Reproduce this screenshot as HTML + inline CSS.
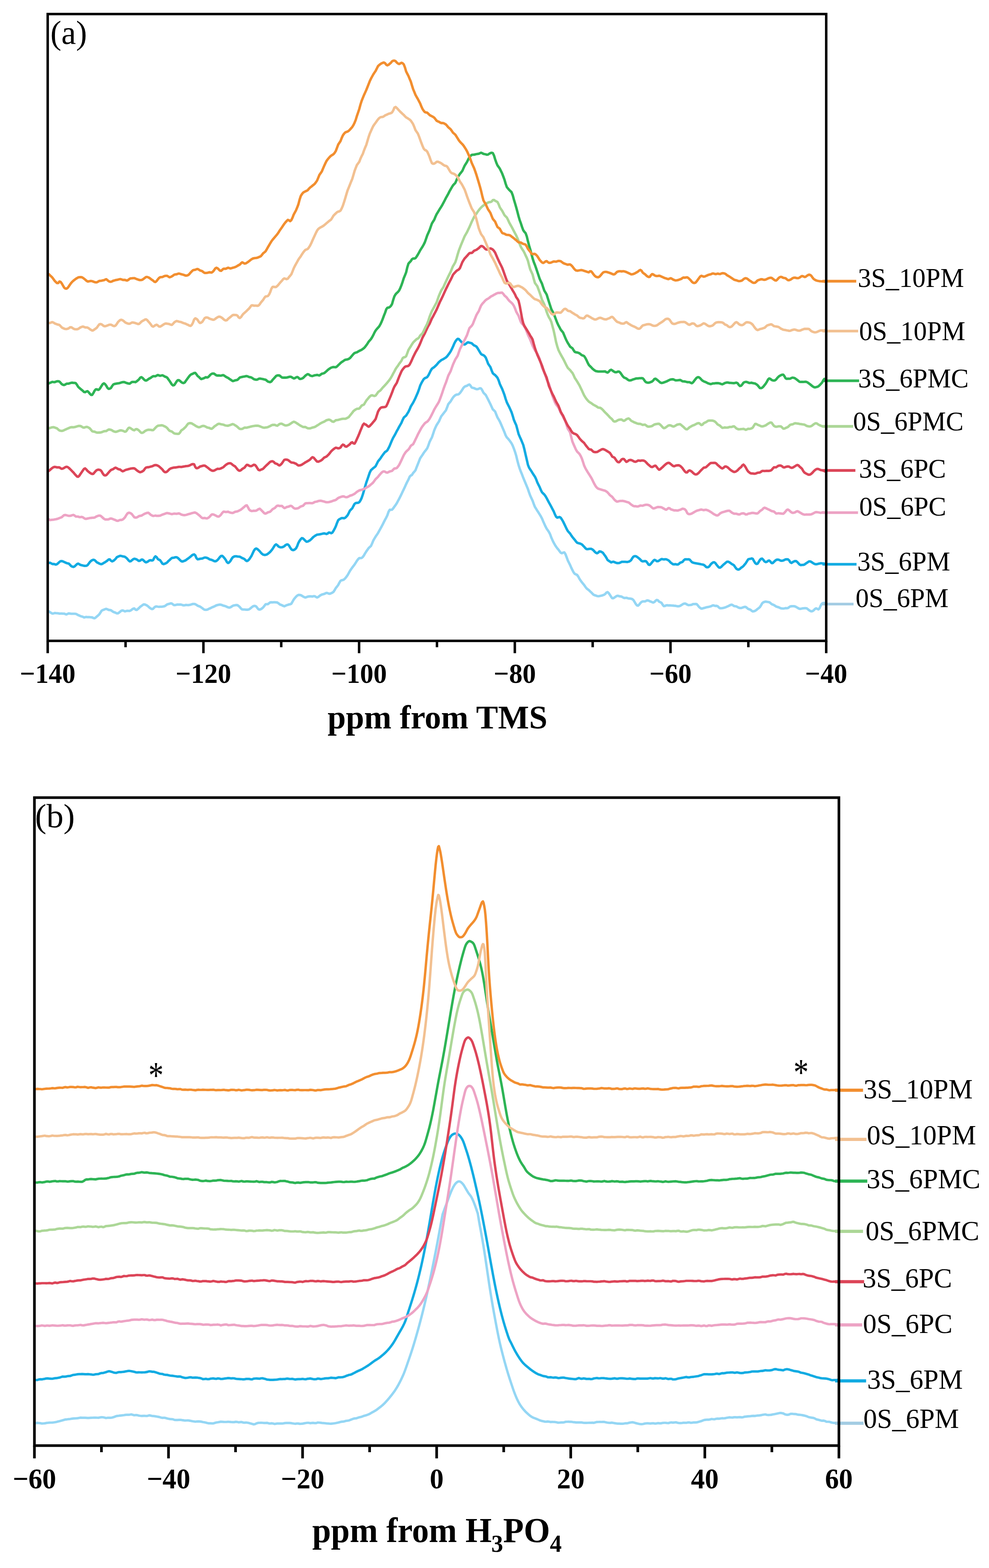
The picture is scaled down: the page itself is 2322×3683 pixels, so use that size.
<!DOCTYPE html>
<html lang="en"><head><meta charset="utf-8"><title>NMR spectra</title>
<style>html,body{margin:0;padding:0;background:#fff}svg{display:block}text{font-family:"Liberation Serif","DejaVu Serif",serif;fill:#000}.tk{font-weight:bold;font-size:63px;text-anchor:middle}.ax{font-weight:bold;font-size:77.2px}.pl{font-size:77.5px}.sl{font-size:62.3px}.tkb{font-weight:bold;font-size:65.2px;text-anchor:middle}.axb{font-weight:bold;font-size:79.3px}.plb{font-size:80.2px}.slb{font-size:64.1px}.stb{font-size:71px;text-anchor:middle}.cb{fill:none;stroke-width:5.7;stroke-linejoin:round;stroke-linecap:butt}.lgb{fill:none;stroke-width:7.4}.frb{fill:none;stroke:#000;stroke-width:6.2}.c{fill:none;stroke-width:5.8;stroke-linejoin:round;stroke-linecap:butt}.lg{fill:none;stroke-width:6.3}.fr{fill:none;stroke:#000;stroke-width:5.8}</style></head><body>
<svg width="2322" height="3683" viewBox="0 0 2322 3683">
<rect width="2322" height="3683" fill="#fff"/>
<g id="panel-a">
<path class="c" stroke="#94D6F4" d="M112.0,1435.5 L114.8,1436.1 L117.5,1438.0 L120.2,1439.7 L123.0,1441.2 L125.8,1440.9 L128.5,1439.9 L131.2,1440.2 L134.0,1440.4 L136.8,1440.6 L139.5,1441.3 L142.2,1441.2 L145.0,1441.2 L147.8,1441.4 L150.5,1441.3 L153.2,1442.4 L156.0,1443.2 L158.8,1441.9 L161.5,1440.8 L164.2,1441.2 L167.0,1441.7 L169.8,1441.6 L172.5,1441.7 L175.2,1441.7 L178.0,1441.8 L180.8,1443.2 L183.5,1444.8 L186.2,1445.8 L189.0,1447.2 L191.8,1448.0 L194.5,1448.8 L197.2,1450.3 L200.0,1449.7 L202.8,1449.2 L205.5,1449.6 L208.2,1449.4 L211.0,1449.6 L213.8,1450.0 L216.5,1450.1 L219.2,1451.6 L222.0,1452.2 L224.8,1450.4 L227.5,1447.9 L230.2,1445.7 L233.0,1443.1 L235.8,1438.8 L238.5,1434.7 L241.2,1432.9 L244.0,1432.0 L246.8,1430.8 L249.5,1430.1 L252.2,1431.2 L255.0,1432.5 L257.8,1432.8 L260.5,1433.4 L263.2,1435.4 L266.0,1437.2 L268.8,1438.2 L271.5,1439.3 L274.2,1440.7 L277.0,1440.7 L279.8,1438.7 L282.5,1436.4 L285.2,1434.4 L288.0,1433.8 L290.8,1434.9 L293.5,1436.0 L296.2,1435.3 L299.0,1434.6 L301.8,1434.9 L304.5,1435.0 L307.2,1433.7 L310.0,1431.5 L312.8,1429.7 L315.5,1429.2 L318.2,1432.1 L321.0,1432.6 L323.8,1430.5 L326.5,1428.0 L329.2,1425.2 L332.0,1423.3 L334.8,1421.2 L337.5,1419.6 L340.2,1419.9 L343.0,1421.2 L345.8,1422.6 L348.5,1424.9 L351.2,1427.4 L354.0,1429.3 L356.8,1430.6 L359.5,1429.9 L362.2,1426.9 L365.0,1424.8 L367.8,1424.5 L370.5,1425.0 L373.2,1425.4 L376.0,1425.2 L378.8,1425.2 L381.5,1424.9 L384.2,1424.4 L387.0,1423.6 L389.8,1421.7 L392.5,1419.7 L395.2,1418.8 L398.0,1418.2 L400.8,1417.2 L403.5,1417.7 L406.2,1419.8 L409.0,1421.4 L411.8,1421.2 L414.5,1420.3 L417.2,1420.0 L420.0,1420.1 L422.8,1420.0 L425.5,1420.1 L428.2,1421.1 L431.0,1421.9 L433.8,1421.7 L436.5,1420.9 L439.2,1421.1 L442.0,1421.3 L444.8,1420.8 L447.5,1420.4 L450.2,1419.4 L453.0,1418.6 L455.8,1418.6 L458.5,1419.2 L461.2,1420.7 L464.0,1422.7 L466.8,1423.7 L469.5,1424.8 L472.2,1426.5 L475.0,1428.5 L477.8,1430.8 L480.5,1432.2 L483.2,1432.4 L486.0,1432.2 L488.8,1431.0 L491.5,1429.5 L494.2,1428.5 L497.0,1426.9 L499.8,1425.8 L502.5,1424.8 L505.2,1423.4 L508.0,1421.9 L510.8,1421.1 L513.5,1420.5 L516.2,1420.2 L519.0,1420.5 L521.8,1421.5 L524.5,1422.7 L527.2,1423.2 L530.0,1424.0 L532.8,1425.5 L535.5,1426.5 L538.2,1427.2 L541.0,1426.5 L543.8,1424.7 L546.5,1422.9 L549.2,1422.0 L552.0,1421.6 L554.8,1421.2 L557.5,1421.5 L560.2,1423.3 L563.0,1425.9 L565.8,1429.3 L568.5,1431.4 L571.2,1431.6 L574.0,1431.6 L576.8,1432.0 L579.5,1432.1 L582.2,1432.0 L585.0,1431.2 L587.8,1429.2 L590.5,1426.8 L593.2,1424.7 L596.0,1423.3 L598.8,1423.2 L601.5,1424.6 L604.2,1428.1 L607.0,1431.2 L609.8,1431.8 L612.5,1430.8 L615.2,1429.0 L618.0,1426.6 L620.8,1422.9 L623.5,1419.4 L626.2,1419.2 L629.0,1419.0 L631.8,1416.8 L634.5,1414.9 L637.2,1414.6 L640.0,1414.8 L642.8,1414.6 L645.5,1414.6 L648.2,1414.8 L651.0,1415.2 L653.8,1417.1 L656.5,1419.3 L659.2,1420.6 L662.0,1421.6 L664.8,1423.1 L667.5,1424.0 L670.2,1422.9 L673.0,1421.5 L675.8,1420.8 L678.5,1419.7 L681.2,1419.3 L684.0,1418.0 L686.8,1413.2 L689.5,1408.3 L692.2,1404.9 L695.0,1401.7 L697.8,1399.0 L700.5,1397.5 L703.2,1397.4 L706.0,1397.9 L708.8,1399.4 L711.5,1401.2 L714.2,1402.5 L717.0,1403.4 L719.8,1402.5 L722.5,1401.3 L725.2,1401.0 L728.0,1400.7 L730.8,1400.9 L733.5,1401.2 L736.2,1400.3 L739.0,1400.3 L741.8,1402.2 L744.5,1403.4 L747.2,1402.2 L750.0,1399.9 L752.8,1398.0 L755.5,1396.6 L758.2,1395.8 L761.0,1395.2 L763.8,1393.8 L766.5,1392.7 L769.2,1393.1 L772.0,1394.5 L774.8,1394.5 L777.5,1393.4 L780.2,1392.1 L783.0,1390.1 L785.8,1385.8 L788.5,1381.1 L791.2,1377.9 L794.0,1374.1 L796.8,1368.7 L799.5,1364.3 L802.2,1362.9 L805.0,1362.3 L807.8,1361.0 L810.5,1358.4 L813.2,1355.0 L816.0,1351.1 L818.8,1346.1 L821.5,1341.1 L824.2,1337.1 L827.0,1333.1 L829.8,1329.5 L832.5,1326.0 L835.2,1321.7 L838.0,1317.3 L840.8,1313.5 L843.5,1311.0 L846.2,1310.8 L849.0,1310.6 L851.8,1308.2 L854.5,1304.5 L857.2,1299.7 L860.0,1295.2 L862.8,1291.3 L865.5,1287.3 L868.2,1284.9 L871.0,1282.4 L873.8,1276.1 L876.5,1269.5 L879.2,1264.9 L882.0,1260.2 L884.8,1256.2 L887.5,1252.0 L890.2,1247.1 L893.0,1242.1 L895.8,1237.0 L898.5,1231.9 L901.2,1226.4 L904.0,1220.9 L906.8,1215.8 L909.5,1210.2 L912.2,1202.3 L915.0,1197.5 L917.8,1197.5 L920.5,1197.1 L923.2,1194.0 L926.0,1190.0 L928.8,1186.2 L931.5,1182.2 L934.2,1177.0 L937.0,1171.8 L939.8,1166.4 L942.5,1160.9 L945.2,1155.0 L948.0,1149.2 L950.8,1143.2 L953.5,1137.1 L956.2,1131.6 L959.0,1126.4 L961.8,1119.8 L964.5,1116.9 L967.2,1115.6 L970.0,1111.0 L972.8,1107.8 L975.5,1104.5 L978.2,1097.3 L981.0,1090.4 L983.8,1083.2 L986.5,1076.4 L989.2,1072.4 L992.0,1068.4 L994.8,1063.9 L997.5,1060.1 L1000.2,1056.8 L1003.0,1053.0 L1005.8,1046.2 L1008.5,1038.1 L1011.2,1032.7 L1014.0,1027.5 L1016.8,1019.3 L1019.5,1010.9 L1022.2,1004.4 L1025.0,998.6 L1027.8,994.1 L1030.5,990.0 L1033.2,983.9 L1036.0,977.8 L1038.8,974.3 L1041.5,970.7 L1044.2,967.3 L1047.0,963.7 L1049.8,956.7 L1052.5,949.3 L1055.2,946.0 L1058.0,942.8 L1060.8,938.1 L1063.5,933.8 L1066.2,930.7 L1069.0,928.3 L1071.8,926.9 L1074.5,926.7 L1077.2,925.8 L1080.0,923.0 L1082.8,919.3 L1085.5,915.1 L1088.2,910.8 L1091.0,908.2 L1093.8,906.9 L1096.5,906.1 L1099.2,904.2 L1102.0,903.1 L1104.8,906.0 L1107.5,910.3 L1110.2,911.0 L1113.0,911.6 L1115.8,913.1 L1118.5,914.0 L1121.2,914.1 L1124.0,913.2 L1126.8,911.9 L1129.5,912.5 L1132.2,916.6 L1135.0,922.3 L1137.8,925.2 L1140.5,927.8 L1143.2,933.0 L1146.0,938.4 L1148.8,944.0 L1151.5,949.5 L1154.2,955.4 L1157.0,961.4 L1159.8,964.0 L1162.5,966.8 L1165.2,973.6 L1168.0,980.6 L1170.8,985.2 L1173.5,990.0 L1176.2,996.0 L1179.0,1002.6 L1181.8,1009.2 L1184.5,1015.5 L1187.2,1022.6 L1190.0,1027.5 L1192.8,1030.3 L1195.5,1033.6 L1198.2,1037.3 L1201.0,1041.3 L1203.8,1046.9 L1206.5,1053.8 L1209.2,1061.4 L1212.0,1070.5 L1214.8,1082.3 L1217.5,1092.3 L1220.2,1100.7 L1223.0,1108.2 L1225.8,1114.9 L1228.5,1122.2 L1231.2,1128.7 L1234.0,1135.4 L1236.8,1142.1 L1239.5,1148.7 L1242.2,1156.7 L1245.0,1164.4 L1247.8,1170.5 L1250.5,1176.3 L1253.2,1183.9 L1256.0,1190.8 L1258.8,1195.3 L1261.5,1199.7 L1264.2,1203.7 L1267.0,1208.2 L1269.8,1212.8 L1272.5,1217.8 L1275.2,1224.4 L1278.0,1230.6 L1280.8,1236.7 L1283.5,1241.8 L1286.2,1245.7 L1289.0,1249.8 L1291.8,1255.6 L1294.5,1262.9 L1297.2,1268.9 L1300.0,1274.7 L1302.8,1279.7 L1305.5,1283.9 L1308.2,1287.6 L1311.0,1290.9 L1313.8,1294.8 L1316.5,1298.2 L1319.2,1299.5 L1322.0,1298.0 L1324.8,1297.5 L1327.5,1301.4 L1330.2,1308.4 L1333.0,1316.1 L1335.8,1321.8 L1338.5,1327.1 L1341.2,1333.4 L1344.0,1339.1 L1346.8,1344.5 L1349.5,1347.9 L1352.2,1349.2 L1355.0,1350.5 L1357.8,1354.5 L1360.5,1359.7 L1363.2,1363.6 L1366.0,1367.5 L1368.8,1370.9 L1371.5,1374.1 L1374.2,1378.1 L1377.0,1381.9 L1379.8,1384.1 L1382.5,1386.1 L1385.2,1388.8 L1388.0,1391.3 L1390.8,1394.2 L1393.5,1396.9 L1396.2,1398.1 L1399.0,1398.9 L1401.8,1400.0 L1404.5,1400.5 L1407.2,1400.1 L1410.0,1399.5 L1412.8,1398.9 L1415.5,1398.0 L1418.2,1397.1 L1421.0,1395.2 L1423.8,1392.0 L1426.5,1390.8 L1429.2,1393.1 L1432.0,1397.3 L1434.8,1401.8 L1437.5,1405.1 L1440.2,1405.0 L1443.0,1403.2 L1445.8,1401.3 L1448.5,1399.6 L1451.2,1399.5 L1454.0,1400.5 L1456.8,1400.8 L1459.5,1401.4 L1462.2,1403.0 L1465.0,1404.5 L1467.8,1404.5 L1470.5,1404.1 L1473.2,1404.9 L1476.0,1405.8 L1478.8,1405.8 L1481.5,1406.3 L1484.2,1407.1 L1487.0,1409.2 L1489.8,1413.6 L1492.5,1418.3 L1495.2,1421.8 L1498.0,1422.6 L1500.8,1420.1 L1503.5,1416.5 L1506.2,1413.9 L1509.0,1412.7 L1511.8,1412.6 L1514.5,1412.7 L1517.2,1411.3 L1520.0,1410.2 L1522.8,1410.9 L1525.5,1412.2 L1528.2,1413.2 L1531.0,1414.4 L1533.8,1415.3 L1536.5,1413.9 L1539.2,1411.1 L1542.0,1409.1 L1544.8,1410.2 L1547.5,1413.2 L1550.2,1414.5 L1553.0,1415.9 L1555.8,1420.3 L1558.5,1423.6 L1561.2,1423.3 L1564.0,1421.9 L1566.8,1421.6 L1569.5,1422.1 L1572.2,1422.0 L1575.0,1422.1 L1577.8,1422.3 L1580.5,1422.5 L1583.2,1422.8 L1586.0,1423.0 L1588.8,1423.7 L1591.5,1424.1 L1594.2,1423.9 L1597.0,1423.0 L1599.8,1421.3 L1602.5,1419.6 L1605.2,1418.0 L1608.0,1417.6 L1610.8,1418.6 L1613.5,1420.1 L1616.2,1421.3 L1619.0,1421.2 L1621.8,1420.9 L1624.5,1420.3 L1627.2,1418.8 L1630.0,1418.9 L1632.8,1418.7 L1635.5,1418.8 L1638.2,1421.7 L1641.0,1425.3 L1643.8,1427.8 L1646.5,1429.5 L1649.2,1429.3 L1652.0,1428.3 L1654.8,1427.7 L1657.5,1426.8 L1660.2,1426.1 L1663.0,1425.6 L1665.8,1425.0 L1668.5,1424.3 L1671.2,1423.0 L1674.0,1421.8 L1676.8,1422.4 L1679.5,1423.3 L1682.2,1423.0 L1685.0,1423.9 L1687.8,1426.8 L1690.5,1428.7 L1693.2,1428.7 L1696.0,1428.3 L1698.8,1427.8 L1701.5,1427.1 L1704.2,1426.1 L1707.0,1424.9 L1709.8,1423.7 L1712.5,1422.4 L1715.2,1420.9 L1718.0,1420.2 L1720.8,1421.7 L1723.5,1423.6 L1726.2,1424.0 L1729.0,1424.4 L1731.8,1426.0 L1734.5,1427.4 L1737.2,1428.1 L1740.0,1428.2 L1742.8,1427.3 L1745.5,1426.3 L1748.2,1425.5 L1751.0,1425.7 L1753.8,1427.9 L1756.5,1430.3 L1759.2,1431.1 L1762.0,1432.2 L1764.8,1434.7 L1767.5,1436.1 L1770.2,1435.7 L1773.0,1434.7 L1775.8,1432.8 L1778.5,1430.5 L1781.2,1428.5 L1784.0,1426.1 L1786.8,1421.8 L1789.5,1417.0 L1792.2,1414.8 L1795.0,1413.7 L1797.8,1413.2 L1800.5,1413.6 L1803.2,1414.0 L1806.0,1414.5 L1808.8,1416.4 L1811.5,1418.8 L1814.2,1420.0 L1817.0,1421.1 L1819.8,1423.0 L1822.5,1424.7 L1825.2,1425.6 L1828.0,1426.4 L1830.8,1427.7 L1833.5,1428.8 L1836.2,1429.2 L1839.0,1429.4 L1841.8,1429.0 L1844.5,1428.4 L1847.2,1428.6 L1850.0,1428.2 L1852.8,1426.1 L1855.5,1424.3 L1858.2,1424.0 L1861.0,1423.8 L1863.8,1423.8 L1866.5,1424.4 L1869.2,1425.7 L1872.0,1427.2 L1874.8,1429.0 L1877.5,1430.2 L1880.2,1430.0 L1883.0,1429.2 L1885.8,1428.9 L1888.5,1428.7 L1891.2,1428.5 L1894.0,1428.9 L1896.8,1431.0 L1899.5,1433.2 L1902.2,1434.9 L1905.0,1435.9 L1907.8,1435.3 L1910.5,1433.4 L1913.2,1430.6 L1916.0,1428.9 L1918.8,1430.1 L1921.5,1431.4 L1924.2,1428.6 L1927.0,1422.2 L1929.8,1417.9 L1932.5,1416.5 L1935.2,1416.5 L1938.0,1416.9 L1939.8,1416.8"/>
<path class="c" stroke="#12ABE2" d="M112.0,1322.8 L114.8,1322.2 L117.5,1321.9 L120.2,1323.3 L123.0,1324.8 L125.8,1324.7 L128.5,1325.3 L131.2,1326.1 L134.0,1325.0 L136.8,1322.6 L139.5,1320.0 L142.2,1318.1 L145.0,1317.9 L147.8,1318.7 L150.5,1320.0 L153.2,1321.2 L156.0,1322.5 L158.8,1323.2 L161.5,1323.9 L164.2,1326.4 L167.0,1329.4 L169.8,1331.0 L172.5,1331.6 L175.2,1330.3 L178.0,1327.7 L180.8,1325.0 L183.5,1323.8 L186.2,1325.2 L189.0,1327.0 L191.8,1327.6 L194.5,1328.3 L197.2,1329.0 L200.0,1329.2 L202.8,1328.9 L205.5,1327.5 L208.2,1324.0 L211.0,1320.2 L213.8,1317.5 L216.5,1315.7 L219.2,1314.9 L222.0,1315.5 L224.8,1318.2 L227.5,1320.8 L230.2,1322.1 L233.0,1323.6 L235.8,1324.8 L238.5,1325.0 L241.2,1323.8 L244.0,1322.1 L246.8,1320.4 L249.5,1318.6 L252.2,1316.6 L255.0,1314.2 L257.8,1314.0 L260.5,1316.9 L263.2,1318.6 L266.0,1317.4 L268.8,1315.2 L271.5,1312.5 L274.2,1308.9 L277.0,1307.5 L279.8,1306.3 L282.5,1305.5 L285.2,1306.0 L288.0,1306.8 L290.8,1307.2 L293.5,1308.1 L296.2,1310.0 L299.0,1312.7 L301.8,1316.2 L304.5,1318.6 L307.2,1318.2 L310.0,1315.7 L312.8,1313.4 L315.5,1312.4 L318.2,1313.0 L321.0,1314.2 L323.8,1316.1 L326.5,1317.6 L329.2,1316.7 L332.0,1314.5 L334.8,1314.5 L337.5,1316.7 L340.2,1319.5 L343.0,1320.8 L345.8,1319.8 L348.5,1318.0 L351.2,1316.2 L354.0,1315.9 L356.8,1316.7 L359.5,1315.5 L362.2,1309.9 L365.0,1306.8 L367.8,1308.9 L370.5,1313.0 L373.2,1314.7 L376.0,1316.0 L378.8,1320.2 L381.5,1324.1 L384.2,1325.0 L387.0,1324.0 L389.8,1322.8 L392.5,1321.1 L395.2,1318.0 L398.0,1315.6 L400.8,1312.9 L403.5,1310.6 L406.2,1310.1 L409.0,1309.8 L411.8,1308.8 L414.5,1308.8 L417.2,1310.3 L420.0,1312.7 L422.8,1315.7 L425.5,1318.1 L428.2,1318.9 L431.0,1318.1 L433.8,1317.1 L436.5,1315.6 L439.2,1313.5 L442.0,1311.6 L444.8,1309.5 L447.5,1307.3 L450.2,1304.8 L453.0,1303.0 L455.8,1302.2 L458.5,1304.5 L461.2,1310.8 L464.0,1313.7 L466.8,1313.4 L469.5,1312.5 L472.2,1312.2 L475.0,1311.8 L477.8,1310.6 L480.5,1309.6 L483.2,1309.7 L486.0,1310.4 L488.8,1311.7 L491.5,1313.5 L494.2,1314.4 L497.0,1315.1 L499.8,1316.4 L502.5,1317.8 L505.2,1318.4 L508.0,1317.6 L510.8,1315.3 L513.5,1312.2 L516.2,1308.6 L519.0,1305.9 L521.8,1305.7 L524.5,1308.2 L527.2,1311.3 L530.0,1315.1 L532.8,1320.3 L535.5,1322.4 L538.2,1320.9 L541.0,1317.7 L543.8,1312.8 L546.5,1309.0 L549.2,1307.4 L552.0,1306.6 L554.8,1306.6 L557.5,1307.1 L560.2,1307.4 L563.0,1307.7 L565.8,1309.1 L568.5,1310.8 L571.2,1311.8 L574.0,1313.3 L576.8,1316.2 L579.5,1317.9 L582.2,1316.6 L585.0,1313.9 L587.8,1309.8 L590.5,1305.6 L593.2,1299.8 L596.0,1293.7 L598.8,1289.8 L601.5,1288.3 L604.2,1289.6 L607.0,1292.2 L609.8,1294.8 L612.5,1298.2 L615.2,1300.9 L618.0,1302.8 L620.8,1303.5 L623.5,1303.3 L626.2,1302.5 L629.0,1300.7 L631.8,1298.5 L634.5,1296.1 L637.2,1292.9 L640.0,1289.2 L642.8,1284.7 L645.5,1280.6 L648.2,1278.7 L651.0,1280.6 L653.8,1283.6 L656.5,1285.0 L659.2,1285.6 L662.0,1285.4 L664.8,1284.6 L667.5,1283.0 L670.2,1280.5 L673.0,1278.9 L675.8,1278.9 L678.5,1281.3 L681.2,1286.1 L684.0,1290.2 L686.8,1291.9 L689.5,1292.0 L692.2,1290.4 L695.0,1288.1 L697.8,1282.7 L700.5,1275.3 L703.2,1270.5 L706.0,1266.6 L708.8,1263.9 L711.5,1264.8 L714.2,1267.4 L717.0,1270.2 L719.8,1272.4 L722.5,1272.0 L725.2,1270.6 L728.0,1268.9 L730.8,1266.4 L733.5,1263.5 L736.2,1261.0 L739.0,1259.0 L741.8,1257.3 L744.5,1255.9 L747.2,1255.5 L750.0,1255.2 L752.8,1254.6 L755.5,1254.0 L758.2,1253.3 L761.0,1252.8 L763.8,1253.5 L766.5,1254.3 L769.2,1253.1 L772.0,1250.9 L774.8,1251.2 L777.5,1252.5 L780.2,1251.1 L783.0,1246.9 L785.8,1241.7 L788.5,1236.1 L791.2,1228.6 L794.0,1221.9 L796.8,1219.6 L799.5,1218.2 L802.2,1216.9 L805.0,1216.8 L807.8,1217.4 L810.5,1216.2 L813.2,1213.5 L816.0,1210.3 L818.8,1205.1 L821.5,1199.5 L824.2,1196.7 L827.0,1194.0 L829.8,1188.5 L832.5,1183.5 L835.2,1181.6 L838.0,1181.2 L840.8,1181.0 L843.5,1179.5 L846.2,1175.6 L849.0,1169.9 L851.8,1161.6 L854.5,1152.5 L857.2,1142.8 L860.0,1133.5 L862.8,1125.6 L865.5,1117.8 L868.2,1109.8 L871.0,1104.4 L873.8,1101.8 L876.5,1099.4 L879.2,1097.5 L882.0,1094.8 L884.8,1089.2 L887.5,1083.8 L890.2,1080.4 L893.0,1077.0 L895.8,1072.6 L898.5,1068.9 L901.2,1065.3 L904.0,1061.8 L906.8,1060.1 L909.5,1057.6 L912.2,1052.7 L915.0,1046.9 L917.8,1040.2 L920.5,1033.7 L923.2,1028.1 L926.0,1023.3 L928.8,1018.1 L931.5,1012.8 L934.2,1008.1 L937.0,1002.7 L939.8,997.9 L942.5,993.1 L945.2,986.7 L948.0,980.9 L950.8,978.4 L953.5,976.1 L956.2,971.8 L959.0,967.3 L961.8,961.3 L964.5,954.7 L967.2,950.2 L970.0,945.7 L972.8,940.2 L975.5,934.7 L978.2,928.4 L981.0,922.0 L983.8,914.3 L986.5,905.8 L989.2,900.2 L992.0,895.2 L994.8,890.6 L997.5,888.3 L1000.2,887.3 L1003.0,885.7 L1005.8,881.6 L1008.5,876.2 L1011.2,870.6 L1014.0,866.1 L1016.8,864.0 L1019.5,862.3 L1022.2,859.6 L1025.0,857.0 L1027.8,853.6 L1030.5,850.4 L1033.2,848.2 L1036.0,845.9 L1038.8,844.5 L1041.5,843.1 L1044.2,841.4 L1047.0,839.6 L1049.8,836.9 L1052.5,833.3 L1055.2,829.7 L1058.0,825.5 L1060.8,820.0 L1063.5,814.3 L1066.2,807.8 L1069.0,802.3 L1071.8,798.4 L1074.5,795.8 L1077.2,796.4 L1080.0,799.6 L1082.8,802.5 L1085.5,805.4 L1088.2,808.7 L1091.0,809.2 L1093.8,807.5 L1096.5,805.2 L1099.2,804.0 L1102.0,804.9 L1104.8,805.5 L1107.5,806.2 L1110.2,808.9 L1113.0,811.3 L1115.8,812.4 L1118.5,814.0 L1121.2,817.8 L1124.0,822.5 L1126.8,827.2 L1129.5,831.6 L1132.2,833.3 L1135.0,834.3 L1137.8,836.4 L1140.5,840.0 L1143.2,846.8 L1146.0,854.3 L1148.8,858.5 L1151.5,862.4 L1154.2,869.8 L1157.0,876.6 L1159.8,879.2 L1162.5,881.0 L1165.2,883.9 L1168.0,887.3 L1170.8,893.7 L1173.5,901.9 L1176.2,907.7 L1179.0,913.6 L1181.8,920.7 L1184.5,928.1 L1187.2,937.1 L1190.0,945.1 L1192.8,950.7 L1195.5,956.0 L1198.2,961.9 L1201.0,968.2 L1203.8,976.8 L1206.5,986.2 L1209.2,992.5 L1212.0,998.6 L1214.8,1009.0 L1217.5,1019.3 L1220.2,1025.7 L1223.0,1031.7 L1225.8,1038.5 L1228.5,1045.0 L1231.2,1055.5 L1234.0,1067.8 L1236.8,1079.9 L1239.5,1091.7 L1242.2,1098.5 L1245.0,1102.8 L1247.8,1107.0 L1250.5,1111.4 L1253.2,1115.6 L1256.0,1119.8 L1258.8,1125.7 L1261.5,1132.9 L1264.2,1138.5 L1267.0,1144.0 L1269.8,1150.9 L1272.5,1156.2 L1275.2,1159.0 L1278.0,1161.6 L1280.8,1165.5 L1283.5,1170.1 L1286.2,1175.3 L1289.0,1180.7 L1291.8,1185.7 L1294.5,1190.7 L1297.2,1195.8 L1300.0,1201.2 L1302.8,1208.0 L1305.5,1213.5 L1308.2,1215.9 L1311.0,1215.1 L1313.8,1214.4 L1316.5,1216.2 L1319.2,1220.1 L1322.0,1224.9 L1324.8,1230.6 L1327.5,1236.2 L1330.2,1242.0 L1333.0,1247.1 L1335.8,1250.3 L1338.5,1253.3 L1341.2,1257.5 L1344.0,1261.5 L1346.8,1264.9 L1349.5,1268.1 L1352.2,1271.7 L1355.0,1274.7 L1357.8,1275.7 L1360.5,1276.4 L1363.2,1277.2 L1366.0,1278.7 L1368.8,1281.4 L1371.5,1284.2 L1374.2,1287.4 L1377.0,1289.6 L1379.8,1289.8 L1382.5,1289.4 L1385.2,1289.1 L1388.0,1289.1 L1390.8,1290.5 L1393.5,1292.8 L1396.2,1295.8 L1399.0,1298.4 L1401.8,1299.5 L1404.5,1298.1 L1407.2,1295.2 L1410.0,1295.5 L1412.8,1296.7 L1415.5,1298.4 L1418.2,1302.2 L1421.0,1305.9 L1423.8,1310.4 L1426.5,1315.3 L1429.2,1317.2 L1432.0,1318.9 L1434.8,1320.9 L1437.5,1320.0 L1440.2,1319.3 L1443.0,1320.5 L1445.8,1321.7 L1448.5,1322.5 L1451.2,1322.6 L1454.0,1322.4 L1456.8,1321.1 L1459.5,1319.7 L1462.2,1319.6 L1465.0,1319.7 L1467.8,1319.7 L1470.5,1319.9 L1473.2,1320.0 L1476.0,1319.3 L1478.8,1318.0 L1481.5,1316.0 L1484.2,1311.5 L1487.0,1307.6 L1489.8,1306.3 L1492.5,1306.4 L1495.2,1307.7 L1498.0,1309.8 L1500.8,1312.0 L1503.5,1314.5 L1506.2,1317.5 L1509.0,1318.6 L1511.8,1318.1 L1514.5,1317.8 L1517.2,1318.6 L1520.0,1322.2 L1522.8,1326.4 L1525.5,1326.8 L1528.2,1324.2 L1531.0,1320.6 L1533.8,1317.3 L1536.5,1315.1 L1539.2,1316.0 L1542.0,1318.2 L1544.8,1318.1 L1547.5,1316.7 L1550.2,1314.8 L1553.0,1313.2 L1555.8,1313.5 L1558.5,1314.0 L1561.2,1313.7 L1564.0,1313.6 L1566.8,1314.8 L1569.5,1316.2 L1572.2,1318.7 L1575.0,1321.7 L1577.8,1323.8 L1580.5,1325.4 L1583.2,1325.5 L1586.0,1325.2 L1588.8,1325.8 L1591.5,1325.9 L1594.2,1324.3 L1597.0,1321.7 L1599.8,1320.7 L1602.5,1319.7 L1605.2,1316.2 L1608.0,1313.9 L1610.8,1313.7 L1613.5,1313.9 L1616.2,1313.7 L1619.0,1314.3 L1621.8,1317.4 L1624.5,1320.4 L1627.2,1321.6 L1630.0,1322.3 L1632.8,1322.8 L1635.5,1323.3 L1638.2,1323.8 L1641.0,1324.3 L1643.8,1324.9 L1646.5,1325.5 L1649.2,1326.0 L1652.0,1326.6 L1654.8,1328.6 L1657.5,1331.5 L1660.2,1332.5 L1663.0,1332.1 L1665.8,1329.7 L1668.5,1325.8 L1671.2,1323.1 L1674.0,1321.2 L1676.8,1320.6 L1679.5,1322.5 L1682.2,1326.2 L1685.0,1329.8 L1687.8,1332.9 L1690.5,1333.4 L1693.2,1331.6 L1696.0,1328.8 L1698.8,1326.1 L1701.5,1323.9 L1704.2,1321.5 L1707.0,1319.4 L1709.8,1319.3 L1712.5,1320.8 L1715.2,1322.5 L1718.0,1324.7 L1720.8,1326.2 L1723.5,1328.1 L1726.2,1332.3 L1729.0,1335.9 L1731.8,1337.5 L1734.5,1337.8 L1737.2,1336.3 L1740.0,1333.5 L1742.8,1331.7 L1745.5,1329.5 L1748.2,1326.1 L1751.0,1322.8 L1753.8,1318.3 L1756.5,1313.9 L1759.2,1312.9 L1762.0,1312.6 L1764.8,1311.7 L1767.5,1312.8 L1770.2,1317.8 L1773.0,1322.5 L1775.8,1324.6 L1778.5,1324.2 L1781.2,1320.1 L1784.0,1315.4 L1786.8,1312.6 L1789.5,1312.2 L1792.2,1315.0 L1795.0,1318.8 L1797.8,1320.3 L1800.5,1319.6 L1803.2,1317.4 L1806.0,1316.6 L1808.8,1319.2 L1811.5,1322.5 L1814.2,1322.5 L1817.0,1319.9 L1819.8,1317.1 L1822.5,1315.1 L1825.2,1314.4 L1828.0,1314.6 L1830.8,1315.9 L1833.5,1317.1 L1836.2,1317.1 L1839.0,1316.5 L1841.8,1315.2 L1844.5,1313.9 L1847.2,1313.6 L1850.0,1313.8 L1852.8,1316.3 L1855.5,1320.8 L1858.2,1322.3 L1861.0,1320.3 L1863.8,1318.9 L1866.5,1317.8 L1869.2,1318.0 L1872.0,1320.3 L1874.8,1323.4 L1877.5,1326.1 L1880.2,1327.3 L1883.0,1326.9 L1885.8,1326.8 L1888.5,1326.2 L1891.2,1324.1 L1894.0,1322.3 L1896.8,1320.4 L1899.5,1318.6 L1902.2,1318.7 L1905.0,1320.0 L1907.8,1321.9 L1910.5,1323.7 L1913.2,1324.9 L1916.0,1325.4 L1918.8,1324.9 L1921.5,1324.2 L1924.2,1323.6 L1927.0,1323.0 L1929.8,1323.2 L1932.5,1323.3 L1935.2,1324.0 L1938.0,1324.7 L1939.8,1324.4"/>
<path class="c" stroke="#EDA3C4" d="M112.0,1218.8 L114.8,1219.9 L117.5,1221.5 L120.2,1221.2 L123.0,1220.8 L125.8,1220.6 L128.5,1220.0 L131.2,1219.6 L134.0,1218.9 L136.8,1218.0 L139.5,1216.9 L142.2,1215.9 L145.0,1214.8 L147.8,1212.2 L150.5,1210.0 L153.2,1209.6 L156.0,1210.3 L158.8,1211.0 L161.5,1211.6 L164.2,1211.7 L167.0,1211.1 L169.8,1210.0 L172.5,1209.5 L175.2,1211.0 L178.0,1213.2 L180.8,1213.4 L183.5,1213.4 L186.2,1214.6 L189.0,1214.6 L191.8,1214.2 L194.5,1215.1 L197.2,1216.9 L200.0,1218.5 L202.8,1218.6 L205.5,1217.9 L208.2,1217.4 L211.0,1216.7 L213.8,1216.5 L216.5,1216.2 L219.2,1216.1 L222.0,1215.7 L224.8,1214.1 L227.5,1212.6 L230.2,1211.6 L233.0,1211.0 L235.8,1211.4 L238.5,1213.5 L241.2,1216.0 L244.0,1218.5 L246.8,1220.0 L249.5,1220.2 L252.2,1220.2 L255.0,1219.8 L257.8,1218.4 L260.5,1217.9 L263.2,1218.5 L266.0,1219.6 L268.8,1220.8 L271.5,1221.8 L274.2,1223.1 L277.0,1223.3 L279.8,1222.1 L282.5,1221.1 L285.2,1221.4 L288.0,1220.3 L290.8,1218.0 L293.5,1215.1 L296.2,1210.3 L299.0,1206.3 L301.8,1204.5 L304.5,1204.5 L307.2,1205.8 L310.0,1208.1 L312.8,1211.9 L315.5,1215.1 L318.2,1215.8 L321.0,1215.4 L323.8,1214.0 L326.5,1212.2 L329.2,1211.6 L332.0,1211.2 L334.8,1209.6 L337.5,1207.9 L340.2,1206.5 L343.0,1205.6 L345.8,1204.6 L348.5,1204.4 L351.2,1206.7 L354.0,1209.3 L356.8,1210.8 L359.5,1211.9 L362.2,1211.5 L365.0,1211.0 L367.8,1211.6 L370.5,1211.7 L373.2,1211.5 L376.0,1211.1 L378.8,1209.9 L381.5,1208.7 L384.2,1207.7 L387.0,1206.9 L389.8,1205.7 L392.5,1205.2 L395.2,1205.6 L398.0,1206.2 L400.8,1207.0 L403.5,1207.6 L406.2,1207.0 L409.0,1206.4 L411.8,1206.6 L414.5,1206.8 L417.2,1206.3 L420.0,1205.8 L422.8,1207.0 L425.5,1208.6 L428.2,1209.3 L431.0,1209.9 L433.8,1210.0 L436.5,1209.5 L439.2,1208.8 L442.0,1207.8 L444.8,1207.1 L447.5,1206.4 L450.2,1205.4 L453.0,1204.7 L455.8,1204.0 L458.5,1204.0 L461.2,1205.3 L464.0,1207.5 L466.8,1209.7 L469.5,1211.9 L472.2,1214.9 L475.0,1216.8 L477.8,1217.0 L480.5,1216.7 L483.2,1217.3 L486.0,1217.6 L488.8,1216.3 L491.5,1214.5 L494.2,1211.3 L497.0,1208.6 L499.8,1208.2 L502.5,1209.0 L505.2,1210.3 L508.0,1211.8 L510.8,1213.2 L513.5,1213.4 L516.2,1211.5 L519.0,1208.7 L521.8,1204.7 L524.5,1201.9 L527.2,1202.0 L530.0,1202.6 L532.8,1202.3 L535.5,1202.0 L538.2,1203.2 L541.0,1204.1 L543.8,1204.7 L546.5,1204.9 L549.2,1203.6 L552.0,1202.2 L554.8,1201.7 L557.5,1201.1 L560.2,1199.9 L563.0,1198.5 L565.8,1196.9 L568.5,1194.8 L571.2,1192.4 L574.0,1190.2 L576.8,1187.6 L579.5,1187.0 L582.2,1191.4 L585.0,1196.9 L587.8,1199.3 L590.5,1200.3 L593.2,1200.2 L596.0,1199.6 L598.8,1199.8 L601.5,1199.4 L604.2,1197.8 L607.0,1196.0 L609.8,1194.9 L612.5,1197.3 L615.2,1200.1 L618.0,1202.9 L620.8,1205.7 L623.5,1206.4 L626.2,1205.2 L629.0,1203.4 L631.8,1202.7 L634.5,1201.7 L637.2,1199.0 L640.0,1196.1 L642.8,1194.5 L645.5,1192.9 L648.2,1190.1 L651.0,1187.8 L653.8,1187.7 L656.5,1188.6 L659.2,1188.3 L662.0,1188.4 L664.8,1191.1 L667.5,1193.4 L670.2,1192.7 L673.0,1190.8 L675.8,1190.3 L678.5,1189.7 L681.2,1188.2 L684.0,1188.3 L686.8,1190.5 L689.5,1193.2 L692.2,1194.5 L695.0,1194.6 L697.8,1194.2 L700.5,1193.5 L703.2,1191.7 L706.0,1189.7 L708.8,1188.8 L711.5,1188.0 L714.2,1185.0 L717.0,1182.3 L719.8,1181.9 L722.5,1181.9 L725.2,1181.7 L728.0,1181.7 L730.8,1181.9 L733.5,1181.9 L736.2,1180.8 L739.0,1179.0 L741.8,1178.5 L744.5,1178.0 L747.2,1176.8 L750.0,1176.3 L752.8,1176.2 L755.5,1176.7 L758.2,1177.4 L761.0,1178.0 L763.8,1179.1 L766.5,1179.6 L769.2,1179.6 L772.0,1179.3 L774.8,1178.7 L777.5,1177.9 L780.2,1177.0 L783.0,1175.9 L785.8,1175.1 L788.5,1174.3 L791.2,1172.0 L794.0,1169.7 L796.8,1168.5 L799.5,1167.5 L802.2,1166.6 L805.0,1165.9 L807.8,1166.2 L810.5,1167.5 L813.2,1167.9 L816.0,1167.4 L818.8,1166.0 L821.5,1164.4 L824.2,1163.6 L827.0,1162.8 L829.8,1161.3 L832.5,1159.9 L835.2,1157.6 L838.0,1155.2 L840.8,1153.5 L843.5,1151.9 L846.2,1151.1 L849.0,1150.5 L851.8,1149.6 L854.5,1148.7 L857.2,1147.2 L860.0,1145.4 L862.8,1144.0 L865.5,1142.3 L868.2,1140.3 L871.0,1137.9 L873.8,1135.6 L876.5,1132.9 L879.2,1129.1 L882.0,1125.3 L884.8,1122.7 L887.5,1120.0 L890.2,1116.5 L893.0,1113.3 L895.8,1110.3 L898.5,1108.0 L901.2,1107.2 L904.0,1108.1 L906.8,1109.7 L909.5,1110.0 L912.2,1108.9 L915.0,1107.4 L917.8,1106.7 L920.5,1106.0 L923.2,1103.1 L926.0,1100.5 L928.8,1100.2 L931.5,1099.3 L934.2,1096.1 L937.0,1092.2 L939.8,1086.6 L942.5,1080.9 L945.2,1075.0 L948.0,1069.0 L950.8,1064.5 L953.5,1060.8 L956.2,1058.3 L959.0,1055.9 L961.8,1051.8 L964.5,1047.1 L967.2,1045.2 L970.0,1043.3 L972.8,1037.9 L975.5,1032.2 L978.2,1026.8 L981.0,1020.7 L983.8,1015.4 L986.5,1010.3 L989.2,1005.3 L992.0,1001.2 L994.8,997.5 L997.5,994.2 L1000.2,992.0 L1003.0,990.4 L1005.8,987.4 L1008.5,983.7 L1011.2,978.9 L1014.0,973.4 L1016.8,967.8 L1019.5,962.0 L1022.2,957.4 L1025.0,952.8 L1027.8,948.4 L1030.5,943.7 L1033.2,936.9 L1036.0,929.2 L1038.8,921.2 L1041.5,912.9 L1044.2,905.5 L1047.0,898.5 L1049.8,890.4 L1052.5,882.4 L1055.2,877.1 L1058.0,871.9 L1060.8,863.9 L1063.5,856.4 L1066.2,850.3 L1069.0,844.3 L1071.8,839.9 L1074.5,835.5 L1077.2,827.6 L1080.0,819.8 L1082.8,814.3 L1085.5,808.8 L1088.2,803.5 L1091.0,798.2 L1093.8,792.6 L1096.5,787.1 L1099.2,779.0 L1102.0,771.1 L1104.8,768.1 L1107.5,765.3 L1110.2,761.0 L1113.0,753.6 L1115.8,746.9 L1118.5,740.2 L1121.2,735.4 L1124.0,731.0 L1126.8,724.0 L1129.5,717.7 L1132.2,713.8 L1135.0,710.8 L1137.8,707.6 L1140.5,704.8 L1143.2,702.9 L1146.0,701.5 L1148.8,699.5 L1151.5,697.2 L1154.2,695.6 L1157.0,694.3 L1159.8,692.5 L1162.5,691.1 L1165.2,689.6 L1168.0,688.3 L1170.8,688.0 L1173.5,688.1 L1176.2,687.4 L1179.0,687.5 L1181.8,690.4 L1184.5,694.2 L1187.2,696.5 L1190.0,699.2 L1192.8,703.1 L1195.5,706.4 L1198.2,708.9 L1201.0,711.3 L1203.8,714.3 L1206.5,718.3 L1209.2,724.5 L1212.0,732.1 L1214.8,737.0 L1217.5,741.6 L1220.2,749.2 L1223.0,756.5 L1225.8,760.7 L1228.5,762.9 L1231.2,767.4 L1234.0,772.6 L1236.8,779.4 L1239.5,786.3 L1242.2,792.1 L1245.0,798.1 L1247.8,805.2 L1250.5,812.3 L1253.2,817.7 L1256.0,823.0 L1258.8,826.9 L1261.5,830.9 L1264.2,836.8 L1267.0,843.0 L1269.8,852.8 L1272.5,863.0 L1275.2,869.0 L1278.0,875.0 L1280.8,883.1 L1283.5,891.2 L1286.2,896.5 L1289.0,902.2 L1291.8,911.5 L1294.5,921.4 L1297.2,930.3 L1300.0,937.8 L1302.8,944.6 L1305.5,950.0 L1308.2,953.4 L1311.0,957.1 L1313.8,963.1 L1316.5,969.4 L1319.2,974.1 L1322.0,979.2 L1324.8,984.6 L1327.5,990.2 L1330.2,998.3 L1333.0,1006.9 L1335.8,1011.3 L1338.5,1015.7 L1341.2,1026.8 L1344.0,1037.4 L1346.8,1044.0 L1349.5,1050.0 L1352.2,1056.1 L1355.0,1060.8 L1357.8,1063.4 L1360.5,1066.2 L1363.2,1070.8 L1366.0,1076.8 L1368.8,1085.0 L1371.5,1093.6 L1374.2,1099.3 L1377.0,1104.3 L1379.8,1109.0 L1382.5,1113.1 L1385.2,1117.5 L1388.0,1121.9 L1390.8,1127.2 L1393.5,1132.9 L1396.2,1138.1 L1399.0,1142.8 L1401.8,1145.9 L1404.5,1147.8 L1407.2,1148.8 L1410.0,1149.5 L1412.8,1150.4 L1415.5,1151.2 L1418.2,1151.9 L1421.0,1152.8 L1423.8,1154.4 L1426.5,1156.6 L1429.2,1159.7 L1432.0,1163.0 L1434.8,1165.2 L1437.5,1167.2 L1440.2,1170.8 L1443.0,1174.3 L1445.8,1176.6 L1448.5,1178.1 L1451.2,1177.8 L1454.0,1176.9 L1456.8,1176.7 L1459.5,1176.6 L1462.2,1176.5 L1465.0,1177.1 L1467.8,1177.8 L1470.5,1178.8 L1473.2,1179.5 L1476.0,1180.3 L1478.8,1182.5 L1481.5,1184.9 L1484.2,1186.7 L1487.0,1188.5 L1489.8,1189.1 L1492.5,1189.0 L1495.2,1189.6 L1498.0,1189.6 L1500.8,1188.5 L1503.5,1187.5 L1506.2,1187.7 L1509.0,1187.8 L1511.8,1186.8 L1514.5,1185.9 L1517.2,1185.7 L1520.0,1185.7 L1522.8,1186.4 L1525.5,1187.7 L1528.2,1189.8 L1531.0,1192.4 L1533.8,1194.2 L1536.5,1193.8 L1539.2,1192.8 L1542.0,1191.6 L1544.8,1190.8 L1547.5,1191.0 L1550.2,1191.1 L1553.0,1191.7 L1555.8,1193.1 L1558.5,1194.6 L1561.2,1196.1 L1564.0,1197.2 L1566.8,1195.6 L1569.5,1193.3 L1572.2,1193.9 L1575.0,1196.2 L1577.8,1197.2 L1580.5,1198.1 L1583.2,1198.9 L1586.0,1198.7 L1588.8,1199.1 L1591.5,1199.2 L1594.2,1198.1 L1597.0,1197.5 L1599.8,1196.1 L1602.5,1194.8 L1605.2,1195.3 L1608.0,1196.4 L1610.8,1199.5 L1613.5,1205.0 L1616.2,1207.4 L1619.0,1207.6 L1621.8,1207.1 L1624.5,1206.0 L1627.2,1204.5 L1630.0,1202.7 L1632.8,1201.2 L1635.5,1199.8 L1638.2,1198.9 L1641.0,1198.2 L1643.8,1197.4 L1646.5,1196.8 L1649.2,1197.5 L1652.0,1198.3 L1654.8,1197.7 L1657.5,1197.4 L1660.2,1198.2 L1663.0,1199.2 L1665.8,1200.8 L1668.5,1202.4 L1671.2,1204.2 L1674.0,1206.3 L1676.8,1208.0 L1679.5,1209.3 L1682.2,1210.5 L1685.0,1210.7 L1687.8,1208.7 L1690.5,1206.0 L1693.2,1204.4 L1696.0,1203.3 L1698.8,1202.5 L1701.5,1201.8 L1704.2,1200.8 L1707.0,1200.2 L1709.8,1199.7 L1712.5,1199.6 L1715.2,1201.6 L1718.0,1203.9 L1720.8,1205.3 L1723.5,1206.5 L1726.2,1206.6 L1729.0,1206.7 L1731.8,1207.7 L1734.5,1208.3 L1737.2,1208.0 L1740.0,1206.5 L1742.8,1205.8 L1745.5,1205.7 L1748.2,1206.7 L1751.0,1208.4 L1753.8,1208.1 L1756.5,1206.7 L1759.2,1206.2 L1762.0,1205.6 L1764.8,1204.9 L1767.5,1204.7 L1770.2,1205.1 L1773.0,1205.6 L1775.8,1206.1 L1778.5,1205.9 L1781.2,1203.7 L1784.0,1200.7 L1786.8,1198.8 L1789.5,1197.1 L1792.2,1194.1 L1795.0,1192.5 L1797.8,1193.4 L1800.5,1194.9 L1803.2,1196.1 L1806.0,1197.4 L1808.8,1198.8 L1811.5,1200.4 L1814.2,1200.9 L1817.0,1201.5 L1819.8,1204.0 L1822.5,1206.2 L1825.2,1205.9 L1828.0,1205.5 L1830.8,1206.0 L1833.5,1206.2 L1836.2,1206.7 L1839.0,1206.7 L1841.8,1204.3 L1844.5,1201.2 L1847.2,1197.7 L1850.0,1196.9 L1852.8,1198.7 L1855.5,1201.2 L1858.2,1203.5 L1861.0,1204.7 L1863.8,1204.3 L1866.5,1203.4 L1869.2,1201.8 L1872.0,1200.7 L1874.8,1201.8 L1877.5,1203.5 L1880.2,1205.1 L1883.0,1206.8 L1885.8,1208.0 L1888.5,1208.8 L1891.2,1208.7 L1894.0,1208.5 L1896.8,1208.6 L1899.5,1208.5 L1902.2,1208.5 L1905.0,1208.0 L1907.8,1206.7 L1910.5,1205.2 L1913.2,1203.7 L1916.0,1202.9 L1918.8,1203.1 L1921.5,1203.5 L1924.2,1204.0 L1927.0,1204.7 L1929.8,1203.9 L1932.5,1203.2 L1935.2,1203.8 L1938.0,1204.4 L1939.8,1204.9"/>
<path class="c" stroke="#DC4558" d="M112.0,1106.1 L114.8,1106.1 L117.5,1103.8 L120.2,1101.2 L123.0,1098.9 L125.8,1097.3 L128.5,1096.7 L131.2,1097.1 L134.0,1097.9 L136.8,1097.6 L139.5,1097.8 L142.2,1099.9 L145.0,1101.1 L147.8,1100.5 L150.5,1099.1 L153.2,1097.3 L156.0,1096.4 L158.8,1097.0 L161.5,1099.0 L164.2,1101.5 L167.0,1104.3 L169.8,1107.2 L172.5,1109.9 L175.2,1113.2 L178.0,1116.3 L180.8,1119.1 L183.5,1119.9 L186.2,1117.4 L189.0,1113.2 L191.8,1109.1 L194.5,1105.2 L197.2,1101.4 L200.0,1100.3 L202.8,1102.8 L205.5,1106.1 L208.2,1108.2 L211.0,1110.5 L213.8,1112.2 L216.5,1113.3 L219.2,1112.9 L222.0,1109.5 L224.8,1106.3 L227.5,1104.1 L230.2,1103.1 L233.0,1103.4 L235.8,1104.3 L238.5,1107.1 L241.2,1112.0 L244.0,1115.8 L246.8,1116.8 L249.5,1116.0 L252.2,1113.2 L255.0,1109.9 L257.8,1106.6 L260.5,1104.0 L263.2,1102.8 L266.0,1101.7 L268.8,1099.4 L271.5,1098.5 L274.2,1099.8 L277.0,1101.6 L279.8,1102.4 L282.5,1103.1 L285.2,1105.4 L288.0,1107.0 L290.8,1106.1 L293.5,1104.4 L296.2,1103.4 L299.0,1102.7 L301.8,1101.9 L304.5,1101.2 L307.2,1100.5 L310.0,1100.2 L312.8,1099.8 L315.5,1100.1 L318.2,1102.1 L321.0,1104.5 L323.8,1106.6 L326.5,1108.2 L329.2,1109.2 L332.0,1108.3 L334.8,1106.9 L337.5,1104.9 L340.2,1100.9 L343.0,1098.2 L345.8,1097.5 L348.5,1097.5 L351.2,1096.8 L354.0,1095.9 L356.8,1095.4 L359.5,1094.3 L362.2,1092.9 L365.0,1092.3 L367.8,1092.7 L370.5,1093.9 L373.2,1095.3 L376.0,1097.8 L378.8,1100.4 L381.5,1103.0 L384.2,1106.7 L387.0,1108.9 L389.8,1109.0 L392.5,1107.5 L395.2,1104.7 L398.0,1101.9 L400.8,1100.3 L403.5,1099.4 L406.2,1098.7 L409.0,1098.2 L411.8,1098.0 L414.5,1097.7 L417.2,1097.2 L420.0,1096.6 L422.8,1096.7 L425.5,1096.9 L428.2,1096.4 L431.0,1095.8 L433.8,1095.4 L436.5,1094.9 L439.2,1094.7 L442.0,1094.3 L444.8,1093.4 L447.5,1092.0 L450.2,1090.7 L453.0,1090.1 L455.8,1090.6 L458.5,1096.9 L461.2,1099.7 L464.0,1099.5 L466.8,1097.9 L469.5,1095.9 L472.2,1095.1 L475.0,1094.4 L477.8,1093.6 L480.5,1093.6 L483.2,1095.1 L486.0,1097.2 L488.8,1099.3 L491.5,1101.6 L494.2,1103.6 L497.0,1105.2 L499.8,1105.8 L502.5,1105.4 L505.2,1104.1 L508.0,1102.5 L510.8,1101.1 L513.5,1101.4 L516.2,1101.1 L519.0,1100.0 L521.8,1098.7 L524.5,1097.3 L527.2,1094.6 L530.0,1092.1 L532.8,1090.3 L535.5,1088.8 L538.2,1088.1 L541.0,1088.1 L543.8,1089.7 L546.5,1092.1 L549.2,1093.9 L552.0,1095.6 L554.8,1099.0 L557.5,1102.4 L560.2,1105.0 L563.0,1105.8 L565.8,1104.3 L568.5,1101.7 L571.2,1100.1 L574.0,1098.5 L576.8,1094.7 L579.5,1091.8 L582.2,1092.2 L585.0,1093.9 L587.8,1094.9 L590.5,1094.8 L593.2,1093.3 L596.0,1091.6 L598.8,1092.3 L601.5,1095.3 L604.2,1099.8 L607.0,1103.7 L609.8,1104.6 L612.5,1103.2 L615.2,1102.3 L618.0,1100.9 L620.8,1097.8 L623.5,1095.0 L626.2,1092.4 L629.0,1089.8 L631.8,1087.1 L634.5,1084.7 L637.2,1083.7 L640.0,1083.5 L642.8,1085.1 L645.5,1088.0 L648.2,1089.0 L651.0,1089.9 L653.8,1092.4 L656.5,1093.2 L659.2,1091.2 L662.0,1088.2 L664.8,1084.0 L667.5,1080.0 L670.2,1079.5 L673.0,1079.6 L675.8,1080.3 L678.5,1082.2 L681.2,1084.4 L684.0,1086.3 L686.8,1086.6 L689.5,1087.0 L692.2,1088.2 L695.0,1089.3 L697.8,1091.5 L700.5,1093.3 L703.2,1093.2 L706.0,1092.7 L708.8,1091.4 L711.5,1089.6 L714.2,1087.9 L717.0,1086.0 L719.8,1084.4 L722.5,1082.9 L725.2,1081.3 L728.0,1079.4 L730.8,1076.2 L733.5,1073.9 L736.2,1074.9 L739.0,1078.0 L741.8,1081.4 L744.5,1084.1 L747.2,1084.5 L750.0,1083.4 L752.8,1082.2 L755.5,1080.4 L758.2,1077.8 L761.0,1074.9 L763.8,1073.6 L766.5,1072.3 L769.2,1069.8 L772.0,1067.1 L774.8,1063.6 L777.5,1060.1 L780.2,1057.5 L783.0,1055.1 L785.8,1053.0 L788.5,1051.6 L791.2,1052.3 L794.0,1053.1 L796.8,1052.7 L799.5,1051.1 L802.2,1046.9 L805.0,1044.3 L807.8,1045.5 L810.5,1048.5 L813.2,1049.2 L816.0,1047.5 L818.8,1045.5 L821.5,1043.3 L824.2,1040.0 L827.0,1038.8 L829.8,1041.4 L832.5,1042.0 L835.2,1037.4 L838.0,1031.1 L840.8,1025.0 L843.5,1018.6 L846.2,1011.6 L849.0,1005.1 L851.8,998.3 L854.5,995.1 L857.2,996.7 L860.0,998.0 L862.8,1000.7 L865.5,1002.3 L868.2,1000.5 L871.0,997.5 L873.8,994.6 L876.5,991.1 L879.2,988.0 L882.0,984.0 L884.8,975.4 L887.5,967.0 L890.2,962.2 L893.0,958.6 L895.8,956.8 L898.5,956.5 L901.2,956.3 L904.0,955.9 L906.8,954.2 L909.5,948.8 L912.2,942.2 L915.0,935.5 L917.8,928.8 L920.5,921.9 L923.2,914.4 L926.0,908.1 L928.8,903.6 L931.5,899.5 L934.2,892.4 L937.0,885.2 L939.8,878.7 L942.5,872.3 L945.2,868.0 L948.0,864.5 L950.8,861.6 L953.5,860.3 L956.2,860.1 L959.0,859.4 L961.8,856.3 L964.5,851.0 L967.2,845.1 L970.0,838.7 L972.8,832.9 L975.5,827.6 L978.2,823.0 L981.0,818.3 L983.8,812.7 L986.5,806.8 L989.2,800.0 L992.0,793.0 L994.8,787.9 L997.5,782.8 L1000.2,776.8 L1003.0,770.8 L1005.8,765.3 L1008.5,760.8 L1011.2,754.5 L1014.0,748.1 L1016.8,743.3 L1019.5,737.9 L1022.2,732.8 L1025.0,727.4 L1027.8,720.9 L1030.5,714.5 L1033.2,708.4 L1036.0,702.9 L1038.8,697.1 L1041.5,691.1 L1044.2,685.1 L1047.0,679.1 L1049.8,673.4 L1052.5,667.8 L1055.2,662.5 L1058.0,657.2 L1060.8,651.4 L1063.5,645.5 L1066.2,642.2 L1069.0,639.2 L1071.8,636.2 L1074.5,634.6 L1077.2,632.8 L1080.0,629.5 L1082.8,622.5 L1085.5,615.7 L1088.2,611.3 L1091.0,606.9 L1093.8,603.9 L1096.5,601.1 L1099.2,597.8 L1102.0,594.9 L1104.8,594.1 L1107.5,594.2 L1110.2,592.1 L1113.0,589.1 L1115.8,587.9 L1118.5,586.9 L1121.2,584.9 L1124.0,582.9 L1126.8,580.0 L1129.5,577.9 L1132.2,578.2 L1135.0,580.1 L1137.8,583.1 L1140.5,585.5 L1143.2,586.2 L1146.0,585.9 L1148.8,584.3 L1151.5,583.5 L1154.2,584.5 L1157.0,586.3 L1159.8,589.3 L1162.5,593.4 L1165.2,599.7 L1168.0,606.2 L1170.8,612.2 L1173.5,618.0 L1176.2,623.3 L1179.0,629.1 L1181.8,636.4 L1184.5,644.2 L1187.2,651.9 L1190.0,659.4 L1192.8,663.8 L1195.5,668.1 L1198.2,672.9 L1201.0,677.4 L1203.8,682.5 L1206.5,686.8 L1209.2,691.6 L1212.0,698.0 L1214.8,701.8 L1217.5,706.5 L1220.2,717.9 L1223.0,733.0 L1225.8,748.4 L1228.5,759.5 L1231.2,765.5 L1234.0,770.1 L1236.8,774.5 L1239.5,779.0 L1242.2,783.4 L1245.0,788.7 L1247.8,792.6 L1250.5,797.7 L1253.2,808.0 L1256.0,817.8 L1258.8,825.7 L1261.5,833.0 L1264.2,839.2 L1267.0,845.6 L1269.8,852.0 L1272.5,858.8 L1275.2,866.6 L1278.0,874.5 L1280.8,880.9 L1283.5,887.2 L1286.2,897.2 L1289.0,907.2 L1291.8,913.7 L1294.5,919.8 L1297.2,925.9 L1300.0,931.0 L1302.8,937.1 L1305.5,943.2 L1308.2,947.9 L1311.0,952.7 L1313.8,959.8 L1316.5,967.2 L1319.2,972.0 L1322.0,976.4 L1324.8,982.7 L1327.5,988.6 L1330.2,994.3 L1333.0,999.8 L1335.8,1003.6 L1338.5,1007.3 L1341.2,1012.3 L1344.0,1016.1 L1346.8,1018.0 L1349.5,1019.1 L1352.2,1020.0 L1355.0,1022.1 L1357.8,1025.7 L1360.5,1029.7 L1363.2,1032.8 L1366.0,1035.7 L1368.8,1038.1 L1371.5,1040.5 L1374.2,1044.5 L1377.0,1048.1 L1379.8,1051.5 L1382.5,1054.8 L1385.2,1055.6 L1388.0,1056.2 L1390.8,1058.9 L1393.5,1061.2 L1396.2,1061.9 L1399.0,1062.0 L1401.8,1061.6 L1404.5,1060.2 L1407.2,1058.6 L1410.0,1057.0 L1412.8,1055.4 L1415.5,1054.8 L1418.2,1055.6 L1421.0,1056.9 L1423.8,1058.5 L1426.5,1060.3 L1429.2,1061.9 L1432.0,1063.8 L1434.8,1068.0 L1437.5,1072.5 L1440.2,1073.7 L1443.0,1075.3 L1445.8,1079.6 L1448.5,1083.4 L1451.2,1085.6 L1454.0,1085.5 L1456.8,1082.6 L1459.5,1079.1 L1462.2,1077.9 L1465.0,1078.4 L1467.8,1081.7 L1470.5,1084.8 L1473.2,1083.8 L1476.0,1081.3 L1478.8,1080.5 L1481.5,1080.5 L1484.2,1081.4 L1487.0,1083.0 L1489.8,1084.3 L1492.5,1084.6 L1495.2,1083.4 L1498.0,1081.7 L1500.8,1081.8 L1503.5,1082.3 L1506.2,1081.7 L1509.0,1081.6 L1511.8,1082.2 L1514.5,1083.5 L1517.2,1086.2 L1520.0,1089.3 L1522.8,1091.8 L1525.5,1094.1 L1528.2,1096.4 L1531.0,1097.0 L1533.8,1095.8 L1536.5,1094.2 L1539.2,1093.8 L1542.0,1097.1 L1544.8,1100.9 L1547.5,1103.2 L1550.2,1102.1 L1553.0,1099.4 L1555.8,1097.1 L1558.5,1094.4 L1561.2,1091.9 L1564.0,1089.6 L1566.8,1087.8 L1569.5,1087.1 L1572.2,1087.9 L1575.0,1090.2 L1577.8,1092.7 L1580.5,1094.7 L1583.2,1095.1 L1586.0,1093.8 L1588.8,1093.2 L1591.5,1093.0 L1594.2,1093.0 L1597.0,1094.5 L1599.8,1096.9 L1602.5,1099.8 L1605.2,1103.8 L1608.0,1107.4 L1610.8,1109.7 L1613.5,1109.5 L1616.2,1105.9 L1619.0,1105.0 L1621.8,1106.2 L1624.5,1108.0 L1627.2,1110.8 L1630.0,1113.1 L1632.8,1114.3 L1635.5,1114.2 L1638.2,1112.5 L1641.0,1110.2 L1643.8,1106.9 L1646.5,1104.1 L1649.2,1101.5 L1652.0,1098.7 L1654.8,1098.1 L1657.5,1097.5 L1660.2,1094.9 L1663.0,1092.4 L1665.8,1089.7 L1668.5,1087.6 L1671.2,1087.3 L1674.0,1087.3 L1676.8,1087.1 L1679.5,1087.3 L1682.2,1089.2 L1685.0,1092.2 L1687.8,1094.5 L1690.5,1096.9 L1693.2,1099.1 L1696.0,1100.3 L1698.8,1098.8 L1701.5,1096.1 L1704.2,1095.6 L1707.0,1096.8 L1709.8,1098.9 L1712.5,1101.5 L1715.2,1103.9 L1718.0,1105.7 L1720.8,1107.4 L1723.5,1108.6 L1726.2,1108.2 L1729.0,1106.7 L1731.8,1104.6 L1734.5,1101.7 L1737.2,1099.2 L1740.0,1097.2 L1742.8,1093.1 L1745.5,1091.3 L1748.2,1093.8 L1751.0,1098.2 L1753.8,1103.5 L1756.5,1107.4 L1759.2,1109.6 L1762.0,1111.6 L1764.8,1112.1 L1767.5,1112.1 L1770.2,1112.7 L1773.0,1112.6 L1775.8,1111.7 L1778.5,1110.5 L1781.2,1110.1 L1784.0,1109.9 L1786.8,1108.0 L1789.5,1106.2 L1792.2,1106.2 L1795.0,1106.4 L1797.8,1106.1 L1800.5,1106.0 L1803.2,1106.1 L1806.0,1106.0 L1808.8,1105.4 L1811.5,1104.0 L1814.2,1100.7 L1817.0,1097.6 L1819.8,1097.6 L1822.5,1097.5 L1825.2,1095.5 L1828.0,1093.8 L1830.8,1093.5 L1833.5,1093.7 L1836.2,1095.3 L1839.0,1097.6 L1841.8,1097.9 L1844.5,1096.8 L1847.2,1096.0 L1850.0,1095.7 L1852.8,1096.2 L1855.5,1097.9 L1858.2,1098.9 L1861.0,1098.3 L1863.8,1096.9 L1866.5,1095.1 L1869.2,1093.4 L1872.0,1092.2 L1874.8,1093.3 L1877.5,1096.2 L1880.2,1098.5 L1883.0,1101.1 L1885.8,1106.2 L1888.5,1109.8 L1891.2,1111.5 L1894.0,1113.0 L1896.8,1114.4 L1899.5,1115.2 L1902.2,1114.5 L1905.0,1112.6 L1907.8,1110.0 L1910.5,1106.9 L1913.2,1104.4 L1916.0,1102.4 L1918.8,1101.3 L1921.5,1101.6 L1924.2,1102.8 L1927.0,1104.2 L1929.8,1104.5 L1932.5,1105.0 L1935.2,1106.3 L1938.0,1107.8 L1939.8,1108.0"/>
<path class="c" stroke="#ACD797" d="M112.0,1005.5 L114.8,1005.8 L117.5,1005.2 L120.2,1004.3 L123.0,1003.6 L125.8,1003.4 L128.5,1004.2 L131.2,1005.2 L134.0,1006.3 L136.8,1008.9 L139.5,1011.1 L142.2,1011.8 L145.0,1012.2 L147.8,1011.6 L150.5,1010.4 L153.2,1009.2 L156.0,1007.8 L158.8,1006.6 L161.5,1005.5 L164.2,1004.3 L167.0,1003.4 L169.8,1003.5 L172.5,1003.6 L175.2,1003.2 L178.0,1002.4 L180.8,1001.5 L183.5,1000.7 L186.2,1000.3 L189.0,1000.6 L191.8,1002.1 L194.5,1003.9 L197.2,1004.5 L200.0,1003.6 L202.8,1002.7 L205.5,1003.2 L208.2,1004.5 L211.0,1006.3 L213.8,1009.7 L216.5,1013.0 L219.2,1013.7 L222.0,1014.0 L224.8,1015.2 L227.5,1016.1 L230.2,1016.2 L233.0,1016.0 L235.8,1015.8 L238.5,1015.2 L241.2,1014.1 L244.0,1013.0 L246.8,1012.7 L249.5,1012.5 L252.2,1010.7 L255.0,1008.9 L257.8,1009.0 L260.5,1009.6 L263.2,1010.9 L266.0,1012.8 L268.8,1013.8 L271.5,1014.3 L274.2,1013.8 L277.0,1012.8 L279.8,1011.8 L282.5,1010.8 L285.2,1011.0 L288.0,1011.8 L290.8,1012.9 L293.5,1014.1 L296.2,1013.1 L299.0,1009.0 L301.8,1005.2 L304.5,1004.7 L307.2,1006.2 L310.0,1008.3 L312.8,1009.9 L315.5,1010.7 L318.2,1008.4 L321.0,1007.9 L323.8,1009.4 L326.5,1011.3 L329.2,1014.5 L332.0,1016.6 L334.8,1016.5 L337.5,1015.0 L340.2,1012.6 L343.0,1011.2 L345.8,1010.0 L348.5,1009.3 L351.2,1009.5 L354.0,1009.6 L356.8,1010.4 L359.5,1010.4 L362.2,1007.9 L365.0,1004.8 L367.8,1001.9 L370.5,1000.2 L373.2,999.6 L376.0,999.3 L378.8,999.0 L381.5,999.1 L384.2,1000.3 L387.0,1001.7 L389.8,1003.1 L392.5,1005.4 L395.2,1008.8 L398.0,1011.8 L400.8,1012.8 L403.5,1013.6 L406.2,1015.9 L409.0,1018.0 L411.8,1018.6 L414.5,1018.8 L417.2,1019.1 L420.0,1018.9 L422.8,1015.8 L425.5,1011.2 L428.2,1009.3 L431.0,1007.4 L433.8,1004.7 L436.5,1001.9 L439.2,998.2 L442.0,994.9 L444.8,994.0 L447.5,993.8 L450.2,994.6 L453.0,996.3 L455.8,997.9 L458.5,999.7 L461.2,1001.4 L464.0,1002.7 L466.8,1003.6 L469.5,1003.2 L472.2,1001.9 L475.0,1000.6 L477.8,1000.3 L480.5,1001.0 L483.2,1002.3 L486.0,1003.9 L488.8,1004.6 L491.5,1005.1 L494.2,1006.6 L497.0,1007.2 L499.8,1005.2 L502.5,1002.4 L505.2,1000.4 L508.0,998.6 L510.8,996.5 L513.5,995.4 L516.2,995.7 L519.0,996.6 L521.8,997.0 L524.5,997.5 L527.2,998.7 L530.0,999.5 L532.8,999.9 L535.5,1000.0 L538.2,999.1 L541.0,998.2 L543.8,997.0 L546.5,996.1 L549.2,997.1 L552.0,998.9 L554.8,1000.6 L557.5,1002.7 L560.2,1005.3 L563.0,1007.3 L565.8,1007.7 L568.5,1007.3 L571.2,1006.1 L574.0,1004.5 L576.8,1004.5 L579.5,1004.6 L582.2,1003.7 L585.0,1003.1 L587.8,1002.3 L590.5,1001.6 L593.2,1001.0 L596.0,1000.6 L598.8,1000.2 L601.5,999.9 L604.2,1000.0 L607.0,1000.2 L609.8,1001.2 L612.5,1002.4 L615.2,1003.4 L618.0,1004.3 L620.8,1004.6 L623.5,1004.2 L626.2,1003.9 L629.0,1003.2 L631.8,1001.9 L634.5,1000.7 L637.2,999.0 L640.0,998.0 L642.8,997.9 L645.5,998.0 L648.2,999.3 L651.0,1000.0 L653.8,997.9 L656.5,995.9 L659.2,995.2 L662.0,995.4 L664.8,997.0 L667.5,998.4 L670.2,999.3 L673.0,999.1 L675.8,998.5 L678.5,997.6 L681.2,995.7 L684.0,993.9 L686.8,992.0 L689.5,990.7 L692.2,991.3 L695.0,992.9 L697.8,994.7 L700.5,996.5 L703.2,998.5 L706.0,1000.1 L708.8,1001.5 L711.5,1002.8 L714.2,1003.0 L717.0,1003.0 L719.8,1004.6 L722.5,1005.8 L725.2,1006.1 L728.0,1006.2 L730.8,1005.3 L733.5,1004.3 L736.2,1003.7 L739.0,1002.9 L741.8,1001.3 L744.5,999.5 L747.2,998.0 L750.0,996.0 L752.8,994.3 L755.5,992.8 L758.2,991.6 L761.0,990.6 L763.8,988.7 L766.5,987.1 L769.2,986.3 L772.0,985.7 L774.8,986.3 L777.5,988.1 L780.2,990.1 L783.0,990.8 L785.8,989.0 L788.5,987.0 L791.2,986.7 L794.0,986.3 L796.8,985.5 L799.5,984.8 L802.2,984.1 L805.0,983.7 L807.8,983.7 L810.5,983.7 L813.2,982.7 L816.0,981.3 L818.8,979.7 L821.5,976.3 L824.2,973.0 L827.0,969.5 L829.8,965.7 L832.5,963.7 L835.2,961.7 L838.0,960.2 L840.8,960.1 L843.5,959.6 L846.2,956.5 L849.0,952.7 L851.8,951.5 L854.5,950.2 L857.2,945.6 L860.0,940.9 L862.8,937.6 L865.5,934.3 L868.2,931.3 L871.0,929.1 L873.8,928.4 L876.5,929.5 L879.2,930.1 L882.0,929.0 L884.8,925.3 L887.5,921.3 L890.2,919.1 L893.0,917.1 L895.8,913.8 L898.5,910.5 L901.2,907.7 L904.0,904.7 L906.8,901.6 L909.5,898.5 L912.2,895.2 L915.0,891.5 L917.8,887.3 L920.5,882.6 L923.2,877.4 L926.0,872.3 L928.8,866.9 L931.5,862.7 L934.2,859.2 L937.0,854.7 L939.8,851.1 L942.5,847.4 L945.2,841.6 L948.0,839.3 L950.8,838.8 L953.5,836.7 L956.2,829.7 L959.0,822.1 L961.8,817.4 L964.5,813.3 L967.2,808.8 L970.0,804.6 L972.8,801.7 L975.5,799.1 L978.2,796.5 L981.0,795.3 L983.8,792.7 L986.5,788.1 L989.2,785.6 L992.0,782.8 L994.8,777.2 L997.5,771.4 L1000.2,766.2 L1003.0,760.5 L1005.8,752.9 L1008.5,744.4 L1011.2,737.3 L1014.0,730.7 L1016.8,725.6 L1019.5,720.6 L1022.2,715.5 L1025.0,710.4 L1027.8,702.6 L1030.5,694.8 L1033.2,688.5 L1036.0,682.2 L1038.8,677.9 L1041.5,673.4 L1044.2,667.2 L1047.0,661.3 L1049.8,655.3 L1052.5,649.6 L1055.2,644.1 L1058.0,638.6 L1060.8,631.7 L1063.5,625.2 L1066.2,620.9 L1069.0,615.8 L1071.8,607.3 L1074.5,597.6 L1077.2,588.8 L1080.0,581.5 L1082.8,574.3 L1085.5,567.9 L1088.2,561.3 L1091.0,554.7 L1093.8,549.9 L1096.5,545.2 L1099.2,539.5 L1102.0,533.7 L1104.8,527.4 L1107.5,521.0 L1110.2,515.5 L1113.0,509.7 L1115.8,505.6 L1118.5,502.0 L1121.2,497.7 L1124.0,493.9 L1126.8,490.4 L1129.5,487.3 L1132.2,484.8 L1135.0,482.6 L1137.8,480.6 L1140.5,478.8 L1143.2,477.2 L1146.0,475.7 L1148.8,474.7 L1151.5,474.6 L1154.2,473.4 L1157.0,470.1 L1159.8,469.6 L1162.5,471.7 L1165.2,472.9 L1168.0,474.5 L1170.8,480.0 L1173.5,487.0 L1176.2,491.2 L1179.0,495.2 L1181.8,500.4 L1184.5,505.5 L1187.2,508.2 L1190.0,511.0 L1192.8,516.5 L1195.5,522.6 L1198.2,527.5 L1201.0,532.4 L1203.8,537.7 L1206.5,542.8 L1209.2,548.0 L1212.0,553.2 L1214.8,559.4 L1217.5,566.1 L1220.2,573.3 L1223.0,580.1 L1225.8,584.9 L1228.5,588.7 L1231.2,593.6 L1234.0,599.9 L1236.8,605.6 L1239.5,612.5 L1242.2,623.1 L1245.0,633.1 L1247.8,639.1 L1250.5,645.0 L1253.2,655.4 L1256.0,664.8 L1258.8,668.6 L1261.5,672.2 L1264.2,679.4 L1267.0,687.0 L1269.8,695.3 L1272.5,704.1 L1275.2,709.4 L1278.0,715.3 L1280.8,724.2 L1283.5,732.6 L1286.2,739.8 L1289.0,745.8 L1291.8,750.3 L1294.5,756.4 L1297.2,766.4 L1300.0,776.8 L1302.8,789.8 L1305.5,803.2 L1308.2,813.1 L1311.0,821.7 L1313.8,827.5 L1316.5,832.6 L1319.2,837.5 L1322.0,842.3 L1324.8,847.7 L1327.5,853.3 L1330.2,858.7 L1333.0,863.9 L1335.8,866.7 L1338.5,869.3 L1341.2,872.8 L1344.0,876.0 L1346.8,881.4 L1349.5,887.6 L1352.2,891.7 L1355.0,896.0 L1357.8,900.7 L1360.5,905.2 L1363.2,910.9 L1366.0,916.7 L1368.8,923.1 L1371.5,928.7 L1374.2,933.1 L1377.0,937.1 L1379.8,940.5 L1382.5,943.3 L1385.2,945.2 L1388.0,946.8 L1390.8,948.9 L1393.5,950.8 L1396.2,952.2 L1399.0,953.6 L1401.8,955.5 L1404.5,957.3 L1407.2,957.6 L1410.0,958.2 L1412.8,960.4 L1415.5,962.9 L1418.2,966.0 L1421.0,969.0 L1423.8,971.7 L1426.5,974.4 L1429.2,977.2 L1432.0,980.5 L1434.8,982.7 L1437.5,985.3 L1440.2,989.1 L1443.0,990.2 L1445.8,989.6 L1448.5,988.3 L1451.2,986.6 L1454.0,985.8 L1456.8,985.3 L1459.5,985.5 L1462.2,987.5 L1465.0,988.5 L1467.8,986.9 L1470.5,984.9 L1473.2,983.5 L1476.0,982.9 L1478.8,984.8 L1481.5,988.0 L1484.2,989.5 L1487.0,990.9 L1489.8,992.3 L1492.5,993.3 L1495.2,994.4 L1498.0,995.3 L1500.8,995.5 L1503.5,995.7 L1506.2,996.9 L1509.0,998.0 L1511.8,997.7 L1514.5,997.5 L1517.2,999.4 L1520.0,1001.6 L1522.8,1002.2 L1525.5,1001.8 L1528.2,1001.4 L1531.0,1000.7 L1533.8,998.7 L1536.5,997.1 L1539.2,996.4 L1542.0,995.8 L1544.8,995.3 L1547.5,995.5 L1550.2,997.6 L1553.0,1000.3 L1555.8,1003.6 L1558.5,1005.7 L1561.2,1005.1 L1564.0,1003.3 L1566.8,1001.2 L1569.5,999.3 L1572.2,998.9 L1575.0,999.4 L1577.8,1000.8 L1580.5,1001.8 L1583.2,1001.3 L1586.0,999.8 L1588.8,997.9 L1591.5,997.1 L1594.2,996.5 L1597.0,996.5 L1599.8,998.7 L1602.5,1001.2 L1605.2,1003.2 L1608.0,1006.2 L1610.8,1008.2 L1613.5,1008.3 L1616.2,1006.1 L1619.0,1003.5 L1621.8,1002.0 L1624.5,1000.4 L1627.2,999.2 L1630.0,998.2 L1632.8,996.7 L1635.5,995.2 L1638.2,994.1 L1641.0,993.8 L1643.8,995.9 L1646.5,998.4 L1649.2,997.5 L1652.0,994.3 L1654.8,992.7 L1657.5,991.6 L1660.2,989.8 L1663.0,988.1 L1665.8,987.9 L1668.5,987.9 L1671.2,987.8 L1674.0,988.2 L1676.8,989.2 L1679.5,991.0 L1682.2,993.8 L1685.0,997.0 L1687.8,998.5 L1690.5,999.9 L1693.2,1002.8 L1696.0,1004.9 L1698.8,1004.6 L1701.5,1004.0 L1704.2,1004.3 L1707.0,1004.3 L1709.8,1004.0 L1712.5,1003.0 L1715.2,1002.9 L1718.0,1002.9 L1720.8,1001.6 L1723.5,1001.3 L1726.2,1003.7 L1729.0,1006.3 L1731.8,1007.6 L1734.5,1008.4 L1737.2,1008.2 L1740.0,1007.8 L1742.8,1007.6 L1745.5,1007.3 L1748.2,1008.4 L1751.0,1009.6 L1753.8,1008.5 L1756.5,1007.2 L1759.2,1007.3 L1762.0,1007.1 L1764.8,1006.1 L1767.5,1004.2 L1770.2,999.6 L1773.0,995.6 L1775.8,995.9 L1778.5,997.6 L1781.2,998.6 L1784.0,999.7 L1786.8,1001.2 L1789.5,1001.7 L1792.2,1001.2 L1795.0,1000.1 L1797.8,999.2 L1800.5,997.2 L1803.2,995.3 L1806.0,993.7 L1808.8,992.4 L1811.5,992.8 L1814.2,996.4 L1817.0,1000.2 L1819.8,1001.8 L1822.5,1002.4 L1825.2,1002.0 L1828.0,1001.3 L1830.8,1001.3 L1833.5,1001.6 L1836.2,1004.0 L1839.0,1006.8 L1841.8,1006.7 L1844.5,1005.2 L1847.2,1004.2 L1850.0,1002.9 L1852.8,1000.2 L1855.5,997.7 L1858.2,997.0 L1861.0,996.7 L1863.8,995.2 L1866.5,994.1 L1869.2,994.4 L1872.0,994.8 L1874.8,995.2 L1877.5,995.8 L1880.2,996.1 L1883.0,996.6 L1885.8,997.0 L1888.5,997.4 L1891.2,998.8 L1894.0,1000.4 L1896.8,1001.2 L1899.5,1001.6 L1902.2,1001.6 L1905.0,1000.7 L1907.8,998.8 L1910.5,996.6 L1913.2,994.8 L1916.0,994.1 L1918.8,995.2 L1921.5,997.3 L1924.2,998.7 L1927.0,999.8 L1929.8,1001.0 L1932.5,1001.6 L1935.2,1001.6 L1938.0,1001.6 L1939.8,1001.6"/>
<path class="c" stroke="#2DB455" d="M112.0,901.2 L114.8,900.5 L117.5,899.2 L120.2,898.1 L123.0,897.0 L125.8,897.5 L128.5,897.7 L131.2,896.5 L134.0,895.6 L136.8,895.4 L139.5,896.3 L142.2,899.1 L145.0,902.2 L147.8,903.8 L150.5,904.4 L153.2,903.3 L156.0,901.4 L158.8,901.1 L161.5,901.0 L164.2,900.1 L167.0,899.2 L169.8,899.0 L172.5,899.3 L175.2,899.3 L178.0,900.1 L180.8,904.0 L183.5,908.5 L186.2,911.1 L189.0,913.4 L191.8,915.8 L194.5,918.0 L197.2,920.6 L200.0,921.2 L202.8,919.5 L205.5,918.9 L208.2,921.4 L211.0,924.9 L213.8,927.5 L216.5,927.5 L219.2,923.3 L222.0,917.9 L224.8,914.6 L227.5,914.4 L230.2,915.8 L233.0,914.6 L235.8,910.8 L238.5,906.3 L241.2,902.2 L244.0,900.5 L246.8,902.4 L249.5,906.0 L252.2,910.9 L255.0,913.4 L257.8,912.9 L260.5,911.2 L263.2,906.9 L266.0,903.1 L268.8,901.9 L271.5,901.3 L274.2,900.8 L277.0,900.4 L279.8,900.1 L282.5,899.2 L285.2,898.3 L288.0,897.6 L290.8,897.3 L293.5,898.1 L296.2,899.3 L299.0,900.1 L301.8,900.9 L304.5,901.1 L307.2,899.2 L310.0,897.2 L312.8,897.1 L315.5,897.2 L318.2,897.6 L321.0,895.7 L323.8,893.3 L326.5,890.8 L329.2,887.2 L332.0,885.9 L334.8,887.8 L337.5,890.8 L340.2,893.2 L343.0,893.9 L345.8,892.6 L348.5,890.4 L351.2,888.9 L354.0,887.4 L356.8,885.3 L359.5,883.7 L362.2,883.7 L365.0,883.8 L367.8,882.2 L370.5,880.9 L373.2,881.7 L376.0,882.7 L378.8,882.0 L381.5,881.5 L384.2,882.8 L387.0,884.6 L389.8,885.4 L392.5,887.0 L395.2,890.8 L398.0,894.6 L400.8,898.9 L403.5,903.1 L406.2,905.3 L409.0,904.5 L411.8,900.6 L414.5,896.2 L417.2,893.1 L420.0,892.8 L422.8,894.8 L425.5,897.4 L428.2,899.1 L431.0,899.8 L433.8,898.2 L436.5,894.4 L439.2,890.6 L442.0,886.7 L444.8,883.1 L447.5,880.3 L450.2,878.8 L453.0,877.7 L455.8,876.1 L458.5,875.9 L461.2,879.1 L464.0,883.2 L466.8,885.3 L469.5,888.1 L472.2,890.4 L475.0,889.6 L477.8,888.7 L480.5,887.5 L483.2,885.9 L486.0,886.8 L488.8,885.8 L491.5,882.9 L494.2,880.0 L497.0,878.0 L499.8,877.3 L502.5,877.7 L505.2,879.7 L508.0,881.7 L510.8,882.1 L513.5,881.8 L516.2,882.1 L519.0,882.3 L521.8,881.5 L524.5,881.2 L527.2,882.8 L530.0,884.9 L532.8,886.3 L535.5,887.7 L538.2,889.7 L541.0,891.4 L543.8,893.5 L546.5,895.1 L549.2,894.5 L552.0,893.3 L554.8,892.9 L557.5,892.2 L560.2,889.6 L563.0,886.8 L565.8,885.9 L568.5,885.4 L571.2,884.7 L574.0,884.3 L576.8,883.7 L579.5,883.4 L582.2,884.4 L585.0,885.7 L587.8,886.0 L590.5,886.8 L593.2,888.6 L596.0,890.5 L598.8,891.4 L601.5,891.9 L604.2,891.6 L607.0,889.9 L609.8,889.2 L612.5,889.6 L615.2,890.0 L618.0,890.6 L620.8,891.3 L623.5,891.8 L626.2,893.9 L629.0,896.2 L631.8,897.1 L634.5,897.6 L637.2,896.0 L640.0,892.2 L642.8,889.3 L645.5,886.3 L648.2,883.1 L651.0,881.9 L653.8,881.6 L656.5,882.1 L659.2,884.5 L662.0,886.6 L664.8,887.2 L667.5,886.8 L670.2,887.0 L673.0,886.9 L675.8,886.1 L678.5,885.4 L681.2,884.9 L684.0,885.3 L686.8,887.3 L689.5,888.8 L692.2,888.3 L695.0,886.6 L697.8,885.5 L700.5,886.9 L703.2,889.8 L706.0,890.0 L708.8,889.2 L711.5,887.9 L714.2,885.2 L717.0,882.4 L719.8,880.3 L722.5,878.8 L725.2,879.7 L728.0,881.9 L730.8,883.0 L733.5,883.4 L736.2,882.4 L739.0,881.4 L741.8,881.1 L744.5,880.6 L747.2,881.3 L750.0,881.9 L752.8,880.0 L755.5,877.8 L758.2,877.3 L761.0,876.5 L763.8,874.2 L766.5,871.9 L769.2,869.3 L772.0,867.1 L774.8,865.2 L777.5,863.6 L780.2,862.6 L783.0,862.1 L785.8,862.3 L788.5,862.5 L791.2,860.8 L794.0,857.9 L796.8,855.4 L799.5,852.6 L802.2,850.5 L805.0,848.8 L807.8,846.7 L810.5,845.1 L813.2,844.6 L816.0,844.1 L818.8,843.0 L821.5,841.2 L824.2,838.2 L827.0,834.9 L829.8,831.7 L832.5,829.2 L835.2,828.3 L838.0,827.5 L840.8,825.8 L843.5,824.2 L846.2,823.0 L849.0,821.6 L851.8,819.7 L854.5,817.7 L857.2,814.8 L860.0,811.1 L862.8,807.1 L865.5,802.7 L868.2,799.6 L871.0,796.4 L873.8,791.9 L876.5,786.9 L879.2,781.1 L882.0,776.2 L884.8,772.7 L887.5,769.7 L890.2,766.7 L893.0,761.9 L895.8,756.0 L898.5,749.3 L901.2,741.9 L904.0,735.0 L906.8,726.7 L909.5,722.8 L912.2,722.5 L915.0,721.3 L917.8,718.5 L920.5,714.0 L923.2,704.4 L926.0,695.9 L928.8,691.3 L931.5,688.3 L934.2,685.9 L937.0,682.5 L939.8,676.7 L942.5,670.0 L945.2,662.2 L948.0,653.4 L950.8,646.7 L953.5,639.8 L956.2,628.1 L959.0,619.2 L961.8,616.0 L964.5,613.2 L967.2,608.9 L970.0,607.1 L972.8,607.4 L975.5,606.3 L978.2,602.6 L981.0,598.1 L983.8,593.1 L986.5,588.0 L989.2,583.8 L992.0,579.4 L994.8,574.4 L997.5,568.9 L1000.2,561.2 L1003.0,553.0 L1005.8,546.8 L1008.5,540.7 L1011.2,532.9 L1014.0,524.9 L1016.8,520.3 L1019.5,516.2 L1022.2,509.4 L1025.0,503.3 L1027.8,498.7 L1030.5,494.2 L1033.2,489.8 L1036.0,485.5 L1038.8,480.7 L1041.5,475.7 L1044.2,470.5 L1047.0,464.9 L1049.8,460.0 L1052.5,455.1 L1055.2,449.6 L1058.0,444.7 L1060.8,439.9 L1063.5,435.4 L1066.2,432.5 L1069.0,429.7 L1071.8,423.2 L1074.5,416.6 L1077.2,412.5 L1080.0,408.2 L1082.8,404.8 L1085.5,401.3 L1088.2,395.1 L1091.0,389.0 L1093.8,384.6 L1096.5,380.2 L1099.2,374.7 L1102.0,369.7 L1104.8,366.1 L1107.5,363.8 L1110.2,363.4 L1113.0,363.4 L1115.8,362.6 L1118.5,362.0 L1121.2,361.5 L1124.0,361.2 L1126.8,359.9 L1129.5,358.8 L1132.2,359.9 L1135.0,361.4 L1137.8,362.0 L1140.5,362.5 L1143.2,363.4 L1146.0,363.0 L1148.8,361.0 L1151.5,359.6 L1154.2,358.8 L1157.0,359.5 L1159.8,365.2 L1162.5,374.1 L1165.2,381.8 L1168.0,388.5 L1170.8,392.3 L1173.5,396.2 L1176.2,401.8 L1179.0,407.6 L1181.8,414.9 L1184.5,422.2 L1187.2,431.6 L1190.0,439.5 L1192.8,442.9 L1195.5,446.0 L1198.2,448.6 L1201.0,451.4 L1203.8,458.6 L1206.5,468.6 L1209.2,477.5 L1212.0,487.1 L1214.8,497.4 L1217.5,508.0 L1220.2,517.3 L1223.0,524.8 L1225.8,533.5 L1228.5,540.7 L1231.2,544.5 L1234.0,547.6 L1236.8,555.2 L1239.5,566.6 L1242.2,576.8 L1245.0,586.1 L1247.8,596.7 L1250.5,607.0 L1253.2,615.4 L1256.0,622.4 L1258.8,630.3 L1261.5,638.4 L1264.2,646.4 L1267.0,654.8 L1269.8,660.9 L1272.5,666.3 L1275.2,674.6 L1278.0,682.8 L1280.8,687.3 L1283.5,691.9 L1286.2,700.6 L1289.0,709.6 L1291.8,718.1 L1294.5,726.5 L1297.2,731.5 L1300.0,736.5 L1302.8,743.9 L1305.5,751.1 L1308.2,758.0 L1311.0,764.0 L1313.8,769.2 L1316.5,774.3 L1319.2,777.6 L1322.0,781.0 L1324.8,787.6 L1327.5,794.2 L1330.2,800.0 L1333.0,805.3 L1335.8,809.8 L1338.5,814.1 L1341.2,816.2 L1344.0,818.1 L1346.8,822.7 L1349.5,826.5 L1352.2,827.5 L1355.0,827.8 L1357.8,828.7 L1360.5,829.9 L1363.2,832.0 L1366.0,834.3 L1368.8,835.2 L1371.5,836.5 L1374.2,840.5 L1377.0,845.9 L1379.8,852.1 L1382.5,857.2 L1385.2,860.0 L1388.0,862.6 L1390.8,865.7 L1393.5,868.0 L1396.2,870.1 L1399.0,871.7 L1401.8,872.2 L1404.5,872.7 L1407.2,872.7 L1410.0,872.7 L1412.8,872.7 L1415.5,872.7 L1418.2,872.5 L1421.0,872.5 L1423.8,874.2 L1426.5,875.1 L1429.2,873.2 L1432.0,869.9 L1434.8,868.5 L1437.5,870.0 L1440.2,872.1 L1443.0,873.8 L1445.8,874.4 L1448.5,873.8 L1451.2,872.7 L1454.0,873.1 L1456.8,875.9 L1459.5,879.9 L1462.2,883.8 L1465.0,886.6 L1467.8,887.9 L1470.5,889.0 L1473.2,891.3 L1476.0,893.1 L1478.8,893.6 L1481.5,893.2 L1484.2,892.1 L1487.0,891.0 L1489.8,890.2 L1492.5,889.2 L1495.2,888.8 L1498.0,888.8 L1500.8,888.4 L1503.5,888.3 L1506.2,888.2 L1509.0,888.6 L1511.8,891.6 L1514.5,895.8 L1517.2,898.0 L1520.0,898.8 L1522.8,898.8 L1525.5,898.3 L1528.2,897.3 L1531.0,896.0 L1533.8,893.6 L1536.5,890.1 L1539.2,889.5 L1542.0,891.6 L1544.8,893.8 L1547.5,896.2 L1550.2,898.5 L1553.0,899.5 L1555.8,899.2 L1558.5,898.2 L1561.2,897.4 L1564.0,896.3 L1566.8,895.0 L1569.5,893.6 L1572.2,892.2 L1575.0,891.3 L1577.8,891.0 L1580.5,891.0 L1583.2,892.2 L1586.0,893.4 L1588.8,893.3 L1591.5,893.1 L1594.2,892.8 L1597.0,892.5 L1599.8,894.1 L1602.5,895.7 L1605.2,895.8 L1608.0,896.0 L1610.8,896.7 L1613.5,897.5 L1616.2,897.7 L1619.0,897.7 L1621.8,899.3 L1624.5,900.1 L1627.2,897.9 L1630.0,894.2 L1632.8,890.6 L1635.5,887.5 L1638.2,886.0 L1641.0,886.2 L1643.8,888.3 L1646.5,891.4 L1649.2,894.0 L1652.0,895.6 L1654.8,896.8 L1657.5,897.8 L1660.2,899.3 L1663.0,900.6 L1665.8,901.5 L1668.5,902.3 L1671.2,901.5 L1674.0,900.6 L1676.8,900.6 L1679.5,900.2 L1682.2,900.0 L1685.0,900.0 L1687.8,900.2 L1690.5,900.9 L1693.2,902.0 L1696.0,902.6 L1698.8,901.4 L1701.5,899.8 L1704.2,899.0 L1707.0,898.4 L1709.8,898.7 L1712.5,899.3 L1715.2,899.4 L1718.0,899.6 L1720.8,899.9 L1723.5,900.0 L1726.2,899.4 L1729.0,898.8 L1731.8,900.1 L1734.5,904.0 L1737.2,906.7 L1740.0,906.0 L1742.8,902.9 L1745.5,899.0 L1748.2,897.5 L1751.0,897.0 L1753.8,897.3 L1756.5,898.5 L1759.2,899.7 L1762.0,899.3 L1764.8,899.0 L1767.5,899.9 L1770.2,900.3 L1773.0,900.8 L1775.8,902.7 L1778.5,904.6 L1781.2,907.9 L1784.0,911.3 L1786.8,911.7 L1789.5,910.6 L1792.2,908.1 L1795.0,904.6 L1797.8,901.1 L1800.5,896.7 L1803.2,891.5 L1806.0,888.9 L1808.8,890.0 L1811.5,892.4 L1814.2,893.5 L1817.0,893.9 L1819.8,893.2 L1822.5,891.0 L1825.2,887.5 L1828.0,884.7 L1830.8,882.7 L1833.5,881.2 L1836.2,880.1 L1839.0,880.1 L1841.8,883.8 L1844.5,888.6 L1847.2,889.8 L1850.0,889.4 L1852.8,889.6 L1855.5,889.4 L1858.2,887.7 L1861.0,887.0 L1863.8,887.5 L1866.5,888.5 L1869.2,890.5 L1872.0,892.6 L1874.8,894.9 L1877.5,896.9 L1880.2,897.2 L1883.0,897.0 L1885.8,897.1 L1888.5,896.8 L1891.2,896.6 L1894.0,897.3 L1896.8,898.8 L1899.5,900.8 L1902.2,902.9 L1905.0,905.1 L1907.8,907.4 L1910.5,909.2 L1913.2,909.8 L1916.0,909.3 L1918.8,908.6 L1921.5,907.4 L1924.2,904.9 L1927.0,902.0 L1929.8,899.1 L1932.5,894.2 L1935.2,890.1 L1938.0,891.1 L1939.8,893.5"/>
<path class="c" stroke="#F2C091" d="M112.0,758.2 L114.8,758.6 L117.5,758.6 L120.2,757.4 L123.0,756.6 L125.8,757.8 L128.5,759.7 L131.2,760.7 L134.0,761.9 L136.8,762.6 L139.5,763.3 L142.2,766.0 L145.0,769.1 L147.8,770.6 L150.5,771.9 L153.2,772.7 L156.0,772.8 L158.8,772.2 L161.5,771.1 L164.2,768.9 L167.0,768.6 L169.8,770.1 L172.5,772.0 L175.2,773.2 L178.0,773.4 L180.8,773.3 L183.5,772.7 L186.2,770.8 L189.0,769.0 L191.8,767.8 L194.5,767.1 L197.2,767.9 L200.0,769.0 L202.8,769.1 L205.5,769.4 L208.2,771.0 L211.0,773.1 L213.8,775.0 L216.5,776.3 L219.2,775.8 L222.0,773.6 L224.8,771.8 L227.5,769.6 L230.2,765.5 L233.0,762.1 L235.8,761.1 L238.5,761.8 L241.2,763.8 L244.0,765.9 L246.8,766.3 L249.5,765.5 L252.2,764.6 L255.0,763.3 L257.8,762.6 L260.5,762.6 L263.2,763.9 L266.0,765.6 L268.8,765.9 L271.5,764.4 L274.2,760.9 L277.0,756.6 L279.8,753.7 L282.5,751.6 L285.2,751.1 L288.0,752.3 L290.8,754.3 L293.5,756.9 L296.2,758.5 L299.0,759.5 L301.8,760.4 L304.5,760.3 L307.2,759.0 L310.0,757.5 L312.8,757.6 L315.5,758.2 L318.2,758.9 L321.0,759.9 L323.8,761.0 L326.5,760.8 L329.2,758.4 L332.0,755.5 L334.8,753.8 L337.5,752.4 L340.2,750.7 L343.0,750.2 L345.8,752.1 L348.5,755.4 L351.2,758.4 L354.0,761.8 L356.8,765.9 L359.5,767.1 L362.2,765.7 L365.0,763.7 L367.8,762.7 L370.5,764.4 L373.2,766.8 L376.0,767.1 L378.8,765.7 L381.5,763.8 L384.2,762.0 L387.0,760.4 L389.8,759.9 L392.5,760.3 L395.2,760.7 L398.0,761.4 L400.8,762.7 L403.5,763.1 L406.2,760.6 L409.0,757.4 L411.8,755.3 L414.5,754.0 L417.2,754.6 L420.0,755.6 L422.8,756.0 L425.5,756.6 L428.2,757.8 L431.0,759.0 L433.8,759.7 L436.5,760.8 L439.2,762.2 L442.0,763.3 L444.8,764.9 L447.5,765.5 L450.2,763.1 L453.0,758.1 L455.8,750.5 L458.5,747.8 L461.2,748.9 L464.0,751.5 L466.8,756.1 L469.5,758.7 L472.2,757.9 L475.0,755.8 L477.8,751.5 L480.5,747.2 L483.2,745.8 L486.0,745.7 L488.8,746.5 L491.5,748.3 L494.2,749.3 L497.0,750.1 L499.8,751.1 L502.5,750.9 L505.2,749.1 L508.0,746.9 L510.8,745.2 L513.5,743.9 L516.2,744.0 L519.0,745.2 L521.8,747.0 L524.5,749.5 L527.2,751.6 L530.0,752.7 L532.8,751.9 L535.5,749.0 L538.2,746.8 L541.0,744.6 L543.8,742.1 L546.5,740.1 L549.2,739.6 L552.0,739.9 L554.8,740.0 L557.5,741.3 L560.2,745.4 L563.0,747.0 L565.8,744.8 L568.5,740.8 L571.2,737.3 L574.0,734.8 L576.8,732.3 L579.5,729.8 L582.2,727.1 L585.0,724.5 L587.8,720.7 L590.5,717.3 L593.2,717.1 L596.0,718.0 L598.8,717.9 L601.5,717.9 L604.2,718.4 L607.0,717.6 L609.8,714.7 L612.5,710.7 L615.2,707.4 L618.0,704.1 L620.8,699.5 L623.5,696.4 L626.2,696.0 L629.0,695.3 L631.8,691.8 L634.5,686.0 L637.2,678.1 L640.0,673.8 L642.8,673.7 L645.5,674.3 L648.2,674.0 L651.0,671.7 L653.8,668.7 L656.5,665.3 L659.2,662.2 L662.0,659.3 L664.8,655.7 L667.5,654.0 L670.2,654.7 L673.0,655.7 L675.8,654.4 L678.5,650.8 L681.2,647.8 L684.0,644.3 L686.8,637.5 L689.5,630.5 L692.2,625.0 L695.0,619.9 L697.8,614.9 L700.5,609.8 L703.2,605.9 L706.0,602.2 L708.8,597.6 L711.5,593.6 L714.2,590.0 L717.0,587.0 L719.8,585.9 L722.5,584.6 L725.2,581.3 L728.0,576.9 L730.8,571.3 L733.5,565.0 L736.2,559.0 L739.0,553.1 L741.8,546.9 L744.5,541.6 L747.2,538.0 L750.0,535.7 L752.8,534.0 L755.5,532.6 L758.2,531.1 L761.0,529.1 L763.8,526.8 L766.5,524.4 L769.2,522.1 L772.0,519.7 L774.8,517.7 L777.5,515.5 L780.2,511.2 L783.0,506.6 L785.8,503.7 L788.5,501.1 L791.2,498.5 L794.0,497.1 L796.8,496.4 L799.5,494.6 L802.2,489.7 L805.0,483.2 L807.8,474.7 L810.5,465.8 L813.2,456.6 L816.0,447.4 L818.8,440.6 L821.5,433.9 L824.2,427.0 L827.0,420.4 L829.8,411.0 L832.5,401.6 L835.2,394.4 L838.0,387.4 L840.8,383.7 L843.5,380.1 L846.2,373.0 L849.0,366.9 L851.8,361.5 L854.5,353.8 L857.2,346.9 L860.0,340.3 L862.8,330.9 L865.5,321.7 L868.2,313.9 L871.0,307.6 L873.8,301.3 L876.5,295.7 L879.2,291.9 L882.0,288.1 L884.8,284.1 L887.5,280.4 L890.2,277.5 L893.0,275.5 L895.8,274.8 L898.5,274.6 L901.2,273.2 L904.0,271.1 L906.8,269.9 L909.5,268.8 L912.2,267.3 L915.0,266.6 L917.8,265.7 L920.5,264.0 L923.2,259.6 L926.0,252.7 L928.8,251.2 L931.5,253.6 L934.2,256.4 L937.0,259.6 L939.8,262.5 L942.5,265.0 L945.2,267.6 L948.0,270.0 L950.8,273.2 L953.5,275.7 L956.2,277.2 L959.0,279.1 L961.8,280.9 L964.5,283.4 L967.2,287.3 L970.0,291.8 L972.8,298.4 L975.5,305.7 L978.2,309.6 L981.0,313.6 L983.8,320.5 L986.5,327.9 L989.2,335.4 L992.0,342.6 L994.8,349.1 L997.5,352.2 L1000.2,353.3 L1003.0,356.1 L1005.8,362.0 L1008.5,368.5 L1011.2,376.6 L1014.0,383.1 L1016.8,384.6 L1019.5,384.3 L1022.2,382.6 L1025.0,380.2 L1027.8,379.8 L1030.5,380.9 L1033.2,382.0 L1036.0,383.5 L1038.8,385.6 L1041.5,387.6 L1044.2,389.2 L1047.0,389.6 L1049.8,391.2 L1052.5,395.4 L1055.2,400.2 L1058.0,404.5 L1060.8,406.7 L1063.5,407.5 L1066.2,408.4 L1069.0,410.4 L1071.8,413.0 L1074.5,416.0 L1077.2,421.0 L1080.0,426.7 L1082.8,430.6 L1085.5,435.0 L1088.2,440.1 L1091.0,445.5 L1093.8,453.3 L1096.5,461.3 L1099.2,468.6 L1102.0,475.9 L1104.8,482.9 L1107.5,489.5 L1110.2,493.8 L1113.0,498.1 L1115.8,505.9 L1118.5,514.7 L1121.2,525.2 L1124.0,535.9 L1126.8,543.4 L1129.5,549.9 L1132.2,553.6 L1135.0,557.3 L1137.8,563.8 L1140.5,569.9 L1143.2,576.3 L1146.0,583.2 L1148.8,590.1 L1151.5,597.5 L1154.2,602.3 L1157.0,606.9 L1159.8,612.3 L1162.5,617.4 L1165.2,623.5 L1168.0,629.4 L1170.8,635.4 L1173.5,641.6 L1176.2,646.8 L1179.0,651.9 L1181.8,658.5 L1184.5,664.1 L1187.2,665.7 L1190.0,665.8 L1192.8,664.8 L1195.5,664.1 L1198.2,666.0 L1201.0,670.3 L1203.8,673.5 L1206.5,674.1 L1209.2,673.3 L1212.0,672.2 L1214.8,671.5 L1217.5,671.3 L1220.2,672.4 L1223.0,673.9 L1225.8,675.1 L1228.5,677.1 L1231.2,679.2 L1234.0,681.5 L1236.8,684.9 L1239.5,688.1 L1242.2,690.5 L1245.0,692.9 L1247.8,695.7 L1250.5,698.4 L1253.2,700.9 L1256.0,702.7 L1258.8,703.5 L1261.5,704.6 L1264.2,705.9 L1267.0,707.4 L1269.8,711.2 L1272.5,715.2 L1275.2,717.8 L1278.0,720.6 L1280.8,722.0 L1283.5,723.4 L1286.2,726.0 L1289.0,728.8 L1291.8,733.1 L1294.5,736.6 L1297.2,738.5 L1300.0,738.8 L1302.8,736.5 L1305.5,734.1 L1308.2,733.9 L1311.0,734.1 L1313.8,734.5 L1316.5,734.3 L1319.2,731.8 L1322.0,728.4 L1324.8,725.9 L1327.5,725.3 L1330.2,727.0 L1333.0,729.8 L1335.8,730.7 L1338.5,730.9 L1341.2,732.9 L1344.0,734.9 L1346.8,736.3 L1349.5,738.3 L1352.2,739.7 L1355.0,741.1 L1357.8,743.8 L1360.5,746.0 L1363.2,746.8 L1366.0,747.2 L1368.8,748.0 L1371.5,747.3 L1374.2,744.0 L1377.0,741.3 L1379.8,741.5 L1382.5,743.1 L1385.2,744.5 L1388.0,746.3 L1390.8,747.9 L1393.5,749.3 L1396.2,750.4 L1399.0,750.4 L1401.8,749.3 L1404.5,747.8 L1407.2,746.7 L1410.0,746.4 L1412.8,747.4 L1415.5,748.8 L1418.2,749.6 L1421.0,750.1 L1423.8,750.0 L1426.5,748.9 L1429.2,747.9 L1432.0,746.8 L1434.8,744.7 L1437.5,744.3 L1440.2,746.6 L1443.0,750.0 L1445.8,753.1 L1448.5,755.7 L1451.2,756.8 L1454.0,757.7 L1456.8,759.1 L1459.5,759.9 L1462.2,760.2 L1465.0,759.9 L1467.8,758.0 L1470.5,756.6 L1473.2,758.2 L1476.0,760.5 L1478.8,762.0 L1481.5,763.7 L1484.2,765.1 L1487.0,766.4 L1489.8,767.5 L1492.5,768.8 L1495.2,770.6 L1498.0,772.0 L1500.8,772.2 L1503.5,770.8 L1506.2,767.4 L1509.0,764.6 L1511.8,763.7 L1514.5,763.1 L1517.2,762.2 L1520.0,761.6 L1522.8,761.5 L1525.5,761.7 L1528.2,762.6 L1531.0,764.0 L1533.8,765.2 L1536.5,765.3 L1539.2,765.1 L1542.0,764.3 L1544.8,762.5 L1547.5,760.5 L1550.2,758.7 L1553.0,757.1 L1555.8,755.1 L1558.5,753.1 L1561.2,750.7 L1564.0,749.0 L1566.8,748.6 L1569.5,749.1 L1572.2,751.2 L1575.0,755.5 L1577.8,759.3 L1580.5,760.5 L1583.2,760.8 L1586.0,760.4 L1588.8,759.2 L1591.5,758.1 L1594.2,757.4 L1597.0,756.6 L1599.8,756.3 L1602.5,756.4 L1605.2,756.1 L1608.0,756.5 L1610.8,758.3 L1613.5,760.2 L1616.2,762.1 L1619.0,762.9 L1621.8,761.4 L1624.5,759.9 L1627.2,759.7 L1630.0,760.5 L1632.8,763.3 L1635.5,765.7 L1638.2,766.0 L1641.0,765.4 L1643.8,764.3 L1646.5,763.0 L1649.2,761.0 L1652.0,759.5 L1654.8,760.2 L1657.5,761.9 L1660.2,763.8 L1663.0,765.7 L1665.8,766.3 L1668.5,766.0 L1671.2,765.3 L1674.0,763.9 L1676.8,761.2 L1679.5,758.6 L1682.2,757.3 L1685.0,756.9 L1687.8,756.6 L1690.5,756.8 L1693.2,757.0 L1696.0,757.5 L1698.8,759.2 L1701.5,761.8 L1704.2,763.0 L1707.0,764.2 L1709.8,766.8 L1712.5,768.3 L1715.2,768.1 L1718.0,766.7 L1720.8,763.8 L1723.5,760.7 L1726.2,757.9 L1729.0,756.7 L1731.8,758.3 L1734.5,761.0 L1737.2,762.8 L1740.0,763.6 L1742.8,763.6 L1745.5,762.4 L1748.2,760.0 L1751.0,757.8 L1753.8,756.8 L1756.5,757.2 L1759.2,757.7 L1762.0,758.6 L1764.8,760.5 L1767.5,763.0 L1770.2,767.0 L1773.0,770.8 L1775.8,773.7 L1778.5,775.3 L1781.2,774.5 L1784.0,773.0 L1786.8,772.4 L1789.5,771.7 L1792.2,770.8 L1795.0,770.0 L1797.8,767.5 L1800.5,764.9 L1803.2,763.7 L1806.0,762.9 L1808.8,762.0 L1811.5,762.0 L1814.2,763.8 L1817.0,766.0 L1819.8,766.5 L1822.5,766.9 L1825.2,767.4 L1828.0,768.0 L1830.8,770.0 L1833.5,772.0 L1836.2,773.2 L1839.0,774.5 L1841.8,774.9 L1844.5,775.3 L1847.2,776.0 L1850.0,776.4 L1852.8,777.1 L1855.5,776.9 L1858.2,775.8 L1861.0,774.8 L1863.8,774.2 L1866.5,774.2 L1869.2,775.1 L1872.0,776.1 L1874.8,776.6 L1877.5,776.7 L1880.2,775.8 L1883.0,774.4 L1885.8,773.4 L1888.5,772.5 L1891.2,772.3 L1894.0,772.5 L1896.8,772.4 L1899.5,772.9 L1902.2,775.3 L1905.0,777.9 L1907.8,779.2 L1910.5,780.1 L1913.2,780.6 L1916.0,780.3 L1918.8,779.4 L1921.5,778.1 L1924.2,777.0 L1927.0,776.1 L1929.8,776.1 L1932.5,776.2 L1935.2,775.8 L1938.0,775.3 L1939.8,774.9"/>
<path class="c" stroke="#F28E2F" d="M112.0,644.0 L114.8,644.1 L117.5,646.8 L120.2,649.3 L123.0,652.1 L125.8,656.0 L128.5,659.8 L131.2,662.6 L134.0,664.9 L136.8,664.8 L139.5,661.3 L142.2,662.1 L145.0,665.7 L147.8,670.7 L150.5,675.3 L153.2,677.7 L156.0,678.0 L158.8,676.2 L161.5,672.7 L164.2,668.6 L167.0,664.7 L169.8,661.6 L172.5,659.3 L175.2,657.1 L178.0,655.0 L180.8,653.2 L183.5,651.7 L186.2,651.1 L189.0,650.9 L191.8,651.1 L194.5,652.5 L197.2,654.5 L200.0,656.7 L202.8,659.3 L205.5,661.0 L208.2,661.0 L211.0,660.3 L213.8,660.0 L216.5,660.5 L219.2,661.5 L222.0,662.6 L224.8,663.1 L227.5,663.0 L230.2,661.6 L233.0,659.9 L235.8,659.6 L238.5,659.3 L241.2,658.6 L244.0,658.2 L246.8,656.7 L249.5,655.9 L252.2,658.0 L255.0,660.4 L257.8,661.6 L260.5,661.9 L263.2,660.9 L266.0,659.4 L268.8,658.7 L271.5,657.8 L274.2,657.3 L277.0,656.8 L279.8,656.0 L282.5,655.5 L285.2,656.2 L288.0,657.4 L290.8,657.5 L293.5,657.4 L296.2,658.5 L299.0,658.8 L301.8,657.0 L304.5,654.7 L307.2,653.8 L310.0,653.7 L312.8,653.3 L315.5,653.3 L318.2,654.4 L321.0,655.6 L323.8,656.6 L326.5,657.5 L329.2,657.8 L332.0,657.7 L334.8,656.7 L337.5,654.7 L340.2,652.6 L343.0,650.7 L345.8,650.6 L348.5,651.6 L351.2,653.1 L354.0,655.3 L356.8,657.3 L359.5,659.2 L362.2,661.6 L365.0,662.4 L367.8,659.9 L370.5,656.3 L373.2,653.1 L376.0,651.1 L378.8,650.8 L381.5,650.6 L384.2,649.2 L387.0,648.1 L389.8,647.8 L392.5,647.9 L395.2,649.6 L398.0,651.3 L400.8,650.5 L403.5,649.2 L406.2,647.4 L409.0,645.3 L411.8,644.5 L414.5,644.3 L417.2,643.2 L420.0,642.5 L422.8,643.2 L425.5,644.1 L428.2,644.8 L431.0,645.5 L433.8,646.6 L436.5,647.4 L439.2,647.1 L442.0,646.1 L444.8,643.5 L447.5,640.2 L450.2,637.4 L453.0,634.8 L455.8,634.0 L458.5,633.7 L461.2,632.3 L464.0,631.8 L466.8,633.3 L469.5,635.2 L472.2,636.1 L475.0,637.1 L477.8,639.4 L480.5,641.2 L483.2,641.2 L486.0,640.8 L488.8,640.3 L491.5,639.5 L494.2,639.8 L497.0,640.1 L499.8,638.2 L502.5,634.9 L505.2,630.7 L508.0,629.0 L510.8,630.2 L513.5,632.7 L516.2,635.5 L519.0,636.2 L521.8,633.8 L524.5,631.4 L527.2,631.2 L530.0,631.3 L532.8,630.0 L535.5,628.8 L538.2,629.7 L541.0,630.6 L543.8,629.8 L546.5,628.9 L549.2,628.2 L552.0,627.4 L554.8,626.2 L557.5,624.4 L560.2,622.9 L563.0,621.4 L565.8,618.4 L568.5,616.3 L571.2,617.4 L574.0,619.0 L576.8,618.7 L579.5,617.2 L582.2,615.4 L585.0,613.3 L587.8,611.0 L590.5,609.0 L593.2,607.4 L596.0,606.6 L598.8,606.2 L601.5,605.9 L604.2,605.3 L607.0,604.2 L609.8,603.0 L612.5,601.6 L615.2,598.4 L618.0,594.8 L620.8,592.7 L623.5,590.3 L626.2,585.8 L629.0,580.7 L631.8,576.0 L634.5,571.4 L637.2,566.9 L640.0,563.1 L642.8,559.8 L645.5,556.7 L648.2,553.5 L651.0,550.2 L653.8,546.2 L656.5,541.6 L659.2,537.9 L662.0,533.9 L664.8,529.7 L667.5,525.7 L670.2,522.3 L673.0,519.2 L675.8,516.5 L678.5,517.4 L681.2,519.5 L684.0,517.1 L686.8,511.3 L689.5,504.1 L692.2,499.2 L695.0,494.0 L697.8,487.2 L700.5,480.1 L703.2,469.6 L706.0,460.8 L708.8,456.1 L711.5,452.7 L714.2,450.9 L717.0,449.5 L719.8,448.2 L722.5,446.7 L725.2,443.4 L728.0,440.5 L730.8,438.5 L733.5,436.2 L736.2,434.2 L739.0,431.6 L741.8,428.0 L744.5,424.0 L747.2,417.5 L750.0,410.6 L752.8,406.7 L755.5,402.9 L758.2,396.3 L761.0,389.9 L763.8,383.8 L766.5,378.2 L769.2,374.5 L772.0,371.1 L774.8,368.0 L777.5,365.6 L780.2,364.0 L783.0,362.1 L785.8,358.8 L788.5,354.4 L791.2,347.3 L794.0,339.7 L796.8,335.4 L799.5,331.3 L802.2,324.3 L805.0,318.0 L807.8,314.0 L810.5,311.2 L813.2,309.9 L816.0,308.9 L818.8,307.2 L821.5,304.5 L824.2,301.5 L827.0,298.3 L829.8,293.8 L832.5,288.2 L835.2,281.5 L838.0,272.2 L840.8,264.1 L843.5,256.1 L846.2,246.0 L849.0,237.1 L851.8,230.2 L854.5,223.5 L857.2,217.6 L860.0,211.4 L862.8,204.4 L865.5,197.5 L868.2,190.6 L871.0,184.7 L873.8,179.5 L876.5,174.6 L879.2,170.5 L882.0,166.4 L884.8,160.7 L887.5,155.4 L890.2,152.7 L893.0,150.6 L895.8,148.8 L898.5,147.6 L901.2,146.9 L904.0,148.4 L906.8,151.9 L909.5,153.5 L912.2,152.2 L915.0,149.8 L917.8,147.3 L920.5,144.0 L923.2,142.7 L926.0,142.3 L928.8,143.6 L931.5,146.8 L934.2,149.1 L937.0,150.3 L939.8,149.0 L942.5,147.5 L945.2,148.5 L948.0,151.3 L950.8,158.5 L953.5,167.8 L956.2,173.1 L959.0,178.5 L961.8,185.3 L964.5,191.7 L967.2,200.7 L970.0,209.5 L972.8,216.2 L975.5,222.8 L978.2,227.7 L981.0,232.5 L983.8,237.8 L986.5,243.0 L989.2,249.9 L992.0,256.0 L994.8,260.2 L997.5,263.3 L1000.2,264.1 L1003.0,264.6 L1005.8,267.3 L1008.5,270.1 L1011.2,271.6 L1014.0,273.0 L1016.8,274.6 L1019.5,276.4 L1022.2,279.8 L1025.0,283.4 L1027.8,285.1 L1030.5,286.0 L1033.2,287.7 L1036.0,289.0 L1038.8,288.8 L1041.5,289.3 L1044.2,290.7 L1047.0,292.4 L1049.8,295.6 L1052.5,299.0 L1055.2,301.2 L1058.0,303.6 L1060.8,307.5 L1063.5,311.6 L1066.2,313.9 L1069.0,316.4 L1071.8,320.7 L1074.5,325.1 L1077.2,329.4 L1080.0,333.1 L1082.8,336.0 L1085.5,338.6 L1088.2,341.9 L1091.0,346.2 L1093.8,350.5 L1096.5,355.3 L1099.2,361.3 L1102.0,367.6 L1104.8,374.9 L1107.5,382.6 L1110.2,388.6 L1113.0,394.7 L1115.8,402.5 L1118.5,410.5 L1121.2,419.4 L1124.0,428.6 L1126.8,438.2 L1129.5,448.3 L1132.2,459.9 L1135.0,470.6 L1137.8,475.6 L1140.5,479.8 L1143.2,486.1 L1146.0,491.9 L1148.8,496.0 L1151.5,500.3 L1154.2,507.2 L1157.0,514.0 L1159.8,517.3 L1162.5,520.6 L1165.2,527.0 L1168.0,533.1 L1170.8,535.3 L1173.5,537.4 L1176.2,542.5 L1179.0,547.0 L1181.8,548.3 L1184.5,549.0 L1187.2,550.7 L1190.0,551.7 L1192.8,551.8 L1195.5,552.2 L1198.2,553.2 L1201.0,555.6 L1203.8,557.6 L1206.5,559.7 L1209.2,562.2 L1212.0,564.1 L1214.8,566.8 L1217.5,569.2 L1220.2,569.5 L1223.0,569.7 L1225.8,571.4 L1228.5,573.0 L1231.2,573.5 L1234.0,574.7 L1236.8,579.0 L1239.5,584.6 L1242.2,588.1 L1245.0,591.3 L1247.8,595.6 L1250.5,597.1 L1253.2,596.4 L1256.0,596.5 L1258.8,598.6 L1261.5,601.6 L1264.2,605.9 L1267.0,610.4 L1269.8,613.7 L1272.5,616.3 L1275.2,617.7 L1278.0,616.2 L1280.8,614.1 L1283.5,613.3 L1286.2,615.6 L1289.0,617.4 L1291.8,617.2 L1294.5,616.5 L1297.2,615.2 L1300.0,614.1 L1302.8,614.4 L1305.5,614.7 L1308.2,613.7 L1311.0,612.8 L1313.8,613.0 L1316.5,613.6 L1319.2,615.5 L1322.0,617.7 L1324.8,619.0 L1327.5,619.9 L1330.2,620.9 L1333.0,621.8 L1335.8,621.2 L1338.5,621.1 L1341.2,623.1 L1344.0,626.1 L1346.8,629.8 L1349.5,633.0 L1352.2,635.1 L1355.0,635.8 L1357.8,635.5 L1360.5,635.0 L1363.2,634.5 L1366.0,634.5 L1368.8,635.3 L1371.5,636.2 L1374.2,637.1 L1377.0,638.0 L1379.8,639.0 L1382.5,639.6 L1385.2,637.2 L1388.0,637.3 L1390.8,640.6 L1393.5,644.5 L1396.2,647.7 L1399.0,649.9 L1401.8,650.9 L1404.5,651.3 L1407.2,649.9 L1410.0,647.0 L1412.8,643.7 L1415.5,640.5 L1418.2,639.0 L1421.0,638.6 L1423.8,638.7 L1426.5,639.4 L1429.2,640.3 L1432.0,641.2 L1434.8,642.3 L1437.5,643.5 L1440.2,644.5 L1443.0,644.2 L1445.8,641.6 L1448.5,638.8 L1451.2,637.7 L1454.0,637.1 L1456.8,637.2 L1459.5,637.5 L1462.2,637.2 L1465.0,637.2 L1467.8,638.0 L1470.5,638.9 L1473.2,640.3 L1476.0,641.5 L1478.8,642.9 L1481.5,644.3 L1484.2,644.3 L1487.0,643.6 L1489.8,642.5 L1492.5,641.0 L1495.2,639.4 L1498.0,637.8 L1500.8,635.4 L1503.5,634.0 L1506.2,635.9 L1509.0,640.3 L1511.8,642.5 L1514.5,644.2 L1517.2,646.9 L1520.0,649.2 L1522.8,650.6 L1525.5,650.3 L1528.2,646.5 L1531.0,643.8 L1533.8,644.6 L1536.5,646.6 L1539.2,647.8 L1542.0,648.3 L1544.8,648.2 L1547.5,647.7 L1550.2,648.3 L1553.0,649.8 L1555.8,650.9 L1558.5,652.2 L1561.2,653.3 L1564.0,654.0 L1566.8,655.1 L1569.5,655.6 L1572.2,654.2 L1575.0,653.5 L1577.8,655.1 L1580.5,656.7 L1583.2,657.8 L1586.0,658.7 L1588.8,658.4 L1591.5,657.9 L1594.2,657.0 L1597.0,656.0 L1599.8,655.0 L1602.5,652.7 L1605.2,651.8 L1608.0,652.3 L1610.8,651.6 L1613.5,651.3 L1616.2,653.2 L1619.0,655.7 L1621.8,658.6 L1624.5,661.9 L1627.2,664.1 L1630.0,664.8 L1632.8,663.9 L1635.5,661.1 L1638.2,657.3 L1641.0,653.5 L1643.8,649.6 L1646.5,647.8 L1649.2,648.7 L1652.0,649.8 L1654.8,649.4 L1657.5,648.2 L1660.2,647.0 L1663.0,645.7 L1665.8,644.9 L1668.5,644.4 L1671.2,643.1 L1674.0,642.3 L1676.8,643.0 L1679.5,643.8 L1682.2,643.5 L1685.0,642.7 L1687.8,643.3 L1690.5,643.7 L1693.2,642.6 L1696.0,641.7 L1698.8,641.8 L1701.5,642.5 L1704.2,644.1 L1707.0,646.4 L1709.8,648.1 L1712.5,649.5 L1715.2,651.4 L1718.0,653.2 L1720.8,655.1 L1723.5,656.9 L1726.2,657.8 L1729.0,658.4 L1731.8,659.5 L1734.5,660.3 L1737.2,660.2 L1740.0,659.7 L1742.8,658.3 L1745.5,655.9 L1748.2,654.0 L1751.0,653.4 L1753.8,654.3 L1756.5,656.2 L1759.2,658.5 L1762.0,660.2 L1764.8,662.2 L1767.5,663.9 L1770.2,664.5 L1773.0,664.0 L1775.8,661.6 L1778.5,658.9 L1781.2,657.7 L1784.0,656.9 L1786.8,655.8 L1789.5,656.0 L1792.2,656.9 L1795.0,657.3 L1797.8,656.6 L1800.5,655.4 L1803.2,654.0 L1806.0,653.0 L1808.8,652.3 L1811.5,652.7 L1814.2,654.7 L1817.0,656.8 L1819.8,658.6 L1822.5,658.9 L1825.2,656.4 L1828.0,653.1 L1830.8,651.0 L1833.5,650.3 L1836.2,651.1 L1839.0,652.6 L1841.8,653.0 L1844.5,653.6 L1847.2,656.0 L1850.0,658.0 L1852.8,658.1 L1855.5,657.0 L1858.2,655.4 L1861.0,653.4 L1863.8,652.3 L1866.5,652.2 L1869.2,652.8 L1872.0,653.4 L1874.8,653.2 L1877.5,651.8 L1880.2,649.8 L1883.0,648.4 L1885.8,649.0 L1888.5,650.5 L1891.2,650.3 L1894.0,648.2 L1896.8,646.3 L1899.5,645.2 L1902.2,645.8 L1905.0,648.1 L1907.8,652.1 L1910.5,655.4 L1913.2,657.1 L1916.0,658.6 L1918.8,659.5 L1921.5,660.0 L1924.2,660.5 L1927.0,660.7 L1929.8,660.8 L1932.5,660.9 L1935.2,661.4 L1938.0,662.0 L1939.8,662.0"/>
<path class="lg" stroke="#F28E2F" d="M1930.8,660.5H2010.3"/>
<path class="lg" stroke="#F2C091" d="M1930.8,777.6H2014.8"/>
<path class="lg" stroke="#2DB455" d="M1930.8,894.3H2017.0"/>
<path class="lg" stroke="#ACD797" d="M1930.8,1001.5H2003.0"/>
<path class="lg" stroke="#DC4558" d="M1930.8,1105.0H2008.3"/>
<path class="lg" stroke="#EDA3C4" d="M1930.8,1204.2H2014.5"/>
<path class="lg" stroke="#12ABE2" d="M1930.8,1325.3H2011.0"/>
<path class="lg" stroke="#A3CCE3" d="M1930.8,1418.8H2004.0"/>
<rect class="fr" x="112.00" y="33.00" width="1827.80" height="1472.30"/>
<path class="fr" d="M112.0,1505.3v29.0M294.8,1505.3v15.0M477.6,1505.3v29.0M660.3,1505.3v15.0M843.1,1505.3v29.0M1025.9,1505.3v15.0M1208.7,1505.3v29.0M1391.5,1505.3v15.0M1574.2,1505.3v29.0M1757.0,1505.3v15.0M1939.8,1505.3v29.0"/>
<text class="tk" transform="translate(112.0,1603.6) scale(1,1.030)">−140</text>
<text class="tk" transform="translate(477.6,1603.6) scale(1,1.030)">−120</text>
<text class="tk" transform="translate(843.1,1603.6) scale(1,1.030)">−100</text>
<text class="tk" transform="translate(1208.7,1603.6) scale(1,1.030)">−80</text>
<text class="tk" transform="translate(1574.2,1603.6) scale(1,1.030)">−60</text>
<text class="tk" transform="translate(1939.8,1603.6) scale(1,1.030)">−40</text>
<text class="sl" transform="translate(2014.0,673.6) scale(1,1.010)">3S_10PM</text>
<text class="sl" transform="translate(2017.0,798.6) scale(1,1.010)">0S_10PM</text>
<text class="sl" transform="translate(2014.7,909.6) scale(1,1.010)">3S_6PMC</text>
<text class="sl" transform="translate(2002.7,1011.1) scale(1,1.010)">0S_6PMC</text>
<text class="sl" transform="translate(2016.8,1121.6) scale(1,1.010)">3S_6PC</text>
<text class="sl" transform="translate(2017.2,1210.9) scale(1,1.010)">0S_6PC</text>
<text class="sl" transform="translate(2012.7,1340.4) scale(1,1.010)">3S_6PM</text>
<text class="sl" transform="translate(2008.7,1425.9) scale(1,1.010)">0S_6PM</text>
<text class="ax" transform="translate(769.0,1710.5) scale(1,1.000)">ppm from TMS</text>
<text class="pl" transform="translate(118.3,103.0) scale(1,1.000)">(a)</text>
</g>
<g id="panel-b">
<path class="cb" stroke="#94D6F4" d="M80.8,3343.8 L84.3,3342.6 L87.8,3342.1 L91.3,3342.5 L94.8,3342.9 L98.3,3343.7 L101.8,3343.5 L105.3,3343.2 L108.8,3342.4 L112.3,3342.0 L115.8,3341.7 L119.3,3341.5 L122.8,3341.3 L126.3,3341.0 L129.8,3340.5 L133.3,3339.7 L136.8,3338.8 L140.3,3338.0 L143.8,3336.9 L147.3,3335.9 L150.8,3334.9 L154.3,3334.1 L157.8,3333.8 L161.3,3333.3 L164.8,3333.0 L168.3,3332.3 L171.8,3331.9 L175.3,3331.6 L178.8,3331.4 L182.3,3331.1 L185.8,3330.5 L189.3,3329.9 L192.8,3330.1 L196.3,3330.2 L199.8,3330.1 L203.3,3330.3 L206.8,3330.6 L210.3,3330.3 L213.8,3330.1 L217.3,3330.0 L220.8,3329.9 L224.3,3329.8 L227.8,3330.0 L231.3,3330.2 L234.8,3329.3 L238.3,3328.9 L241.8,3329.0 L245.3,3329.7 L248.8,3330.7 L252.3,3330.2 L255.8,3330.0 L259.3,3330.2 L262.8,3329.7 L266.3,3328.8 L269.8,3327.5 L273.3,3326.1 L276.8,3325.7 L280.3,3325.2 L283.8,3324.8 L287.3,3324.4 L290.8,3324.0 L294.3,3323.4 L297.8,3323.0 L301.3,3323.1 L304.8,3322.8 L308.3,3322.2 L311.8,3323.2 L315.3,3324.2 L318.8,3323.7 L322.3,3324.0 L325.8,3325.0 L329.3,3325.5 L332.8,3325.8 L336.3,3325.6 L339.8,3325.5 L343.3,3326.0 L346.8,3325.6 L350.3,3324.4 L353.8,3325.1 L357.3,3326.0 L360.8,3326.2 L364.3,3326.6 L367.8,3327.2 L371.3,3327.9 L374.8,3328.6 L378.3,3329.7 L381.8,3330.4 L385.3,3330.0 L388.8,3330.6 L392.3,3331.8 L395.8,3332.5 L399.3,3333.1 L402.8,3333.3 L406.3,3333.8 L409.8,3335.1 L413.3,3335.3 L416.8,3335.4 L420.3,3335.1 L423.8,3335.0 L427.3,3335.6 L430.8,3336.1 L434.3,3336.7 L437.8,3336.5 L441.3,3336.3 L444.8,3336.9 L448.3,3337.5 L451.8,3338.3 L455.3,3338.8 L458.8,3339.3 L462.3,3338.8 L465.8,3338.6 L469.3,3338.9 L472.8,3339.4 L476.3,3340.2 L479.8,3340.8 L483.3,3341.5 L486.8,3342.5 L490.3,3343.2 L493.8,3343.1 L497.3,3343.3 L500.8,3343.4 L504.3,3342.2 L507.8,3341.2 L511.3,3340.7 L514.8,3340.1 L518.3,3339.4 L521.8,3339.6 L525.3,3339.9 L528.8,3340.0 L532.3,3339.9 L535.8,3339.5 L539.3,3339.8 L542.8,3340.1 L546.3,3340.3 L549.8,3340.4 L553.3,3339.6 L556.8,3339.9 L560.3,3340.8 L563.8,3340.4 L567.3,3340.1 L570.8,3341.3 L574.3,3341.7 L577.8,3341.3 L581.3,3341.8 L584.8,3342.5 L588.3,3343.6 L591.8,3344.6 L595.3,3345.6 L598.8,3345.0 L602.3,3343.2 L605.8,3342.2 L609.3,3342.0 L612.8,3341.8 L616.3,3342.0 L619.8,3342.3 L623.3,3342.4 L626.8,3342.1 L630.3,3343.1 L633.8,3343.7 L637.3,3343.1 L640.8,3343.5 L644.3,3344.6 L647.8,3344.1 L651.3,3343.5 L654.8,3343.6 L658.3,3343.5 L661.8,3343.7 L665.3,3343.3 L668.8,3342.6 L672.3,3342.4 L675.8,3342.3 L679.3,3342.3 L682.8,3342.6 L686.3,3343.2 L689.8,3343.8 L693.3,3344.3 L696.8,3343.6 L700.3,3343.6 L703.8,3344.4 L707.3,3344.2 L710.8,3343.9 L714.3,3343.1 L717.8,3342.5 L721.3,3342.0 L724.8,3342.0 L728.3,3342.8 L731.8,3342.4 L735.3,3342.1 L738.8,3342.7 L742.3,3342.6 L745.8,3341.3 L749.3,3341.5 L752.8,3341.9 L756.3,3342.3 L759.8,3342.6 L763.3,3343.0 L766.8,3343.4 L770.3,3343.6 L773.8,3344.0 L777.3,3344.1 L780.8,3343.7 L784.3,3343.2 L787.8,3342.7 L791.3,3342.0 L794.8,3341.3 L798.3,3340.2 L801.8,3339.4 L805.3,3339.2 L808.8,3338.5 L812.3,3337.4 L815.8,3337.0 L819.3,3336.5 L822.8,3335.0 L826.3,3333.7 L829.8,3332.3 L833.3,3331.6 L836.8,3331.3 L840.3,3330.1 L843.8,3329.1 L847.3,3328.2 L850.8,3327.1 L854.3,3325.7 L857.8,3324.8 L861.3,3323.7 L864.8,3322.4 L868.3,3320.7 L871.8,3318.6 L875.3,3316.7 L878.8,3314.7 L882.3,3312.7 L885.8,3310.3 L889.3,3307.5 L892.8,3304.9 L896.3,3302.1 L899.8,3299.0 L903.3,3295.6 L906.8,3291.8 L910.3,3287.9 L913.8,3283.7 L917.3,3279.4 L920.8,3274.9 L924.3,3270.3 L927.8,3265.3 L931.3,3259.8 L934.8,3253.8 L938.3,3247.2 L941.8,3240.2 L943.3,3237.1 L944.8,3233.8 L946.3,3230.5 L947.8,3227.0 L949.3,3223.2 L950.8,3219.3 L952.3,3215.1 L953.8,3210.9 L955.3,3206.6 L956.8,3202.2 L958.3,3197.9 L959.8,3193.6 L961.3,3189.2 L962.8,3184.8 L964.3,3180.3 L965.8,3175.8 L967.3,3171.2 L968.8,3166.6 L970.3,3161.7 L971.8,3156.8 L973.3,3151.8 L974.8,3146.8 L976.3,3141.6 L977.8,3136.3 L979.3,3131.0 L980.8,3125.7 L982.3,3120.4 L983.8,3114.9 L985.3,3109.3 L986.8,3103.7 L988.3,3098.0 L989.8,3092.2 L991.3,3086.3 L992.8,3080.3 L994.3,3074.2 L995.8,3068.0 L997.3,3061.8 L998.8,3055.4 L1000.3,3048.8 L1001.8,3042.2 L1003.3,3035.5 L1004.8,3028.6 L1006.3,3021.7 L1007.8,3014.6 L1009.3,3007.4 L1010.8,3000.2 L1012.3,2992.9 L1013.8,2985.5 L1015.3,2978.0 L1016.8,2970.5 L1018.3,2963.0 L1019.8,2955.5 L1021.3,2947.9 L1022.8,2940.3 L1024.3,2932.5 L1025.8,2924.6 L1027.3,2916.7 L1028.8,2908.6 L1030.3,2900.4 L1031.8,2892.0 L1033.3,2883.7 L1034.8,2875.6 L1036.3,2867.6 L1037.8,2859.6 L1039.3,2851.9 L1040.8,2847.7 L1042.3,2843.7 L1043.8,2839.6 L1045.3,2835.5 L1046.8,2831.5 L1048.3,2827.5 L1049.8,2823.4 L1051.3,2819.4 L1052.8,2815.3 L1054.3,2811.3 L1055.8,2807.3 L1057.3,2803.5 L1058.8,2799.8 L1060.3,2796.2 L1061.8,2792.9 L1063.3,2789.9 L1064.8,2787.1 L1066.3,2784.6 L1067.8,2782.3 L1069.3,2780.3 L1070.8,2778.7 L1072.3,2777.3 L1073.8,2776.2 L1075.3,2775.4 L1076.8,2775.0 L1078.3,2775.0 L1079.8,2775.3 L1081.3,2776.0 L1082.8,2777.1 L1084.3,2778.5 L1085.8,2780.0 L1087.3,2781.8 L1088.8,2783.8 L1090.3,2786.2 L1091.8,2788.8 L1093.3,2791.4 L1094.8,2794.0 L1096.3,2796.5 L1097.8,2799.1 L1099.3,2801.5 L1100.8,2803.7 L1102.3,2805.6 L1103.8,2807.5 L1105.3,2809.5 L1106.8,2812.0 L1108.3,2814.8 L1109.8,2817.9 L1111.3,2821.3 L1112.8,2825.0 L1114.3,2829.0 L1115.8,2833.1 L1117.3,2837.2 L1118.8,2841.5 L1120.3,2846.1 L1121.8,2850.6 L1123.3,2859.7 L1124.8,2868.9 L1126.3,2877.2 L1127.8,2885.3 L1129.3,2893.5 L1130.8,2901.9 L1132.3,2910.3 L1133.8,2919.0 L1135.3,2928.0 L1136.8,2937.3 L1138.3,2947.0 L1139.8,2956.9 L1141.3,2967.0 L1142.8,2977.2 L1144.3,2987.5 L1145.8,2997.7 L1147.3,3007.8 L1148.8,3017.8 L1150.3,3027.6 L1151.8,3037.1 L1153.3,3046.4 L1154.8,3055.5 L1156.3,3064.2 L1157.8,3072.8 L1159.3,3081.3 L1160.8,3089.6 L1162.3,3097.7 L1163.8,3105.8 L1165.3,3113.7 L1166.8,3121.6 L1168.3,3129.3 L1169.8,3136.7 L1171.3,3144.0 L1172.8,3151.0 L1174.3,3157.6 L1175.8,3164.0 L1177.3,3170.0 L1178.8,3176.0 L1180.3,3181.9 L1181.8,3187.6 L1183.3,3193.2 L1184.8,3198.7 L1186.3,3204.1 L1187.8,3209.4 L1189.3,3214.7 L1190.8,3219.8 L1192.3,3224.8 L1193.8,3229.6 L1195.3,3234.4 L1196.8,3239.0 L1198.3,3243.6 L1199.8,3248.2 L1201.3,3252.7 L1202.8,3257.2 L1204.3,3261.6 L1205.8,3265.9 L1207.3,3270.1 L1208.8,3274.0 L1210.3,3277.7 L1211.8,3281.3 L1213.3,3284.8 L1214.8,3288.1 L1216.3,3291.2 L1217.8,3294.0 L1219.3,3296.7 L1220.8,3299.2 L1222.3,3301.5 L1223.8,3303.7 L1225.3,3305.7 L1226.8,3307.7 L1228.3,3309.6 L1229.8,3311.3 L1231.3,3313.0 L1232.8,3314.7 L1234.3,3316.3 L1235.8,3317.7 L1237.3,3319.1 L1238.8,3320.4 L1240.3,3321.8 L1241.8,3323.1 L1243.3,3324.4 L1244.8,3325.6 L1246.3,3326.6 L1247.8,3327.6 L1249.3,3328.5 L1250.8,3329.3 L1252.3,3330.0 L1253.8,3330.6 L1255.3,3331.1 L1256.8,3331.6 L1258.3,3332.3 L1259.8,3332.9 L1261.3,3333.5 L1264.8,3335.0 L1268.3,3336.6 L1271.8,3337.6 L1275.3,3338.3 L1278.8,3339.1 L1282.3,3339.4 L1285.8,3338.9 L1289.3,3339.3 L1292.8,3340.1 L1296.3,3339.9 L1299.8,3340.0 L1303.3,3340.2 L1306.8,3340.8 L1310.3,3341.7 L1313.8,3341.5 L1317.3,3341.1 L1320.8,3341.2 L1324.3,3340.8 L1327.8,3339.7 L1331.3,3339.5 L1334.8,3339.4 L1338.3,3339.6 L1341.8,3339.7 L1345.3,3340.3 L1348.8,3340.6 L1352.3,3341.1 L1355.8,3341.2 L1359.3,3341.2 L1362.8,3341.0 L1366.3,3341.2 L1369.8,3342.0 L1373.3,3342.2 L1376.8,3342.2 L1380.3,3342.0 L1383.8,3341.9 L1387.3,3341.8 L1390.8,3341.7 L1394.3,3342.1 L1397.8,3341.1 L1401.3,3340.1 L1404.8,3340.0 L1408.3,3339.9 L1411.8,3340.0 L1415.3,3339.9 L1418.8,3339.9 L1422.3,3340.8 L1425.8,3341.5 L1429.3,3342.0 L1432.8,3342.1 L1436.3,3341.6 L1439.8,3342.2 L1443.3,3342.9 L1446.8,3343.4 L1450.3,3343.8 L1453.8,3343.8 L1457.3,3344.1 L1460.8,3344.2 L1464.3,3343.8 L1467.8,3343.2 L1471.3,3343.2 L1474.8,3342.6 L1478.3,3341.6 L1481.8,3341.0 L1485.3,3340.7 L1488.8,3341.6 L1492.3,3342.6 L1495.8,3343.4 L1499.3,3344.3 L1502.8,3345.0 L1506.3,3345.2 L1509.8,3344.7 L1513.3,3343.9 L1516.8,3343.3 L1520.3,3343.0 L1523.8,3343.3 L1527.3,3343.6 L1530.8,3343.1 L1534.3,3343.1 L1537.8,3343.8 L1541.3,3343.4 L1544.8,3342.7 L1548.3,3343.1 L1551.8,3343.2 L1555.3,3342.3 L1558.8,3342.0 L1562.3,3342.0 L1565.8,3342.4 L1569.3,3342.7 L1572.8,3341.5 L1576.3,3341.0 L1579.8,3341.6 L1583.3,3341.2 L1586.8,3340.7 L1590.3,3341.8 L1593.8,3342.5 L1597.3,3342.7 L1600.8,3342.5 L1604.3,3341.8 L1607.8,3341.9 L1611.3,3342.0 L1614.8,3341.2 L1618.3,3341.0 L1621.8,3341.9 L1625.3,3341.6 L1628.8,3341.0 L1632.3,3341.1 L1635.8,3340.9 L1639.3,3339.9 L1642.8,3339.0 L1646.3,3338.1 L1649.8,3336.6 L1653.3,3335.3 L1656.8,3334.9 L1660.3,3334.5 L1663.8,3334.6 L1667.3,3334.0 L1670.8,3333.0 L1674.3,3333.5 L1677.8,3333.6 L1681.3,3332.5 L1684.8,3332.2 L1688.3,3332.4 L1691.8,3331.8 L1695.3,3331.2 L1698.8,3331.5 L1702.3,3331.2 L1705.8,3330.3 L1709.3,3329.7 L1712.8,3329.1 L1716.3,3329.5 L1719.8,3329.7 L1723.3,3328.9 L1726.8,3328.8 L1730.3,3329.1 L1733.8,3328.9 L1737.3,3328.7 L1740.8,3329.1 L1744.3,3328.9 L1747.8,3327.7 L1751.3,3327.3 L1754.8,3326.9 L1758.3,3326.6 L1761.8,3326.3 L1765.3,3325.9 L1768.8,3325.7 L1772.3,3325.9 L1775.8,3325.3 L1779.3,3324.8 L1782.8,3324.6 L1786.3,3324.2 L1789.8,3323.3 L1793.3,3322.8 L1796.8,3322.3 L1800.3,3323.2 L1803.8,3323.7 L1807.3,3323.5 L1810.8,3323.1 L1814.3,3322.3 L1817.8,3321.7 L1821.3,3321.0 L1824.8,3320.2 L1828.3,3319.5 L1831.8,3318.8 L1835.3,3319.2 L1838.8,3319.9 L1842.3,3321.7 L1845.8,3322.9 L1849.3,3323.2 L1852.8,3322.4 L1856.3,3320.8 L1859.8,3320.8 L1863.3,3321.3 L1866.8,3321.4 L1870.3,3321.9 L1873.8,3322.9 L1877.3,3323.2 L1880.8,3323.5 L1884.3,3324.1 L1887.8,3324.9 L1891.3,3325.7 L1894.8,3326.9 L1898.3,3328.5 L1901.8,3329.2 L1905.3,3329.9 L1908.8,3330.3 L1912.3,3331.4 L1915.8,3333.4 L1919.3,3334.4 L1922.8,3335.2 L1926.3,3336.3 L1929.8,3337.2 L1933.3,3336.8 L1936.8,3337.7 L1940.3,3339.3 L1943.8,3339.5 L1947.3,3339.6 L1950.8,3340.9 L1954.3,3341.7 L1957.8,3342.2 L1961.3,3342.5 L1964.8,3342.8 L1968.3,3342.5 L1969.6,3342.2"/>
<path class="cb" stroke="#12ABE2" d="M80.8,3240.8 L84.3,3241.5 L87.8,3241.4 L91.3,3240.1 L94.8,3239.7 L98.3,3239.9 L101.8,3239.2 L105.3,3238.6 L108.8,3237.8 L112.3,3237.6 L115.8,3238.2 L119.3,3238.3 L122.8,3238.5 L126.3,3237.8 L129.8,3237.1 L133.3,3236.9 L136.8,3236.3 L140.3,3235.6 L143.8,3234.4 L147.3,3233.3 L150.8,3233.7 L154.3,3233.4 L157.8,3232.5 L161.3,3232.1 L164.8,3232.0 L168.3,3230.6 L171.8,3229.5 L175.3,3229.2 L178.8,3228.5 L182.3,3227.9 L185.8,3227.6 L189.3,3227.7 L192.8,3227.4 L196.3,3227.6 L199.8,3227.9 L203.3,3227.9 L206.8,3227.7 L210.3,3228.0 L213.8,3228.3 L217.3,3229.0 L220.8,3228.8 L224.3,3227.9 L227.8,3227.7 L231.3,3227.4 L234.8,3226.0 L238.3,3225.1 L241.8,3225.0 L245.3,3224.1 L248.8,3223.1 L252.3,3221.7 L255.8,3220.8 L259.3,3221.4 L262.8,3222.4 L266.3,3223.7 L269.8,3224.5 L273.3,3224.7 L276.8,3223.4 L280.3,3222.8 L283.8,3222.8 L287.3,3222.5 L290.8,3222.2 L294.3,3221.4 L297.8,3220.7 L301.3,3220.1 L304.8,3220.2 L308.3,3220.7 L311.8,3221.5 L315.3,3222.3 L318.8,3223.3 L322.3,3223.7 L325.8,3223.4 L329.3,3223.5 L332.8,3223.6 L336.3,3223.5 L339.8,3223.3 L343.3,3222.9 L346.8,3222.1 L350.3,3221.0 L353.8,3221.3 L357.3,3222.1 L360.8,3222.1 L364.3,3223.1 L367.8,3224.1 L371.3,3225.2 L374.8,3226.6 L378.3,3227.0 L381.8,3227.4 L385.3,3228.8 L388.8,3229.3 L392.3,3229.4 L395.8,3230.2 L399.3,3231.0 L402.8,3231.3 L406.3,3231.7 L409.8,3232.3 L413.3,3232.8 L416.8,3233.4 L420.3,3233.1 L423.8,3233.4 L427.3,3234.8 L430.8,3235.7 L434.3,3236.6 L437.8,3236.5 L441.3,3236.0 L444.8,3235.2 L448.3,3235.0 L451.8,3236.0 L455.3,3235.8 L458.8,3235.6 L462.3,3235.8 L465.8,3236.3 L469.3,3236.7 L472.8,3237.7 L476.3,3239.4 L479.8,3239.2 L483.3,3238.6 L486.8,3239.5 L490.3,3239.4 L493.8,3238.4 L497.3,3238.0 L500.8,3237.7 L504.3,3238.4 L507.8,3238.7 L511.3,3237.7 L514.8,3238.0 L518.3,3239.0 L521.8,3238.8 L525.3,3238.4 L528.8,3237.8 L532.3,3237.4 L535.8,3236.9 L539.3,3237.1 L542.8,3237.7 L546.3,3237.4 L549.8,3237.5 L553.3,3238.5 L556.8,3239.0 L560.3,3239.1 L563.8,3239.3 L567.3,3239.5 L570.8,3239.8 L574.3,3239.7 L577.8,3238.9 L581.3,3238.9 L584.8,3238.9 L588.3,3239.6 L591.8,3239.8 L595.3,3238.4 L598.8,3238.0 L602.3,3237.9 L605.8,3238.1 L609.3,3238.4 L612.8,3237.5 L616.3,3237.4 L619.8,3238.2 L623.3,3239.1 L626.8,3240.3 L630.3,3240.7 L633.8,3241.1 L637.3,3241.1 L640.8,3241.1 L644.3,3240.8 L647.8,3240.6 L651.3,3240.3 L654.8,3239.6 L658.3,3239.2 L661.8,3239.3 L665.3,3239.1 L668.8,3239.2 L672.3,3238.4 L675.8,3238.2 L679.3,3238.9 L682.8,3239.0 L686.3,3238.7 L689.8,3239.5 L693.3,3240.3 L696.8,3239.6 L700.3,3239.3 L703.8,3239.3 L707.3,3239.2 L710.8,3238.8 L714.3,3239.5 L717.8,3239.7 L721.3,3238.7 L724.8,3238.3 L728.3,3237.9 L731.8,3238.6 L735.3,3239.3 L738.8,3239.6 L742.3,3239.5 L745.8,3238.1 L749.3,3238.4 L752.8,3239.2 L756.3,3238.8 L759.8,3238.3 L763.3,3237.6 L766.8,3237.3 L770.3,3237.4 L773.8,3236.7 L777.3,3236.1 L780.8,3236.4 L784.3,3236.6 L787.8,3237.1 L791.3,3236.3 L794.8,3235.0 L798.3,3235.1 L801.8,3235.0 L805.3,3234.6 L808.8,3233.6 L812.3,3232.0 L815.8,3230.8 L819.3,3229.5 L822.8,3229.0 L826.3,3227.6 L829.8,3225.8 L833.3,3224.0 L836.8,3222.1 L840.3,3220.4 L843.8,3218.8 L847.3,3217.3 L850.8,3215.6 L854.3,3213.4 L857.8,3211.4 L861.3,3209.2 L864.8,3207.0 L868.3,3204.5 L871.8,3201.9 L875.3,3199.3 L878.8,3196.7 L882.3,3194.5 L885.8,3192.3 L889.3,3190.1 L892.8,3187.5 L896.3,3184.5 L899.8,3181.6 L903.3,3178.5 L906.8,3175.1 L910.3,3171.4 L913.8,3167.5 L917.3,3163.1 L920.8,3158.3 L924.3,3153.1 L927.8,3147.2 L931.3,3141.0 L934.8,3134.8 L938.3,3128.8 L941.8,3122.8 L943.3,3120.2 L944.8,3117.4 L946.3,3114.6 L947.8,3111.6 L949.3,3108.4 L950.8,3105.0 L952.3,3101.0 L953.8,3096.5 L955.3,3091.8 L956.8,3087.0 L958.3,3082.2 L959.8,3077.6 L961.3,3073.1 L962.8,3068.4 L964.3,3063.8 L965.8,3059.1 L967.3,3054.3 L968.8,3049.5 L970.3,3044.6 L971.8,3039.6 L973.3,3034.5 L974.8,3029.3 L976.3,3023.9 L977.8,3018.4 L979.3,3012.9 L980.8,3007.2 L982.3,3001.4 L983.8,2995.4 L985.3,2989.2 L986.8,2982.9 L988.3,2976.5 L989.8,2969.8 L991.3,2963.0 L992.8,2956.0 L994.3,2948.8 L995.8,2941.5 L997.3,2934.0 L998.8,2926.3 L1000.3,2918.4 L1001.8,2910.4 L1003.3,2902.1 L1004.8,2893.7 L1006.3,2885.1 L1007.8,2876.5 L1009.3,2867.7 L1010.8,2858.7 L1012.3,2849.9 L1013.8,2841.0 L1015.3,2832.1 L1016.8,2823.5 L1018.3,2814.9 L1019.8,2806.4 L1021.3,2798.2 L1022.8,2790.1 L1024.3,2782.2 L1025.8,2774.6 L1027.3,2767.2 L1028.8,2760.0 L1030.3,2753.1 L1031.8,2746.4 L1033.3,2740.0 L1034.8,2733.9 L1036.3,2728.0 L1037.8,2722.5 L1039.3,2717.1 L1040.8,2712.0 L1042.3,2707.2 L1043.8,2702.6 L1045.3,2698.3 L1046.8,2694.0 L1048.3,2689.8 L1049.8,2685.7 L1051.3,2681.8 L1052.8,2678.4 L1054.3,2675.4 L1055.8,2672.7 L1057.3,2670.4 L1058.8,2668.3 L1060.3,2666.7 L1061.8,2665.4 L1063.3,2664.5 L1064.8,2663.7 L1066.3,2663.0 L1067.8,2662.7 L1069.3,2662.7 L1070.8,2662.9 L1072.3,2663.1 L1073.8,2663.5 L1075.3,2664.2 L1076.8,2665.3 L1078.3,2666.5 L1079.8,2668.1 L1081.3,2669.9 L1082.8,2672.0 L1084.3,2674.4 L1085.8,2677.2 L1087.3,2680.3 L1088.8,2684.1 L1090.3,2688.3 L1091.8,2692.8 L1093.3,2697.3 L1094.8,2701.8 L1096.3,2706.4 L1097.8,2711.1 L1099.3,2716.1 L1100.8,2721.2 L1102.3,2726.5 L1103.8,2731.9 L1105.3,2737.5 L1106.8,2743.3 L1108.3,2749.2 L1109.8,2755.2 L1111.3,2761.3 L1112.8,2767.5 L1114.3,2773.9 L1115.8,2780.3 L1117.3,2786.8 L1118.8,2793.4 L1120.3,2800.0 L1121.8,2806.8 L1123.3,2813.6 L1124.8,2820.6 L1126.3,2827.7 L1127.8,2834.9 L1129.3,2842.2 L1130.8,2849.8 L1132.3,2857.4 L1133.8,2865.1 L1135.3,2872.9 L1136.8,2880.7 L1138.3,2888.6 L1139.8,2896.7 L1141.3,2904.8 L1142.8,2913.0 L1144.3,2921.2 L1145.8,2929.5 L1147.3,2937.9 L1148.8,2946.3 L1150.3,2954.7 L1151.8,2963.0 L1153.3,2971.4 L1154.8,2979.6 L1156.3,2987.8 L1157.8,2995.9 L1159.3,3003.8 L1160.8,3011.6 L1162.3,3019.2 L1163.8,3026.7 L1165.3,3034.0 L1166.8,3041.2 L1168.3,3048.1 L1169.8,3054.9 L1171.3,3061.5 L1172.8,3067.9 L1174.3,3074.2 L1175.8,3080.3 L1177.3,3086.2 L1178.8,3091.9 L1180.3,3097.5 L1181.8,3102.9 L1183.3,3108.1 L1184.8,3113.2 L1186.3,3118.1 L1187.8,3122.9 L1189.3,3127.6 L1190.8,3132.2 L1192.3,3136.8 L1193.8,3141.1 L1195.3,3145.1 L1196.8,3148.3 L1198.3,3151.1 L1199.8,3154.0 L1201.3,3157.1 L1202.8,3160.2 L1204.3,3163.3 L1205.8,3166.3 L1207.3,3169.2 L1208.8,3172.1 L1210.3,3174.8 L1211.8,3177.4 L1213.3,3180.0 L1214.8,3182.5 L1216.3,3184.9 L1217.8,3187.3 L1219.3,3189.6 L1220.8,3191.8 L1222.3,3193.9 L1223.8,3196.0 L1225.3,3197.9 L1226.8,3199.8 L1228.3,3201.5 L1229.8,3203.1 L1231.3,3204.6 L1232.8,3205.9 L1234.3,3207.3 L1235.8,3208.5 L1237.3,3209.8 L1238.8,3211.0 L1240.3,3212.2 L1241.8,3213.5 L1243.3,3214.7 L1244.8,3216.0 L1246.3,3217.2 L1247.8,3218.2 L1249.3,3219.3 L1250.8,3220.3 L1252.3,3221.4 L1253.8,3222.4 L1255.3,3223.4 L1256.8,3224.3 L1258.3,3225.2 L1259.8,3226.0 L1261.3,3226.9 L1264.8,3228.5 L1268.3,3229.5 L1271.8,3230.9 L1275.3,3232.1 L1278.8,3232.6 L1282.3,3233.2 L1285.8,3234.9 L1289.3,3235.1 L1292.8,3234.9 L1296.3,3235.5 L1299.8,3236.0 L1303.3,3235.4 L1306.8,3235.8 L1310.3,3236.9 L1313.8,3236.6 L1317.3,3236.2 L1320.8,3235.9 L1324.3,3235.9 L1327.8,3236.8 L1331.3,3237.3 L1334.8,3237.9 L1338.3,3238.3 L1341.8,3238.7 L1345.3,3239.0 L1348.8,3239.4 L1352.3,3239.4 L1355.8,3238.0 L1359.3,3236.8 L1362.8,3238.2 L1366.3,3238.6 L1369.8,3237.7 L1373.3,3238.1 L1376.8,3238.9 L1380.3,3238.8 L1383.8,3238.7 L1387.3,3239.4 L1390.8,3239.0 L1394.3,3237.8 L1397.8,3237.2 L1401.3,3236.7 L1404.8,3237.4 L1408.3,3237.5 L1411.8,3237.0 L1415.3,3237.0 L1418.8,3237.2 L1422.3,3237.7 L1425.8,3238.1 L1429.3,3238.5 L1432.8,3238.6 L1436.3,3238.3 L1439.8,3237.9 L1443.3,3237.4 L1446.8,3238.3 L1450.3,3238.4 L1453.8,3237.5 L1457.3,3237.3 L1460.8,3237.3 L1464.3,3237.6 L1467.8,3238.0 L1471.3,3238.5 L1474.8,3238.5 L1478.3,3237.9 L1481.8,3238.4 L1485.3,3238.8 L1488.8,3239.2 L1492.3,3239.1 L1495.8,3237.8 L1499.3,3237.8 L1502.8,3238.1 L1506.3,3238.1 L1509.8,3238.1 L1513.3,3238.2 L1516.8,3238.1 L1520.3,3238.1 L1523.8,3237.5 L1527.3,3237.0 L1530.8,3237.8 L1534.3,3237.9 L1537.8,3237.1 L1541.3,3237.3 L1544.8,3237.7 L1548.3,3237.2 L1551.8,3237.1 L1555.3,3238.2 L1558.8,3238.2 L1562.3,3237.3 L1565.8,3238.2 L1569.3,3239.2 L1572.8,3238.6 L1576.3,3238.7 L1579.8,3240.0 L1583.3,3240.0 L1586.8,3239.6 L1590.3,3238.5 L1593.8,3237.6 L1597.3,3237.0 L1600.8,3236.4 L1604.3,3235.8 L1607.8,3235.0 L1611.3,3234.4 L1614.8,3235.2 L1618.3,3235.3 L1621.8,3234.5 L1625.3,3234.2 L1628.8,3233.8 L1632.3,3233.3 L1635.8,3232.7 L1639.3,3232.2 L1642.8,3231.1 L1646.3,3230.2 L1649.8,3228.9 L1653.3,3227.8 L1656.8,3227.9 L1660.3,3227.9 L1663.8,3228.1 L1667.3,3228.1 L1670.8,3228.2 L1674.3,3227.8 L1677.8,3227.5 L1681.3,3226.7 L1684.8,3226.7 L1688.3,3227.5 L1691.8,3226.5 L1695.3,3225.4 L1698.8,3225.6 L1702.3,3225.2 L1705.8,3224.3 L1709.3,3224.0 L1712.8,3223.9 L1716.3,3223.6 L1719.8,3223.5 L1723.3,3224.3 L1726.8,3224.3 L1730.3,3223.5 L1733.8,3224.2 L1737.3,3224.9 L1740.8,3225.2 L1744.3,3224.9 L1747.8,3223.9 L1751.3,3223.6 L1754.8,3223.5 L1758.3,3223.0 L1761.8,3222.5 L1765.3,3221.5 L1768.8,3221.3 L1772.3,3221.4 L1775.8,3221.4 L1779.3,3221.4 L1782.8,3220.7 L1786.3,3220.2 L1789.8,3220.1 L1793.3,3219.4 L1796.8,3218.5 L1800.3,3218.8 L1803.8,3219.0 L1807.3,3218.9 L1810.8,3218.4 L1814.3,3217.4 L1817.8,3216.2 L1821.3,3215.8 L1824.8,3216.7 L1828.3,3217.4 L1831.8,3217.6 L1835.3,3218.1 L1838.8,3218.6 L1842.3,3217.1 L1845.8,3216.2 L1849.3,3216.2 L1852.8,3216.9 L1856.3,3218.1 L1859.8,3219.1 L1863.3,3220.1 L1866.8,3220.6 L1870.3,3221.1 L1873.8,3221.6 L1877.3,3222.8 L1880.8,3224.3 L1884.3,3224.8 L1887.8,3225.5 L1891.3,3226.4 L1894.8,3227.4 L1898.3,3228.4 L1901.8,3229.8 L1905.3,3231.1 L1908.8,3232.1 L1912.3,3233.2 L1915.8,3234.4 L1919.3,3235.3 L1922.8,3236.0 L1926.3,3236.9 L1929.8,3237.5 L1933.3,3237.6 L1936.8,3237.9 L1940.3,3238.2 L1943.8,3238.9 L1947.3,3239.8 L1950.8,3241.2 L1954.3,3242.0 L1957.8,3241.5 L1961.3,3241.5 L1964.8,3241.3 L1968.3,3241.0 L1969.6,3240.9"/>
<path class="cb" stroke="#EDA3C4" d="M80.8,3114.1 L84.3,3114.5 L87.8,3114.6 L91.3,3114.4 L94.8,3114.0 L98.3,3113.2 L101.8,3113.8 L105.3,3114.4 L108.8,3113.7 L112.3,3113.5 L115.8,3114.1 L119.3,3113.7 L122.8,3113.0 L126.3,3113.3 L129.8,3113.6 L133.3,3114.0 L136.8,3114.0 L140.3,3113.7 L143.8,3113.3 L147.3,3112.8 L150.8,3113.6 L154.3,3113.7 L157.8,3113.1 L161.3,3113.0 L164.8,3113.0 L168.3,3113.8 L171.8,3114.2 L175.3,3113.3 L178.8,3113.0 L182.3,3113.0 L185.8,3112.5 L189.3,3112.0 L192.8,3113.0 L196.3,3113.1 L199.8,3112.4 L203.3,3111.8 L206.8,3111.1 L210.3,3110.6 L213.8,3109.9 L217.3,3109.4 L220.8,3108.7 L224.3,3108.0 L227.8,3108.1 L231.3,3108.3 L234.8,3107.8 L238.3,3107.5 L241.8,3107.2 L245.3,3107.5 L248.8,3108.0 L252.3,3107.6 L255.8,3107.2 L259.3,3106.7 L262.8,3106.3 L266.3,3105.8 L269.8,3105.9 L273.3,3106.0 L276.8,3104.4 L280.3,3103.8 L283.8,3104.5 L287.3,3103.9 L290.8,3103.2 L294.3,3102.7 L297.8,3102.2 L301.3,3102.0 L304.8,3101.3 L308.3,3100.2 L311.8,3099.8 L315.3,3099.6 L318.8,3099.6 L322.3,3099.7 L325.8,3100.0 L329.3,3099.6 L332.8,3098.8 L336.3,3099.4 L339.8,3099.8 L343.3,3099.3 L346.8,3099.7 L350.3,3100.7 L353.8,3100.2 L357.3,3099.6 L360.8,3100.6 L364.3,3100.7 L367.8,3099.9 L371.3,3099.9 L374.8,3100.0 L378.3,3099.8 L381.8,3100.0 L385.3,3100.9 L388.8,3101.8 L392.3,3103.0 L395.8,3103.6 L399.3,3104.4 L402.8,3104.9 L406.3,3105.7 L409.8,3106.6 L413.3,3107.2 L416.8,3107.5 L420.3,3108.6 L423.8,3109.3 L427.3,3109.1 L430.8,3109.1 L434.3,3109.1 L437.8,3108.9 L441.3,3108.7 L444.8,3109.1 L448.3,3109.4 L451.8,3109.7 L455.3,3110.1 L458.8,3110.5 L462.3,3110.2 L465.8,3110.1 L469.3,3110.1 L472.8,3110.6 L476.3,3111.6 L479.8,3111.4 L483.3,3111.1 L486.8,3111.0 L490.3,3111.3 L493.8,3112.3 L497.3,3112.2 L500.8,3111.6 L504.3,3111.6 L507.8,3111.5 L511.3,3111.2 L514.8,3111.7 L518.3,3113.1 L521.8,3112.3 L525.3,3111.6 L528.8,3111.2 L532.3,3111.2 L535.8,3112.6 L539.3,3112.5 L542.8,3112.2 L546.3,3111.8 L549.8,3111.6 L553.3,3112.5 L556.8,3113.0 L560.3,3113.4 L563.8,3114.0 L567.3,3114.6 L570.8,3114.7 L574.3,3114.8 L577.8,3114.8 L581.3,3114.6 L584.8,3114.3 L588.3,3114.2 L591.8,3114.1 L595.3,3114.7 L598.8,3114.5 L602.3,3114.0 L605.8,3113.5 L609.3,3112.8 L612.8,3112.2 L616.3,3112.0 L619.8,3112.1 L623.3,3112.2 L626.8,3112.3 L630.3,3113.0 L633.8,3113.5 L637.3,3113.4 L640.8,3113.1 L644.3,3112.5 L647.8,3112.1 L651.3,3111.7 L654.8,3112.2 L658.3,3112.4 L661.8,3112.1 L665.3,3112.5 L668.8,3113.2 L672.3,3113.2 L675.8,3113.3 L679.3,3114.1 L682.8,3114.4 L686.3,3114.3 L689.8,3115.0 L693.3,3115.6 L696.8,3115.9 L700.3,3115.8 L703.8,3114.9 L707.3,3115.1 L710.8,3115.5 L714.3,3115.5 L717.8,3115.5 L721.3,3115.9 L724.8,3115.6 L728.3,3114.4 L731.8,3115.0 L735.3,3115.6 L738.8,3115.5 L742.3,3115.1 L745.8,3114.6 L749.3,3113.8 L752.8,3112.9 L756.3,3112.3 L759.8,3112.0 L763.3,3112.7 L766.8,3113.6 L770.3,3115.1 L773.8,3115.7 L777.3,3116.1 L780.8,3115.9 L784.3,3115.8 L787.8,3115.6 L791.3,3115.4 L794.8,3115.0 L798.3,3115.0 L801.8,3114.8 L805.3,3114.3 L808.8,3113.8 L812.3,3113.2 L815.8,3113.5 L819.3,3113.8 L822.8,3113.7 L826.3,3113.6 L829.8,3113.2 L833.3,3113.6 L836.8,3114.2 L840.3,3114.2 L843.8,3114.2 L847.3,3114.5 L850.8,3114.4 L854.3,3114.1 L857.8,3113.3 L861.3,3112.4 L864.8,3112.3 L868.3,3112.3 L871.8,3112.5 L875.3,3112.5 L878.8,3112.5 L882.3,3111.2 L885.8,3110.3 L889.3,3110.2 L892.8,3110.0 L896.3,3110.0 L899.8,3109.2 L903.3,3108.3 L906.8,3107.6 L910.3,3107.0 L913.8,3106.8 L917.3,3105.8 L920.8,3104.4 L924.3,3104.1 L927.8,3103.4 L931.3,3102.2 L934.8,3101.0 L938.3,3099.6 L941.8,3098.0 L943.3,3097.2 L944.8,3096.5 L946.3,3096.0 L947.8,3095.4 L949.3,3094.8 L950.8,3094.2 L952.3,3093.6 L953.8,3092.9 L955.3,3092.1 L956.8,3091.2 L958.3,3090.3 L959.8,3089.3 L961.3,3088.3 L962.8,3087.3 L964.3,3086.2 L965.8,3085.1 L967.3,3083.9 L968.8,3082.7 L970.3,3081.3 L971.8,3079.9 L973.3,3078.5 L974.8,3077.1 L976.3,3075.6 L977.8,3074.1 L979.3,3072.7 L980.8,3071.1 L982.3,3069.4 L983.8,3067.7 L985.3,3065.8 L986.8,3063.8 L988.3,3061.6 L989.8,3059.4 L991.3,3057.0 L992.8,3054.5 L994.3,3051.9 L995.8,3049.2 L997.3,3046.5 L998.8,3043.6 L1000.3,3040.5 L1001.8,3037.1 L1003.3,3033.5 L1004.8,3029.5 L1006.3,3025.2 L1007.8,3020.7 L1009.3,3016.3 L1010.8,3011.8 L1012.3,3007.2 L1013.8,3002.4 L1015.3,2997.5 L1016.8,2992.4 L1018.3,2987.1 L1019.8,2981.6 L1021.3,2975.8 L1022.8,2969.8 L1024.3,2963.5 L1025.8,2957.0 L1027.3,2950.2 L1028.8,2943.2 L1030.3,2935.8 L1031.8,2928.2 L1033.3,2920.3 L1034.8,2912.0 L1036.3,2903.4 L1037.8,2894.7 L1039.3,2885.6 L1040.8,2876.3 L1042.3,2867.0 L1043.8,2857.6 L1045.3,2848.2 L1046.8,2838.9 L1048.3,2829.7 L1049.8,2820.3 L1051.3,2811.0 L1052.8,2801.5 L1054.3,2791.8 L1055.8,2782.0 L1057.3,2771.9 L1058.8,2761.7 L1060.3,2751.3 L1061.8,2740.7 L1063.3,2730.1 L1064.8,2719.5 L1066.3,2708.7 L1067.8,2698.0 L1069.3,2687.5 L1070.8,2677.0 L1072.3,2666.6 L1073.8,2656.6 L1075.3,2646.8 L1076.8,2637.3 L1078.3,2628.2 L1079.8,2619.5 L1081.3,2611.2 L1082.8,2603.3 L1084.3,2595.9 L1085.8,2589.0 L1087.3,2582.5 L1088.8,2576.3 L1090.3,2570.1 L1091.8,2564.2 L1093.3,2559.5 L1094.8,2556.3 L1096.3,2554.2 L1097.8,2552.5 L1099.3,2551.2 L1100.8,2550.8 L1102.3,2550.7 L1103.8,2550.8 L1105.3,2551.4 L1106.8,2552.6 L1108.3,2554.3 L1109.8,2556.5 L1111.3,2559.4 L1112.8,2563.3 L1114.3,2567.8 L1115.8,2572.5 L1117.3,2577.1 L1118.8,2582.0 L1120.3,2587.1 L1121.8,2592.6 L1123.3,2598.4 L1124.8,2604.5 L1126.3,2610.8 L1127.8,2617.4 L1129.3,2624.3 L1130.8,2631.2 L1132.3,2638.3 L1133.8,2645.6 L1135.3,2652.9 L1136.8,2660.2 L1138.3,2667.6 L1139.8,2675.0 L1141.3,2682.5 L1142.8,2689.9 L1144.3,2697.4 L1145.8,2705.0 L1147.3,2712.7 L1148.8,2720.4 L1150.3,2728.2 L1151.8,2736.2 L1153.3,2744.3 L1154.8,2752.6 L1156.3,2761.1 L1157.8,2769.6 L1159.3,2778.3 L1160.8,2787.1 L1162.3,2795.8 L1163.8,2804.5 L1165.3,2813.2 L1166.8,2822.0 L1168.3,2830.8 L1169.8,2839.6 L1171.3,2848.5 L1172.8,2857.1 L1174.3,2865.6 L1175.8,2873.8 L1177.3,2881.9 L1178.8,2890.0 L1180.3,2897.9 L1181.8,2905.8 L1183.3,2913.7 L1184.8,2921.5 L1186.3,2929.3 L1187.8,2936.9 L1189.3,2944.4 L1190.8,2951.8 L1192.3,2959.1 L1193.8,2966.1 L1195.3,2972.9 L1196.8,2979.6 L1198.3,2986.1 L1199.8,2992.3 L1201.3,2998.4 L1202.8,3004.2 L1204.3,3009.9 L1205.8,3015.3 L1207.3,3020.6 L1208.8,3025.6 L1210.3,3030.6 L1211.8,3035.4 L1213.3,3040.2 L1214.8,3045.0 L1216.3,3049.7 L1217.8,3054.2 L1219.3,3058.3 L1220.8,3062.0 L1222.3,3065.4 L1223.8,3068.5 L1225.3,3071.5 L1226.8,3074.2 L1228.3,3076.7 L1229.8,3078.9 L1231.3,3081.0 L1232.8,3082.8 L1234.3,3084.6 L1235.8,3086.2 L1237.3,3087.7 L1238.8,3089.2 L1240.3,3090.6 L1241.8,3092.0 L1243.3,3093.4 L1244.8,3094.6 L1246.3,3095.7 L1247.8,3096.8 L1249.3,3097.8 L1250.8,3098.7 L1252.3,3099.6 L1253.8,3100.5 L1255.3,3101.4 L1256.8,3102.2 L1258.3,3103.1 L1259.8,3103.8 L1261.3,3104.6 L1264.8,3106.1 L1268.3,3107.5 L1271.8,3108.6 L1275.3,3109.4 L1278.8,3108.9 L1282.3,3109.2 L1285.8,3110.3 L1289.3,3110.9 L1292.8,3111.4 L1296.3,3112.0 L1299.8,3112.4 L1303.3,3112.9 L1306.8,3113.0 L1310.3,3112.8 L1313.8,3112.5 L1317.3,3112.3 L1320.8,3112.0 L1324.3,3112.1 L1327.8,3112.6 L1331.3,3112.5 L1334.8,3112.2 L1338.3,3112.6 L1341.8,3113.0 L1345.3,3113.9 L1348.8,3114.0 L1352.3,3113.9 L1355.8,3113.5 L1359.3,3113.1 L1362.8,3113.2 L1366.3,3113.2 L1369.8,3112.8 L1373.3,3113.3 L1376.8,3114.1 L1380.3,3114.1 L1383.8,3114.0 L1387.3,3113.5 L1390.8,3113.3 L1394.3,3113.3 L1397.8,3113.7 L1401.3,3114.1 L1404.8,3114.1 L1408.3,3114.1 L1411.8,3114.5 L1415.3,3114.3 L1418.8,3114.0 L1422.3,3113.7 L1425.8,3113.5 L1429.3,3112.7 L1432.8,3112.8 L1436.3,3113.7 L1439.8,3113.5 L1443.3,3113.3 L1446.8,3113.3 L1450.3,3113.3 L1453.8,3113.4 L1457.3,3113.5 L1460.8,3113.6 L1464.3,3113.4 L1467.8,3113.2 L1471.3,3113.1 L1474.8,3112.9 L1478.3,3112.1 L1481.8,3112.1 L1485.3,3112.2 L1488.8,3113.0 L1492.3,3113.2 L1495.8,3112.7 L1499.3,3112.7 L1502.8,3112.7 L1506.3,3112.7 L1509.8,3112.8 L1513.3,3113.6 L1516.8,3113.8 L1520.3,3113.9 L1523.8,3114.0 L1527.3,3114.0 L1530.8,3113.4 L1534.3,3113.1 L1537.8,3112.9 L1541.3,3112.7 L1544.8,3112.6 L1548.3,3112.6 L1551.8,3112.5 L1555.3,3111.5 L1558.8,3111.3 L1562.3,3111.2 L1565.8,3111.8 L1569.3,3112.4 L1572.8,3112.6 L1576.3,3112.8 L1579.8,3113.2 L1583.3,3113.5 L1586.8,3113.7 L1590.3,3113.5 L1593.8,3113.4 L1597.3,3113.6 L1600.8,3113.5 L1604.3,3113.3 L1607.8,3113.3 L1611.3,3113.4 L1614.8,3113.4 L1618.3,3113.2 L1621.8,3112.8 L1625.3,3112.9 L1628.8,3113.1 L1632.3,3113.8 L1635.8,3114.1 L1639.3,3113.6 L1642.8,3113.9 L1646.3,3114.8 L1649.8,3114.1 L1653.3,3113.3 L1656.8,3114.6 L1660.3,3114.6 L1663.8,3113.1 L1667.3,3113.4 L1670.8,3114.2 L1674.3,3113.3 L1677.8,3112.7 L1681.3,3112.5 L1684.8,3112.2 L1688.3,3111.8 L1691.8,3111.4 L1695.3,3111.2 L1698.8,3111.2 L1702.3,3111.2 L1705.8,3111.3 L1709.3,3111.1 L1712.8,3110.6 L1716.3,3111.1 L1719.8,3111.4 L1723.3,3111.4 L1726.8,3110.7 L1730.3,3109.3 L1733.8,3109.1 L1737.3,3109.0 L1740.8,3109.1 L1744.3,3109.0 L1747.8,3108.7 L1751.3,3108.0 L1754.8,3106.9 L1758.3,3106.8 L1761.8,3106.7 L1765.3,3107.0 L1768.8,3107.1 L1772.3,3107.5 L1775.8,3107.1 L1779.3,3106.6 L1782.8,3105.7 L1786.3,3105.3 L1789.8,3105.6 L1793.3,3105.6 L1796.8,3105.7 L1800.3,3104.5 L1803.8,3103.7 L1807.3,3104.0 L1810.8,3103.4 L1814.3,3102.2 L1817.8,3101.6 L1821.3,3101.1 L1824.8,3099.8 L1828.3,3099.2 L1831.8,3099.7 L1835.3,3099.1 L1838.8,3098.4 L1842.3,3097.5 L1845.8,3096.8 L1849.3,3096.3 L1852.8,3096.1 L1856.3,3096.4 L1859.8,3097.1 L1863.3,3097.9 L1866.8,3098.4 L1870.3,3098.5 L1873.8,3098.4 L1877.3,3097.6 L1880.8,3096.5 L1884.3,3096.5 L1887.8,3096.7 L1891.3,3097.0 L1894.8,3097.5 L1898.3,3098.3 L1901.8,3098.8 L1905.3,3099.3 L1908.8,3099.9 L1912.3,3100.8 L1915.8,3102.5 L1919.3,3103.5 L1922.8,3104.5 L1926.3,3104.5 L1929.8,3105.0 L1933.3,3106.9 L1936.8,3108.1 L1940.3,3109.1 L1943.8,3109.9 L1947.3,3110.5 L1950.8,3110.1 L1954.3,3110.0 L1957.8,3110.1 L1961.3,3110.4 L1964.8,3111.0 L1968.3,3111.6 L1969.6,3111.8"/>
<path class="cb" stroke="#DC4558" d="M80.8,3014.5 L84.3,3014.6 L87.8,3014.8 L91.3,3014.4 L94.8,3014.3 L98.3,3014.0 L101.8,3014.0 L105.3,3014.0 L108.8,3014.1 L112.3,3014.0 L115.8,3013.7 L119.3,3014.0 L122.8,3014.6 L126.3,3013.4 L129.8,3012.6 L133.3,3013.6 L136.8,3013.1 L140.3,3011.9 L143.8,3011.6 L147.3,3011.5 L150.8,3011.2 L154.3,3010.9 L157.8,3010.6 L161.3,3009.9 L164.8,3008.8 L168.3,3009.5 L171.8,3009.7 L175.3,3008.9 L178.8,3008.3 L182.3,3007.6 L185.8,3007.4 L189.3,3007.3 L192.8,3006.5 L196.3,3005.8 L199.8,3005.3 L203.3,3004.7 L206.8,3004.0 L210.3,3004.1 L213.8,3004.0 L217.3,3003.1 L220.8,3003.0 L224.3,3004.0 L227.8,3004.8 L231.3,3005.6 L234.8,3006.0 L238.3,3005.7 L241.8,3005.2 L245.3,3004.7 L248.8,3003.9 L252.3,3004.1 L255.8,3003.9 L259.3,3002.6 L262.8,3002.1 L266.3,3001.8 L269.8,3000.7 L273.3,2999.5 L276.8,2999.1 L280.3,2998.9 L283.8,2999.4 L287.3,2998.5 L290.8,2997.1 L294.3,2997.5 L297.8,2997.5 L301.3,2996.4 L304.8,2996.0 L308.3,2995.8 L311.8,2995.8 L315.3,2995.7 L318.8,2995.0 L322.3,2994.8 L325.8,2995.0 L329.3,2995.1 L332.8,2995.3 L336.3,2995.0 L339.8,2995.0 L343.3,2996.2 L346.8,2996.3 L350.3,2995.8 L353.8,2996.4 L357.3,2997.3 L360.8,2998.2 L364.3,2999.0 L367.8,3000.0 L371.3,3000.4 L374.8,3000.7 L378.3,3000.3 L381.8,3000.3 L385.3,3002.0 L388.8,3002.6 L392.3,3003.0 L395.8,3003.2 L399.3,3003.3 L402.8,3002.7 L406.3,3002.9 L409.8,3004.1 L413.3,3004.0 L416.8,3003.6 L420.3,3004.9 L423.8,3005.8 L427.3,3004.9 L430.8,3005.2 L434.3,3005.9 L437.8,3006.7 L441.3,3007.4 L444.8,3007.3 L448.3,3007.7 L451.8,3008.8 L455.3,3008.7 L458.8,3008.3 L462.3,3009.0 L465.8,3009.4 L469.3,3010.1 L472.8,3010.0 L476.3,3009.1 L479.8,3009.1 L483.3,3009.1 L486.8,3009.6 L490.3,3009.9 L493.8,3010.3 L497.3,3009.8 L500.8,3008.8 L504.3,3009.5 L507.8,3010.2 L511.3,3010.9 L514.8,3010.9 L518.3,3010.0 L521.8,3010.3 L525.3,3010.5 L528.8,3011.1 L532.3,3010.8 L535.8,3009.4 L539.3,3009.2 L542.8,3009.4 L546.3,3008.9 L549.8,3008.6 L553.3,3007.7 L556.8,3007.6 L560.3,3007.7 L563.8,3007.8 L567.3,3008.1 L570.8,3009.4 L574.3,3009.9 L577.8,3009.7 L581.3,3009.3 L584.8,3008.7 L588.3,3008.3 L591.8,3008.0 L595.3,3008.9 L598.8,3008.8 L602.3,3008.3 L605.8,3008.1 L609.3,3007.9 L612.8,3007.5 L616.3,3007.3 L619.8,3007.0 L623.3,3007.4 L626.8,3008.1 L630.3,3008.8 L633.8,3009.1 L637.3,3007.9 L640.8,3007.9 L644.3,3008.4 L647.8,3009.0 L651.3,3009.6 L654.8,3009.6 L658.3,3009.8 L661.8,3009.9 L665.3,3010.4 L668.8,3011.1 L672.3,3011.1 L675.8,3011.2 L679.3,3011.3 L682.8,3011.5 L686.3,3011.7 L689.8,3012.3 L693.3,3012.7 L696.8,3011.4 L700.3,3010.8 L703.8,3010.4 L707.3,3010.5 L710.8,3011.1 L714.3,3009.9 L717.8,3009.2 L721.3,3009.5 L724.8,3009.3 L728.3,3008.7 L731.8,3008.7 L735.3,3008.7 L738.8,3009.4 L742.3,3009.6 L745.8,3008.9 L749.3,3009.2 L752.8,3009.8 L756.3,3009.4 L759.8,3009.2 L763.3,3009.5 L766.8,3009.8 L770.3,3010.1 L773.8,3010.4 L777.3,3010.7 L780.8,3011.1 L784.3,3011.1 L787.8,3010.6 L791.3,3010.4 L794.8,3010.3 L798.3,3011.0 L801.8,3011.3 L805.3,3010.7 L808.8,3010.4 L812.3,3010.1 L815.8,3010.1 L819.3,3010.1 L822.8,3009.5 L826.3,3009.5 L829.8,3010.4 L833.3,3010.2 L836.8,3009.8 L840.3,3009.2 L843.8,3008.7 L847.3,3008.5 L850.8,3008.0 L854.3,3007.1 L857.8,3007.2 L861.3,3007.2 L864.8,3006.7 L868.3,3005.8 L871.8,3004.4 L875.3,3003.3 L878.8,3002.1 L882.3,3001.6 L885.8,3001.0 L889.3,3000.4 L892.8,2999.3 L896.3,2997.7 L899.8,2996.7 L903.3,2995.5 L906.8,2993.8 L910.3,2992.0 L913.8,2989.9 L917.3,2988.2 L920.8,2986.7 L924.3,2985.0 L927.8,2983.3 L931.3,2981.2 L934.8,2979.7 L938.3,2978.6 L941.8,2976.5 L943.3,2975.6 L944.8,2974.7 L946.3,2974.0 L947.8,2973.3 L949.3,2972.5 L950.8,2971.7 L952.3,2970.4 L953.8,2969.0 L955.3,2967.5 L956.8,2966.2 L958.3,2964.9 L959.8,2963.7 L961.3,2962.5 L962.8,2961.3 L964.3,2960.0 L965.8,2958.8 L967.3,2957.5 L968.8,2956.2 L970.3,2954.9 L971.8,2953.4 L973.3,2952.0 L974.8,2950.6 L976.3,2949.2 L977.8,2947.8 L979.3,2946.3 L980.8,2944.7 L982.3,2943.0 L983.8,2941.3 L985.3,2939.6 L986.8,2937.7 L988.3,2935.7 L989.8,2933.6 L991.3,2931.4 L992.8,2929.1 L994.3,2926.6 L995.8,2923.9 L997.3,2921.1 L998.8,2918.1 L1000.3,2914.8 L1001.8,2911.2 L1003.3,2906.8 L1004.8,2902.0 L1006.3,2896.9 L1007.8,2891.7 L1009.3,2886.4 L1010.8,2880.9 L1012.3,2875.0 L1013.8,2868.9 L1015.3,2862.2 L1016.8,2855.3 L1018.3,2848.3 L1019.8,2841.0 L1021.3,2833.8 L1022.8,2826.7 L1024.3,2819.5 L1025.8,2812.2 L1027.3,2805.0 L1028.8,2797.7 L1030.3,2790.3 L1031.8,2782.8 L1033.3,2775.1 L1034.8,2767.3 L1036.3,2759.4 L1037.8,2751.2 L1039.3,2742.8 L1040.8,2734.3 L1042.3,2725.6 L1043.8,2716.8 L1045.3,2707.7 L1046.8,2698.4 L1048.3,2689.1 L1049.8,2679.6 L1051.3,2669.9 L1052.8,2660.2 L1054.3,2650.3 L1055.8,2640.3 L1057.3,2630.1 L1058.8,2619.5 L1060.3,2608.7 L1061.8,2597.7 L1063.3,2586.2 L1064.8,2574.5 L1066.3,2563.2 L1067.8,2552.2 L1069.3,2542.3 L1070.8,2533.0 L1072.3,2524.3 L1073.8,2516.0 L1075.3,2508.1 L1076.8,2500.6 L1078.3,2493.4 L1079.8,2486.5 L1081.3,2479.9 L1082.8,2473.7 L1084.3,2467.9 L1085.8,2462.4 L1087.3,2457.1 L1088.8,2452.0 L1090.3,2447.3 L1091.8,2443.6 L1093.3,2441.2 L1094.8,2439.5 L1096.3,2438.1 L1097.8,2437.2 L1099.3,2436.8 L1100.8,2437.2 L1102.3,2438.3 L1103.8,2439.7 L1105.3,2441.3 L1106.8,2443.4 L1108.3,2446.1 L1109.8,2449.7 L1111.3,2454.0 L1112.8,2458.5 L1114.3,2463.1 L1115.8,2467.8 L1117.3,2472.8 L1118.8,2478.2 L1120.3,2483.8 L1121.8,2489.7 L1123.3,2495.8 L1124.8,2502.2 L1126.3,2508.9 L1127.8,2515.7 L1129.3,2522.7 L1130.8,2530.0 L1132.3,2537.3 L1133.8,2544.8 L1135.3,2552.5 L1136.8,2560.2 L1138.3,2568.0 L1139.8,2575.9 L1141.3,2583.9 L1142.8,2592.1 L1144.3,2600.7 L1145.8,2609.5 L1147.3,2618.8 L1148.8,2628.7 L1150.3,2639.5 L1151.8,2651.1 L1153.3,2663.6 L1154.8,2677.1 L1156.3,2690.8 L1157.8,2703.9 L1159.3,2716.6 L1160.8,2728.3 L1162.3,2739.2 L1163.8,2749.5 L1165.3,2759.4 L1166.8,2769.0 L1168.3,2778.3 L1169.8,2787.4 L1171.3,2796.1 L1172.8,2804.5 L1174.3,2812.9 L1175.8,2821.2 L1177.3,2829.5 L1178.8,2837.7 L1180.3,2846.0 L1181.8,2854.2 L1183.3,2862.4 L1184.8,2870.4 L1186.3,2878.2 L1187.8,2885.8 L1189.3,2893.2 L1190.8,2900.0 L1192.3,2906.5 L1193.8,2912.7 L1195.3,2918.7 L1196.8,2924.2 L1198.3,2929.4 L1199.8,2934.3 L1201.3,2938.9 L1202.8,2943.4 L1204.3,2947.7 L1205.8,2952.0 L1207.3,2956.1 L1208.8,2960.0 L1210.3,2963.5 L1211.8,2966.5 L1213.3,2969.1 L1214.8,2971.5 L1216.3,2973.7 L1217.8,2975.8 L1219.3,2977.9 L1220.8,2979.8 L1222.3,2981.6 L1223.8,2983.3 L1225.3,2984.9 L1226.8,2986.4 L1228.3,2987.9 L1229.8,2989.3 L1231.3,2990.8 L1232.8,2992.1 L1234.3,2993.3 L1235.8,2994.4 L1237.3,2995.4 L1238.8,2996.3 L1240.3,2997.2 L1241.8,2998.1 L1243.3,2999.0 L1244.8,2999.7 L1246.3,3000.2 L1247.8,3000.4 L1249.3,3000.7 L1250.8,3001.2 L1252.3,3001.8 L1253.8,3002.5 L1255.3,3003.1 L1256.8,3003.8 L1258.3,3004.3 L1259.8,3004.8 L1261.3,3005.2 L1264.8,3006.2 L1268.3,3007.5 L1271.8,3007.4 L1275.3,3007.2 L1278.8,3008.8 L1282.3,3009.5 L1285.8,3009.7 L1289.3,3009.7 L1292.8,3009.5 L1296.3,3009.2 L1299.8,3009.0 L1303.3,3009.6 L1306.8,3009.5 L1310.3,3009.1 L1313.8,3008.7 L1317.3,3008.4 L1320.8,3008.3 L1324.3,3008.5 L1327.8,3009.5 L1331.3,3009.4 L1334.8,3009.1 L1338.3,3008.5 L1341.8,3008.3 L1345.3,3009.1 L1348.8,3009.1 L1352.3,3008.5 L1355.8,3009.1 L1359.3,3009.6 L1362.8,3009.7 L1366.3,3009.7 L1369.8,3009.2 L1373.3,3009.2 L1376.8,3009.4 L1380.3,3009.5 L1383.8,3009.5 L1387.3,3009.5 L1390.8,3009.8 L1394.3,3010.6 L1397.8,3010.7 L1401.3,3010.8 L1404.8,3010.5 L1408.3,3010.4 L1411.8,3009.9 L1415.3,3009.7 L1418.8,3009.3 L1422.3,3010.0 L1425.8,3010.5 L1429.3,3011.0 L1432.8,3010.9 L1436.3,3010.3 L1439.8,3010.0 L1443.3,3009.7 L1446.8,3010.1 L1450.3,3010.2 L1453.8,3009.7 L1457.3,3009.5 L1460.8,3009.3 L1464.3,3009.2 L1467.8,3009.1 L1471.3,3010.0 L1474.8,3009.6 L1478.3,3008.5 L1481.8,3008.6 L1485.3,3008.7 L1488.8,3008.7 L1492.3,3008.7 L1495.8,3009.1 L1499.3,3008.9 L1502.8,3008.7 L1506.3,3008.4 L1509.8,3008.3 L1513.3,3008.9 L1516.8,3008.7 L1520.3,3008.1 L1523.8,3008.4 L1527.3,3008.6 L1530.8,3007.8 L1534.3,3007.8 L1537.8,3009.2 L1541.3,3009.3 L1544.8,3009.1 L1548.3,3009.1 L1551.8,3009.0 L1555.3,3008.2 L1558.8,3008.4 L1562.3,3009.4 L1565.8,3009.3 L1569.3,3009.2 L1572.8,3009.8 L1576.3,3009.9 L1579.8,3008.5 L1583.3,3008.6 L1586.8,3008.8 L1590.3,3010.1 L1593.8,3010.7 L1597.3,3009.9 L1600.8,3009.6 L1604.3,3009.4 L1607.8,3009.0 L1611.3,3008.5 L1614.8,3008.5 L1618.3,3008.5 L1621.8,3008.5 L1625.3,3008.6 L1628.8,3008.9 L1632.3,3009.0 L1635.8,3009.0 L1639.3,3008.3 L1642.8,3008.5 L1646.3,3009.5 L1649.8,3009.7 L1653.3,3009.8 L1656.8,3009.0 L1660.3,3008.7 L1663.8,3008.9 L1667.3,3008.9 L1670.8,3008.9 L1674.3,3008.2 L1677.8,3007.5 L1681.3,3006.5 L1684.8,3005.7 L1688.3,3004.8 L1691.8,3004.4 L1695.3,3004.2 L1698.8,3004.0 L1702.3,3003.9 L1705.8,3003.8 L1709.3,3003.9 L1712.8,3004.0 L1716.3,3004.8 L1719.8,3005.1 L1723.3,3004.4 L1726.8,3004.6 L1730.3,3005.3 L1733.8,3004.3 L1737.3,3003.2 L1740.8,3003.9 L1744.3,3003.9 L1747.8,3003.2 L1751.3,3002.8 L1754.8,3002.4 L1758.3,3001.7 L1761.8,3001.3 L1765.3,3001.4 L1768.8,3000.9 L1772.3,3000.2 L1775.8,3000.3 L1779.3,3000.4 L1782.8,3000.3 L1786.3,2999.9 L1789.8,2998.6 L1793.3,2998.5 L1796.8,2998.7 L1800.3,2998.1 L1803.8,2997.5 L1807.3,2996.4 L1810.8,2995.8 L1814.3,2995.4 L1817.8,2995.5 L1821.3,2995.8 L1824.8,2994.4 L1828.3,2993.8 L1831.8,2993.6 L1835.3,2993.6 L1838.8,2993.8 L1842.3,2992.5 L1845.8,2991.8 L1849.3,2992.7 L1852.8,2993.0 L1856.3,2993.0 L1859.8,2992.6 L1863.3,2992.2 L1866.8,2992.7 L1870.3,2992.8 L1873.8,2992.5 L1877.3,2992.4 L1880.8,2993.0 L1884.3,2992.4 L1887.8,2992.7 L1891.3,2994.4 L1894.8,2995.5 L1898.3,2996.4 L1901.8,2996.8 L1905.3,2997.3 L1908.8,2998.2 L1912.3,2999.2 L1915.8,3000.9 L1919.3,3001.7 L1922.8,3002.5 L1926.3,3003.2 L1929.8,3004.0 L1933.3,3004.9 L1936.8,3005.9 L1940.3,3006.8 L1943.8,3008.1 L1947.3,3009.3 L1950.8,3010.1 L1954.3,3010.5 L1957.8,3010.2 L1961.3,3010.3 L1964.8,3010.4 L1968.3,3010.3 L1969.6,3010.3"/>
<path class="cb" stroke="#ACD797" d="M80.8,2890.4 L84.3,2891.0 L87.8,2891.8 L91.3,2892.4 L94.8,2892.2 L98.3,2890.8 L101.8,2890.6 L105.3,2890.3 L108.8,2890.1 L112.3,2889.6 L115.8,2888.5 L119.3,2888.3 L122.8,2888.4 L126.3,2888.1 L129.8,2887.8 L133.3,2886.6 L136.8,2886.1 L140.3,2885.7 L143.8,2885.8 L147.3,2885.9 L150.8,2884.9 L154.3,2884.4 L157.8,2884.2 L161.3,2884.3 L164.8,2884.7 L168.3,2884.6 L171.8,2884.3 L175.3,2883.7 L178.8,2883.1 L182.3,2882.0 L185.8,2882.2 L189.3,2882.4 L192.8,2881.3 L196.3,2881.0 L199.8,2881.7 L203.3,2881.3 L206.8,2880.5 L210.3,2880.8 L213.8,2881.0 L217.3,2881.7 L220.8,2881.5 L224.3,2880.7 L227.8,2881.6 L231.3,2882.6 L234.8,2881.5 L238.3,2881.3 L241.8,2882.4 L245.3,2881.4 L248.8,2879.9 L252.3,2879.7 L255.8,2879.3 L259.3,2878.9 L262.8,2878.4 L266.3,2877.9 L269.8,2877.1 L273.3,2876.2 L276.8,2875.2 L280.3,2874.3 L283.8,2873.4 L287.3,2873.0 L290.8,2872.8 L294.3,2872.9 L297.8,2872.7 L301.3,2871.6 L304.8,2871.1 L308.3,2870.8 L311.8,2871.0 L315.3,2871.3 L318.8,2871.6 L322.3,2871.5 L325.8,2871.0 L329.3,2871.1 L332.8,2871.4 L336.3,2870.7 L339.8,2870.3 L343.3,2871.1 L346.8,2871.2 L350.3,2870.8 L353.8,2871.4 L357.3,2872.0 L360.8,2872.0 L364.3,2872.2 L367.8,2872.4 L371.3,2873.2 L374.8,2874.2 L378.3,2874.5 L381.8,2874.9 L385.3,2875.3 L388.8,2875.9 L392.3,2876.9 L395.8,2877.6 L399.3,2878.4 L402.8,2878.1 L406.3,2878.4 L409.8,2879.0 L413.3,2879.7 L416.8,2880.6 L420.3,2880.9 L423.8,2881.2 L427.3,2881.6 L430.8,2882.3 L434.3,2883.5 L437.8,2884.1 L441.3,2884.6 L444.8,2884.5 L448.3,2884.6 L451.8,2884.5 L455.3,2884.9 L458.8,2885.5 L462.3,2885.9 L465.8,2886.1 L469.3,2884.9 L472.8,2884.9 L476.3,2885.2 L479.8,2885.4 L483.3,2885.5 L486.8,2885.6 L490.3,2886.0 L493.8,2887.4 L497.3,2887.7 L500.8,2888.0 L504.3,2887.9 L507.8,2887.8 L511.3,2887.3 L514.8,2887.1 L518.3,2886.8 L521.8,2887.0 L525.3,2887.2 L528.8,2887.8 L532.3,2888.1 L535.8,2888.3 L539.3,2888.5 L542.8,2888.9 L546.3,2888.7 L549.8,2888.7 L553.3,2889.0 L556.8,2889.3 L560.3,2889.6 L563.8,2890.0 L567.3,2890.4 L570.8,2890.2 L574.3,2890.4 L577.8,2891.6 L581.3,2891.4 L584.8,2890.6 L588.3,2890.7 L591.8,2890.8 L595.3,2891.7 L598.8,2891.5 L602.3,2890.5 L605.8,2890.4 L609.3,2890.2 L612.8,2890.4 L616.3,2890.3 L619.8,2889.9 L623.3,2889.7 L626.8,2889.4 L630.3,2889.7 L633.8,2889.9 L637.3,2890.8 L640.8,2890.5 L644.3,2889.2 L647.8,2889.8 L651.3,2890.5 L654.8,2889.7 L658.3,2889.6 L661.8,2889.7 L665.3,2890.4 L668.8,2891.4 L672.3,2891.4 L675.8,2891.6 L679.3,2892.2 L682.8,2892.5 L686.3,2892.5 L689.8,2892.3 L693.3,2892.0 L696.8,2892.6 L700.3,2892.7 L703.8,2892.3 L707.3,2892.9 L710.8,2893.9 L714.3,2894.2 L717.8,2894.4 L721.3,2893.7 L724.8,2893.9 L728.3,2894.7 L731.8,2894.6 L735.3,2894.4 L738.8,2895.2 L742.3,2895.6 L745.8,2895.8 L749.3,2895.7 L752.8,2895.4 L756.3,2895.1 L759.8,2894.9 L763.3,2895.3 L766.8,2895.0 L770.3,2894.1 L773.8,2894.1 L777.3,2894.3 L780.8,2894.5 L784.3,2894.7 L787.8,2894.6 L791.3,2895.0 L794.8,2895.4 L798.3,2894.8 L801.8,2894.5 L805.3,2895.2 L808.8,2895.2 L812.3,2895.2 L815.8,2894.7 L819.3,2894.2 L822.8,2894.1 L826.3,2893.6 L829.8,2892.3 L833.3,2891.9 L836.8,2891.7 L840.3,2890.9 L843.8,2890.4 L847.3,2891.2 L850.8,2890.9 L854.3,2890.1 L857.8,2889.8 L861.3,2889.4 L864.8,2888.3 L868.3,2887.5 L871.8,2887.2 L875.3,2886.3 L878.8,2885.3 L882.3,2884.0 L885.8,2882.8 L889.3,2881.9 L892.8,2880.9 L896.3,2879.8 L899.8,2878.9 L903.3,2877.9 L906.8,2876.7 L910.3,2875.4 L913.8,2873.6 L917.3,2872.2 L920.8,2870.8 L924.3,2869.5 L927.8,2868.0 L931.3,2866.4 L934.8,2864.0 L938.3,2861.1 L941.8,2858.6 L943.3,2857.6 L944.8,2856.5 L946.3,2855.3 L947.8,2854.0 L949.3,2852.5 L950.8,2851.1 L952.3,2849.6 L953.8,2848.3 L955.3,2847.0 L956.8,2845.9 L958.3,2844.8 L959.8,2843.6 L961.3,2842.5 L962.8,2841.5 L964.3,2840.6 L965.8,2839.7 L967.3,2838.7 L968.8,2837.5 L970.3,2836.1 L971.8,2834.7 L973.3,2833.3 L974.8,2831.8 L976.3,2830.3 L977.8,2828.6 L979.3,2826.8 L980.8,2824.9 L982.3,2822.7 L983.8,2820.4 L985.3,2817.7 L986.8,2814.8 L988.3,2811.5 L989.8,2808.1 L991.3,2804.4 L992.8,2800.7 L994.3,2796.9 L995.8,2793.0 L997.3,2788.9 L998.8,2784.7 L1000.3,2780.4 L1001.8,2775.9 L1003.3,2771.2 L1004.8,2766.3 L1006.3,2761.2 L1007.8,2755.7 L1009.3,2750.0 L1010.8,2744.0 L1012.3,2737.8 L1013.8,2731.4 L1015.3,2724.6 L1016.8,2717.6 L1018.3,2710.3 L1019.8,2702.8 L1021.3,2694.9 L1022.8,2686.6 L1024.3,2678.1 L1025.8,2669.4 L1027.3,2660.4 L1028.8,2651.1 L1030.3,2641.3 L1031.8,2631.2 L1033.3,2620.6 L1034.8,2609.7 L1036.3,2598.4 L1037.8,2586.8 L1039.3,2575.5 L1040.8,2564.5 L1042.3,2553.8 L1043.8,2543.8 L1045.3,2534.5 L1046.8,2525.5 L1048.3,2516.7 L1049.8,2508.1 L1051.3,2499.4 L1052.8,2490.6 L1054.3,2481.7 L1055.8,2472.9 L1057.3,2463.9 L1058.8,2454.9 L1060.3,2445.9 L1061.8,2437.1 L1063.3,2428.2 L1064.8,2419.5 L1066.3,2411.0 L1067.8,2402.9 L1069.3,2395.0 L1070.8,2387.4 L1072.3,2380.2 L1073.8,2373.6 L1075.3,2367.4 L1076.8,2361.7 L1078.3,2356.4 L1079.8,2351.6 L1081.3,2347.0 L1082.8,2342.5 L1084.3,2338.1 L1085.8,2334.2 L1087.3,2331.4 L1088.8,2329.3 L1090.3,2327.8 L1091.8,2326.6 L1093.3,2325.7 L1094.8,2325.1 L1096.3,2324.7 L1097.8,2324.4 L1099.3,2324.6 L1100.8,2325.3 L1102.3,2326.3 L1103.8,2327.6 L1105.3,2329.0 L1106.8,2330.9 L1108.3,2333.4 L1109.8,2337.0 L1111.3,2341.4 L1112.8,2345.9 L1114.3,2350.4 L1115.8,2355.2 L1117.3,2360.3 L1118.8,2365.7 L1120.3,2371.5 L1121.8,2377.7 L1123.3,2384.3 L1124.8,2391.4 L1126.3,2398.9 L1127.8,2407.0 L1129.3,2415.4 L1130.8,2424.0 L1132.3,2432.8 L1133.8,2441.7 L1135.3,2450.7 L1136.8,2459.7 L1138.3,2468.7 L1139.8,2477.7 L1141.3,2486.7 L1142.8,2495.6 L1144.3,2504.4 L1145.8,2513.1 L1147.3,2521.7 L1148.8,2530.0 L1150.3,2538.4 L1151.8,2546.7 L1153.3,2555.4 L1154.8,2564.2 L1156.3,2573.2 L1157.8,2582.3 L1159.3,2591.5 L1160.8,2600.7 L1162.3,2609.9 L1163.8,2619.1 L1165.3,2628.2 L1166.8,2637.3 L1168.3,2646.3 L1169.8,2655.1 L1171.3,2663.8 L1172.8,2672.3 L1174.3,2680.7 L1175.8,2688.8 L1177.3,2696.6 L1178.8,2704.3 L1180.3,2711.8 L1181.8,2719.2 L1183.3,2726.4 L1184.8,2733.5 L1186.3,2740.6 L1187.8,2747.7 L1189.3,2754.4 L1190.8,2760.9 L1192.3,2766.9 L1193.8,2772.5 L1195.3,2777.6 L1196.8,2782.5 L1198.3,2787.3 L1199.8,2791.9 L1201.3,2796.4 L1202.8,2800.9 L1204.3,2805.2 L1205.8,2809.1 L1207.3,2812.6 L1208.8,2816.0 L1210.3,2819.1 L1211.8,2822.2 L1213.3,2825.1 L1214.8,2827.9 L1216.3,2830.5 L1217.8,2833.1 L1219.3,2835.6 L1220.8,2837.9 L1222.3,2840.2 L1223.8,2842.4 L1225.3,2844.4 L1226.8,2846.2 L1228.3,2847.8 L1229.8,2849.5 L1231.3,2851.1 L1232.8,2852.7 L1234.3,2854.3 L1235.8,2855.8 L1237.3,2857.2 L1238.8,2858.7 L1240.3,2860.0 L1241.8,2861.3 L1243.3,2862.6 L1244.8,2863.8 L1246.3,2865.0 L1247.8,2866.1 L1249.3,2867.2 L1250.8,2868.2 L1252.3,2869.3 L1253.8,2870.4 L1255.3,2871.4 L1256.8,2872.3 L1258.3,2873.0 L1259.8,2873.5 L1261.3,2873.9 L1264.8,2875.2 L1268.3,2876.6 L1271.8,2877.5 L1275.3,2878.2 L1278.8,2879.4 L1282.3,2880.2 L1285.8,2880.2 L1289.3,2880.9 L1292.8,2881.2 L1296.3,2881.4 L1299.8,2881.4 L1303.3,2881.6 L1306.8,2881.2 L1310.3,2881.9 L1313.8,2882.6 L1317.3,2882.7 L1320.8,2883.3 L1324.3,2883.7 L1327.8,2884.2 L1331.3,2884.4 L1334.8,2884.4 L1338.3,2884.7 L1341.8,2885.0 L1345.3,2886.0 L1348.8,2886.2 L1352.3,2886.0 L1355.8,2886.3 L1359.3,2886.7 L1362.8,2886.1 L1366.3,2886.0 L1369.8,2886.6 L1373.3,2887.0 L1376.8,2887.5 L1380.3,2887.1 L1383.8,2887.0 L1387.3,2888.2 L1390.8,2888.4 L1394.3,2888.3 L1397.8,2888.0 L1401.3,2887.6 L1404.8,2888.1 L1408.3,2888.4 L1411.8,2888.8 L1415.3,2889.0 L1418.8,2889.2 L1422.3,2889.1 L1425.8,2889.0 L1429.3,2888.6 L1432.8,2888.8 L1436.3,2889.5 L1439.8,2889.7 L1443.3,2889.8 L1446.8,2888.9 L1450.3,2888.4 L1453.8,2888.1 L1457.3,2888.3 L1460.8,2888.8 L1464.3,2889.3 L1467.8,2889.7 L1471.3,2888.8 L1474.8,2888.8 L1478.3,2889.0 L1481.8,2889.1 L1485.3,2889.3 L1488.8,2890.4 L1492.3,2890.7 L1495.8,2889.8 L1499.3,2890.1 L1502.8,2890.6 L1506.3,2890.9 L1509.8,2891.1 L1513.3,2891.8 L1516.8,2892.1 L1520.3,2892.3 L1523.8,2892.3 L1527.3,2892.2 L1530.8,2892.5 L1534.3,2892.4 L1537.8,2891.5 L1541.3,2891.3 L1544.8,2891.2 L1548.3,2891.4 L1551.8,2891.6 L1555.3,2891.9 L1558.8,2891.8 L1562.3,2891.2 L1565.8,2891.3 L1569.3,2891.3 L1572.8,2891.8 L1576.3,2891.9 L1579.8,2891.6 L1583.3,2891.7 L1586.8,2891.9 L1590.3,2891.1 L1593.8,2890.9 L1597.3,2892.4 L1600.8,2892.7 L1604.3,2892.1 L1607.8,2892.7 L1611.3,2893.1 L1614.8,2892.9 L1618.3,2891.8 L1621.8,2890.6 L1625.3,2889.5 L1628.8,2889.1 L1632.3,2889.2 L1635.8,2889.3 L1639.3,2888.3 L1642.8,2888.4 L1646.3,2888.8 L1649.8,2889.5 L1653.3,2890.2 L1656.8,2890.0 L1660.3,2889.8 L1663.8,2889.1 L1667.3,2889.4 L1670.8,2890.0 L1674.3,2889.3 L1677.8,2888.5 L1681.3,2887.6 L1684.8,2886.7 L1688.3,2885.6 L1691.8,2885.0 L1695.3,2884.6 L1698.8,2885.1 L1702.3,2885.1 L1705.8,2884.8 L1709.3,2884.1 L1712.8,2883.1 L1716.3,2883.6 L1719.8,2883.9 L1723.3,2882.9 L1726.8,2882.7 L1730.3,2882.7 L1733.8,2882.9 L1737.3,2883.0 L1740.8,2883.0 L1744.3,2882.9 L1747.8,2883.0 L1751.3,2882.6 L1754.8,2882.2 L1758.3,2881.9 L1761.8,2881.8 L1765.3,2882.0 L1768.8,2881.9 L1772.3,2881.7 L1775.8,2881.8 L1779.3,2881.9 L1782.8,2881.5 L1786.3,2881.0 L1789.8,2879.6 L1793.3,2879.8 L1796.8,2880.4 L1800.3,2879.5 L1803.8,2878.6 L1807.3,2877.6 L1810.8,2877.0 L1814.3,2876.7 L1817.8,2876.4 L1821.3,2876.2 L1824.8,2876.0 L1828.3,2876.1 L1831.8,2877.1 L1835.3,2876.4 L1838.8,2875.1 L1842.3,2873.4 L1845.8,2872.0 L1849.3,2871.8 L1852.8,2871.4 L1856.3,2871.2 L1859.8,2870.2 L1863.3,2869.8 L1866.8,2871.4 L1870.3,2872.5 L1873.8,2873.3 L1877.3,2874.1 L1880.8,2874.8 L1884.3,2874.8 L1887.8,2875.1 L1891.3,2875.8 L1894.8,2876.7 L1898.3,2878.2 L1901.8,2878.4 L1905.3,2878.6 L1908.8,2879.7 L1912.3,2880.5 L1915.8,2881.0 L1919.3,2881.8 L1922.8,2882.6 L1926.3,2883.4 L1929.8,2884.4 L1933.3,2885.4 L1936.8,2886.7 L1940.3,2888.5 L1943.8,2889.1 L1947.3,2889.6 L1950.8,2890.5 L1954.3,2891.1 L1957.8,2891.5 L1961.3,2891.5 L1964.8,2891.2 L1968.3,2891.9 L1969.6,2892.2"/>
<path class="cb" stroke="#2DB455" d="M80.8,2777.5 L84.3,2777.7 L87.8,2777.7 L91.3,2776.8 L94.8,2776.7 L98.3,2777.3 L101.8,2776.9 L105.3,2776.4 L108.8,2775.3 L112.3,2775.0 L115.8,2775.8 L119.3,2775.4 L122.8,2774.8 L126.3,2774.3 L129.8,2774.0 L133.3,2775.0 L136.8,2774.9 L140.3,2774.3 L143.8,2774.5 L147.3,2774.7 L150.8,2774.6 L154.3,2774.7 L157.8,2775.3 L161.3,2775.1 L164.8,2774.7 L168.3,2774.4 L171.8,2774.3 L175.3,2775.4 L178.8,2775.6 L182.3,2775.3 L185.8,2775.7 L189.3,2775.9 L192.8,2775.8 L196.3,2774.2 L199.8,2771.5 L203.3,2770.2 L206.8,2770.3 L210.3,2769.7 L213.8,2769.4 L217.3,2769.7 L220.8,2769.9 L224.3,2770.1 L227.8,2769.4 L231.3,2768.7 L234.8,2768.5 L238.3,2768.4 L241.8,2768.5 L245.3,2768.3 L248.8,2768.2 L252.3,2767.4 L255.8,2766.7 L259.3,2765.4 L262.8,2764.8 L266.3,2764.5 L269.8,2764.3 L273.3,2764.2 L276.8,2763.8 L280.3,2763.1 L283.8,2761.7 L287.3,2761.0 L290.8,2760.4 L294.3,2759.3 L297.8,2758.4 L301.3,2758.6 L304.8,2758.1 L308.3,2757.3 L311.8,2757.1 L315.3,2756.9 L318.8,2755.5 L322.3,2754.7 L325.8,2754.6 L329.3,2754.0 L332.8,2753.2 L336.3,2753.9 L339.8,2754.3 L343.3,2753.9 L346.8,2754.2 L350.3,2755.1 L353.8,2755.3 L357.3,2755.6 L360.8,2755.8 L364.3,2756.1 L367.8,2756.5 L371.3,2756.9 L374.8,2757.3 L378.3,2758.0 L381.8,2758.8 L385.3,2760.0 L388.8,2760.8 L392.3,2761.4 L395.8,2762.7 L399.3,2764.0 L402.8,2764.0 L406.3,2764.5 L409.8,2765.1 L413.3,2766.2 L416.8,2767.6 L420.3,2768.0 L423.8,2768.4 L427.3,2769.1 L430.8,2769.3 L434.3,2768.9 L437.8,2768.8 L441.3,2768.8 L444.8,2769.8 L448.3,2770.5 L451.8,2771.1 L455.3,2771.0 L458.8,2770.6 L462.3,2771.0 L465.8,2771.6 L469.3,2773.3 L472.8,2773.9 L476.3,2774.2 L479.8,2773.7 L483.3,2773.1 L486.8,2773.9 L490.3,2774.2 L493.8,2774.3 L497.3,2773.8 L500.8,2773.0 L504.3,2773.1 L507.8,2773.0 L511.3,2772.1 L514.8,2771.8 L518.3,2771.7 L521.8,2772.5 L525.3,2773.3 L528.8,2773.5 L532.3,2773.7 L535.8,2773.9 L539.3,2774.0 L542.8,2773.8 L546.3,2774.6 L549.8,2775.0 L553.3,2774.7 L556.8,2774.8 L560.3,2775.5 L563.8,2774.7 L567.3,2774.0 L570.8,2775.2 L574.3,2775.5 L577.8,2774.9 L581.3,2774.9 L584.8,2775.1 L588.3,2775.3 L591.8,2775.5 L595.3,2775.7 L598.8,2775.5 L602.3,2774.4 L605.8,2775.4 L609.3,2776.4 L612.8,2775.8 L616.3,2775.8 L619.8,2776.6 L623.3,2776.7 L626.8,2776.7 L630.3,2777.2 L633.8,2777.4 L637.3,2776.2 L640.8,2776.4 L644.3,2777.2 L647.8,2776.8 L651.3,2776.2 L654.8,2774.7 L658.3,2773.9 L661.8,2774.0 L665.3,2773.9 L668.8,2773.9 L672.3,2774.7 L675.8,2775.4 L679.3,2776.6 L682.8,2777.2 L686.3,2777.3 L689.8,2778.1 L693.3,2778.7 L696.8,2777.8 L700.3,2777.6 L703.8,2778.3 L707.3,2777.9 L710.8,2777.2 L714.3,2776.9 L717.8,2776.7 L721.3,2776.6 L724.8,2776.7 L728.3,2777.3 L731.8,2777.3 L735.3,2777.3 L738.8,2776.8 L742.3,2776.9 L745.8,2778.1 L749.3,2778.4 L752.8,2778.7 L756.3,2778.6 L759.8,2778.6 L763.3,2778.6 L766.8,2778.4 L770.3,2777.9 L773.8,2777.7 L777.3,2777.4 L780.8,2776.9 L784.3,2776.5 L787.8,2776.2 L791.3,2775.9 L794.8,2775.7 L798.3,2775.7 L801.8,2775.9 L805.3,2776.5 L808.8,2776.4 L812.3,2775.7 L815.8,2775.9 L819.3,2776.0 L822.8,2775.7 L826.3,2775.6 L829.8,2776.0 L833.3,2775.8 L836.8,2775.5 L840.3,2774.9 L843.8,2774.4 L847.3,2773.5 L850.8,2773.2 L854.3,2773.2 L857.8,2772.8 L861.3,2772.3 L864.8,2770.9 L868.3,2769.8 L871.8,2768.8 L875.3,2768.4 L878.8,2768.4 L882.3,2766.6 L885.8,2765.2 L889.3,2764.2 L892.8,2763.3 L896.3,2762.7 L899.8,2761.5 L903.3,2760.2 L906.8,2759.0 L910.3,2757.7 L913.8,2756.1 L917.3,2755.0 L920.8,2754.0 L924.3,2752.8 L927.8,2751.5 L931.3,2750.2 L934.8,2748.7 L938.3,2747.2 L941.8,2745.2 L943.3,2744.3 L944.8,2743.4 L946.3,2742.7 L947.8,2742.1 L949.3,2741.5 L950.8,2740.8 L952.3,2740.0 L953.8,2739.2 L955.3,2738.4 L956.8,2737.5 L958.3,2736.6 L959.8,2735.6 L961.3,2734.5 L962.8,2733.5 L964.3,2732.3 L965.8,2731.1 L967.3,2729.8 L968.8,2728.5 L970.3,2727.2 L971.8,2725.8 L973.3,2724.4 L974.8,2722.9 L976.3,2721.3 L977.8,2719.6 L979.3,2717.8 L980.8,2716.1 L982.3,2714.2 L983.8,2712.2 L985.3,2710.0 L986.8,2707.6 L988.3,2705.2 L989.8,2702.5 L991.3,2699.7 L992.8,2696.7 L994.3,2693.5 L995.8,2690.0 L997.3,2686.1 L998.8,2681.5 L1000.3,2676.5 L1001.8,2671.2 L1003.3,2665.9 L1004.8,2660.5 L1006.3,2655.1 L1007.8,2649.4 L1009.3,2643.5 L1010.8,2637.2 L1012.3,2630.5 L1013.8,2623.5 L1015.3,2616.2 L1016.8,2608.7 L1018.3,2600.8 L1019.8,2592.5 L1021.3,2584.1 L1022.8,2575.8 L1024.3,2567.4 L1025.8,2559.0 L1027.3,2550.7 L1028.8,2542.5 L1030.3,2534.6 L1031.8,2526.9 L1033.3,2519.2 L1034.8,2511.5 L1036.3,2503.8 L1037.8,2496.1 L1039.3,2488.2 L1040.8,2480.1 L1042.3,2471.7 L1043.8,2463.2 L1045.3,2454.6 L1046.8,2445.8 L1048.3,2436.9 L1049.8,2427.9 L1051.3,2418.9 L1052.8,2409.9 L1054.3,2400.9 L1055.8,2391.9 L1057.3,2382.9 L1058.8,2374.0 L1060.3,2365.2 L1061.8,2356.5 L1063.3,2348.0 L1064.8,2339.6 L1066.3,2331.4 L1067.8,2323.5 L1069.3,2315.8 L1070.8,2308.4 L1072.3,2301.2 L1073.8,2294.3 L1075.3,2287.4 L1076.8,2280.8 L1078.3,2274.3 L1079.8,2268.0 L1081.3,2261.8 L1082.8,2255.7 L1084.3,2249.9 L1085.8,2244.4 L1087.3,2239.1 L1088.8,2234.0 L1090.3,2229.0 L1091.8,2224.2 L1093.3,2220.3 L1094.8,2217.4 L1096.3,2215.2 L1097.8,2213.4 L1099.3,2212.0 L1100.8,2210.9 L1102.3,2210.4 L1103.8,2210.8 L1105.3,2211.6 L1106.8,2212.2 L1108.3,2213.1 L1109.8,2214.3 L1111.3,2215.9 L1112.8,2218.3 L1114.3,2221.8 L1115.8,2226.3 L1117.3,2230.9 L1118.8,2235.5 L1120.3,2240.1 L1121.8,2244.8 L1123.3,2249.5 L1124.8,2254.4 L1126.3,2259.4 L1127.8,2265.0 L1129.3,2270.9 L1130.8,2277.4 L1132.3,2284.6 L1133.8,2292.5 L1135.3,2301.0 L1136.8,2310.1 L1138.3,2319.7 L1139.8,2329.5 L1141.3,2339.4 L1142.8,2349.3 L1144.3,2359.1 L1145.8,2368.7 L1147.3,2378.0 L1148.8,2387.1 L1150.3,2396.0 L1151.8,2404.9 L1153.3,2413.8 L1154.8,2422.6 L1156.3,2431.4 L1157.8,2440.3 L1159.3,2449.1 L1160.8,2457.8 L1162.3,2466.6 L1163.8,2475.3 L1165.3,2484.0 L1166.8,2492.6 L1168.3,2500.6 L1169.8,2508.4 L1171.3,2516.0 L1172.8,2523.4 L1174.3,2531.0 L1175.8,2538.7 L1177.3,2546.5 L1178.8,2554.8 L1180.3,2563.3 L1181.8,2572.1 L1183.3,2580.9 L1184.8,2589.8 L1186.3,2598.7 L1187.8,2607.3 L1189.3,2615.7 L1190.8,2623.8 L1192.3,2631.5 L1193.8,2638.8 L1195.3,2645.8 L1196.8,2652.5 L1198.3,2658.9 L1199.8,2665.0 L1201.3,2670.9 L1202.8,2676.5 L1204.3,2681.9 L1205.8,2687.0 L1207.3,2691.7 L1208.8,2696.3 L1210.3,2700.7 L1211.8,2704.9 L1213.3,2708.9 L1214.8,2712.7 L1216.3,2716.3 L1217.8,2719.8 L1219.3,2723.0 L1220.8,2726.1 L1222.3,2728.9 L1223.8,2731.4 L1225.3,2733.7 L1226.8,2736.0 L1228.3,2738.1 L1229.8,2740.4 L1231.3,2742.8 L1232.8,2745.4 L1234.3,2748.0 L1235.8,2750.2 L1237.3,2752.0 L1238.8,2753.6 L1240.3,2754.9 L1241.8,2756.2 L1243.3,2757.4 L1244.8,2758.6 L1246.3,2759.8 L1247.8,2760.9 L1249.3,2762.0 L1250.8,2763.0 L1252.3,2763.8 L1253.8,2764.5 L1255.3,2765.2 L1256.8,2765.8 L1258.3,2766.4 L1259.8,2766.9 L1261.3,2767.3 L1264.8,2768.1 L1268.3,2768.9 L1271.8,2769.6 L1275.3,2770.3 L1278.8,2770.7 L1282.3,2771.4 L1285.8,2772.0 L1289.3,2773.0 L1292.8,2774.2 L1296.3,2774.2 L1299.8,2773.4 L1303.3,2772.4 L1306.8,2772.5 L1310.3,2773.2 L1313.8,2773.3 L1317.3,2773.3 L1320.8,2773.4 L1324.3,2773.4 L1327.8,2773.5 L1331.3,2773.6 L1334.8,2773.7 L1338.3,2773.2 L1341.8,2773.0 L1345.3,2774.0 L1348.8,2774.1 L1352.3,2774.1 L1355.8,2773.5 L1359.3,2772.9 L1362.8,2772.8 L1366.3,2773.1 L1369.8,2774.2 L1373.3,2774.8 L1376.8,2775.4 L1380.3,2774.5 L1383.8,2774.0 L1387.3,2774.2 L1390.8,2774.5 L1394.3,2775.1 L1397.8,2775.0 L1401.3,2774.9 L1404.8,2774.9 L1408.3,2775.0 L1411.8,2775.5 L1415.3,2774.9 L1418.8,2774.0 L1422.3,2774.9 L1425.8,2775.5 L1429.3,2775.4 L1432.8,2775.2 L1436.3,2774.4 L1439.8,2774.7 L1443.3,2775.2 L1446.8,2774.7 L1450.3,2774.8 L1453.8,2775.8 L1457.3,2775.8 L1460.8,2775.6 L1464.3,2776.1 L1467.8,2776.4 L1471.3,2775.9 L1474.8,2775.6 L1478.3,2775.1 L1481.8,2774.9 L1485.3,2774.9 L1488.8,2774.8 L1492.3,2774.7 L1495.8,2774.6 L1499.3,2774.8 L1502.8,2775.3 L1506.3,2775.0 L1509.8,2774.7 L1513.3,2774.3 L1516.8,2774.3 L1520.3,2775.0 L1523.8,2774.4 L1527.3,2773.9 L1530.8,2774.4 L1534.3,2774.7 L1537.8,2775.0 L1541.3,2774.9 L1544.8,2774.5 L1548.3,2775.0 L1551.8,2775.3 L1555.3,2776.1 L1558.8,2775.9 L1562.3,2774.8 L1565.8,2775.5 L1569.3,2776.0 L1572.8,2775.7 L1576.3,2775.3 L1579.8,2775.0 L1583.3,2774.8 L1586.8,2774.7 L1590.3,2775.3 L1593.8,2776.0 L1597.3,2776.2 L1600.8,2776.6 L1604.3,2776.9 L1607.8,2777.1 L1611.3,2777.2 L1614.8,2776.7 L1618.3,2776.4 L1621.8,2775.9 L1625.3,2775.4 L1628.8,2774.9 L1632.3,2774.5 L1635.8,2774.3 L1639.3,2774.9 L1642.8,2775.0 L1646.3,2774.9 L1649.8,2774.8 L1653.3,2774.5 L1656.8,2774.0 L1660.3,2773.5 L1663.8,2772.4 L1667.3,2771.9 L1670.8,2771.6 L1674.3,2772.0 L1677.8,2772.2 L1681.3,2772.3 L1684.8,2772.4 L1688.3,2772.7 L1691.8,2772.2 L1695.3,2771.8 L1698.8,2771.4 L1702.3,2771.3 L1705.8,2771.3 L1709.3,2770.7 L1712.8,2769.6 L1716.3,2769.4 L1719.8,2769.0 L1723.3,2769.0 L1726.8,2768.6 L1730.3,2768.4 L1733.8,2767.8 L1737.3,2767.4 L1740.8,2768.5 L1744.3,2768.8 L1747.8,2768.5 L1751.3,2768.4 L1754.8,2768.3 L1758.3,2767.4 L1761.8,2766.8 L1765.3,2767.0 L1768.8,2766.9 L1772.3,2766.8 L1775.8,2766.1 L1779.3,2765.3 L1782.8,2765.2 L1786.3,2764.7 L1789.8,2763.7 L1793.3,2763.1 L1796.8,2762.5 L1800.3,2761.5 L1803.8,2760.6 L1807.3,2759.5 L1810.8,2759.0 L1814.3,2759.0 L1817.8,2758.0 L1821.3,2757.0 L1824.8,2757.1 L1828.3,2757.0 L1831.8,2757.1 L1835.3,2756.7 L1838.8,2756.2 L1842.3,2755.3 L1845.8,2754.6 L1849.3,2754.8 L1852.8,2754.5 L1856.3,2754.0 L1859.8,2754.3 L1863.3,2754.7 L1866.8,2754.7 L1870.3,2754.8 L1873.8,2754.9 L1877.3,2754.6 L1880.8,2754.1 L1884.3,2754.3 L1887.8,2754.8 L1891.3,2755.9 L1894.8,2756.9 L1898.3,2758.1 L1901.8,2758.7 L1905.3,2759.5 L1908.8,2761.2 L1912.3,2762.6 L1915.8,2764.0 L1919.3,2764.9 L1922.8,2765.6 L1926.3,2766.9 L1929.8,2768.1 L1933.3,2768.6 L1936.8,2769.6 L1940.3,2771.2 L1943.8,2771.6 L1947.3,2771.9 L1950.8,2772.0 L1954.3,2772.6 L1957.8,2774.0 L1961.3,2774.5 L1964.8,2774.8 L1968.3,2774.2 L1969.6,2774.0"/>
<path class="cb" stroke="#F2C091" d="M80.8,2669.6 L84.3,2670.0 L87.8,2670.0 L91.3,2669.5 L94.8,2669.0 L98.3,2668.6 L101.8,2668.0 L105.3,2667.5 L108.8,2668.4 L112.3,2668.7 L115.8,2668.8 L119.3,2668.3 L122.8,2667.3 L126.3,2667.8 L129.8,2668.0 L133.3,2668.1 L136.8,2667.9 L140.3,2667.6 L143.8,2667.2 L147.3,2666.8 L150.8,2666.1 L154.3,2665.9 L157.8,2666.7 L161.3,2666.2 L164.8,2665.4 L168.3,2664.7 L171.8,2664.2 L175.3,2664.3 L178.8,2664.4 L182.3,2664.9 L185.8,2664.4 L189.3,2663.9 L192.8,2664.3 L196.3,2664.3 L199.8,2663.6 L203.3,2663.7 L206.8,2664.1 L210.3,2663.8 L213.8,2663.7 L217.3,2664.1 L220.8,2663.9 L224.3,2663.5 L227.8,2664.1 L231.3,2664.7 L234.8,2665.1 L238.3,2665.2 L241.8,2665.2 L245.3,2664.5 L248.8,2663.3 L252.3,2664.3 L255.8,2664.8 L259.3,2663.6 L262.8,2663.6 L266.3,2664.5 L269.8,2664.2 L273.3,2664.0 L276.8,2663.3 L280.3,2663.3 L283.8,2664.2 L287.3,2664.2 L290.8,2664.0 L294.3,2663.8 L297.8,2663.7 L301.3,2664.2 L304.8,2664.1 L308.3,2663.8 L311.8,2663.0 L315.3,2662.2 L318.8,2662.6 L322.3,2662.5 L325.8,2661.9 L329.3,2661.9 L332.8,2662.1 L336.3,2661.3 L339.8,2660.8 L343.3,2662.0 L346.8,2661.7 L350.3,2660.7 L353.8,2660.5 L357.3,2660.1 L360.8,2659.5 L364.3,2659.9 L367.8,2660.8 L371.3,2662.1 L374.8,2663.2 L378.3,2664.7 L381.8,2665.9 L385.3,2666.1 L388.8,2666.9 L392.3,2668.4 L395.8,2668.6 L399.3,2668.7 L402.8,2669.0 L406.3,2669.2 L409.8,2669.4 L413.3,2669.6 L416.8,2669.7 L420.3,2670.2 L423.8,2670.5 L427.3,2671.1 L430.8,2671.2 L434.3,2671.1 L437.8,2671.1 L441.3,2671.1 L444.8,2671.2 L448.3,2671.3 L451.8,2671.8 L455.3,2671.9 L458.8,2671.9 L462.3,2671.7 L465.8,2671.6 L469.3,2672.5 L472.8,2672.7 L476.3,2672.7 L479.8,2672.6 L483.3,2672.4 L486.8,2672.4 L490.3,2672.2 L493.8,2671.5 L497.3,2671.4 L500.8,2671.5 L504.3,2671.3 L507.8,2671.2 L511.3,2671.6 L514.8,2671.7 L518.3,2671.6 L521.8,2671.9 L525.3,2672.1 L528.8,2671.9 L532.3,2671.8 L535.8,2672.3 L539.3,2672.6 L542.8,2673.1 L546.3,2672.9 L549.8,2672.7 L553.3,2672.7 L556.8,2672.6 L560.3,2672.1 L563.8,2672.6 L567.3,2673.1 L570.8,2673.4 L574.3,2673.3 L577.8,2672.3 L581.3,2672.3 L584.8,2672.6 L588.3,2671.5 L591.8,2670.9 L595.3,2671.8 L598.8,2672.1 L602.3,2672.2 L605.8,2672.4 L609.3,2672.5 L612.8,2671.8 L616.3,2671.6 L619.8,2672.3 L623.3,2672.0 L626.8,2671.3 L630.3,2672.0 L633.8,2672.4 L637.3,2671.7 L640.8,2671.8 L644.3,2672.3 L647.8,2672.5 L651.3,2672.6 L654.8,2672.5 L658.3,2672.5 L661.8,2672.3 L665.3,2672.7 L668.8,2673.2 L672.3,2673.3 L675.8,2673.4 L679.3,2674.1 L682.8,2674.3 L686.3,2674.3 L689.8,2674.4 L693.3,2674.4 L696.8,2673.4 L700.3,2673.0 L703.8,2673.1 L707.3,2673.4 L710.8,2673.7 L714.3,2674.0 L717.8,2674.2 L721.3,2673.4 L724.8,2673.0 L728.3,2672.5 L731.8,2673.2 L735.3,2673.9 L738.8,2672.9 L742.3,2672.4 L745.8,2672.4 L749.3,2672.6 L752.8,2673.0 L756.3,2672.1 L759.8,2671.6 L763.3,2672.1 L766.8,2672.1 L770.3,2671.7 L773.8,2672.3 L777.3,2672.9 L780.8,2671.5 L784.3,2671.1 L787.8,2671.3 L791.3,2671.5 L794.8,2671.9 L798.3,2671.4 L801.8,2670.9 L805.3,2670.7 L808.8,2669.8 L812.3,2668.2 L815.8,2667.0 L819.3,2665.7 L822.8,2664.6 L826.3,2662.9 L829.8,2660.7 L833.3,2658.4 L836.8,2655.9 L840.3,2653.4 L843.8,2650.8 L847.3,2648.4 L850.8,2646.3 L854.3,2644.4 L857.8,2641.9 L861.3,2639.5 L864.8,2637.8 L868.3,2636.2 L871.8,2634.7 L875.3,2633.1 L878.8,2631.5 L882.3,2630.8 L885.8,2630.1 L889.3,2629.0 L892.8,2628.1 L896.3,2626.9 L899.8,2626.4 L903.3,2625.9 L906.8,2624.9 L910.3,2624.2 L913.8,2624.4 L917.3,2623.6 L920.8,2622.3 L924.3,2622.0 L927.8,2621.2 L931.3,2619.9 L934.8,2618.1 L938.3,2615.7 L941.8,2614.1 L943.3,2613.4 L944.8,2612.6 L946.3,2611.7 L947.8,2610.9 L949.3,2610.1 L950.8,2609.1 L952.3,2607.8 L953.8,2606.2 L955.3,2604.3 L956.8,2602.1 L958.3,2599.9 L959.8,2597.6 L961.3,2595.0 L962.8,2591.9 L964.3,2588.3 L965.8,2583.8 L967.3,2578.6 L968.8,2573.1 L970.3,2567.7 L971.8,2562.1 L973.3,2556.3 L974.8,2550.2 L976.3,2543.9 L977.8,2537.3 L979.3,2530.5 L980.8,2523.4 L982.3,2516.0 L983.8,2508.5 L985.3,2500.6 L986.8,2492.5 L988.3,2483.9 L989.8,2474.8 L991.3,2465.4 L992.8,2455.4 L994.3,2445.0 L995.8,2433.9 L997.3,2422.0 L998.8,2409.6 L1000.3,2396.5 L1001.8,2382.6 L1003.3,2367.9 L1004.8,2352.4 L1006.3,2335.8 L1007.8,2317.8 L1009.3,2298.2 L1010.8,2277.9 L1012.3,2256.7 L1013.8,2236.5 L1015.3,2217.0 L1016.8,2198.4 L1018.3,2180.8 L1019.8,2164.2 L1021.3,2148.8 L1022.8,2135.3 L1024.3,2124.0 L1025.8,2114.9 L1027.3,2108.0 L1028.8,2102.1 L1030.3,2102.9 L1031.8,2109.1 L1033.3,2116.3 L1034.8,2125.6 L1036.3,2136.4 L1037.8,2147.9 L1039.3,2160.0 L1040.8,2172.5 L1042.3,2184.7 L1043.8,2196.7 L1045.3,2208.5 L1046.8,2219.8 L1048.3,2230.5 L1049.8,2240.4 L1051.3,2249.6 L1052.8,2257.8 L1054.3,2265.2 L1055.8,2271.8 L1057.3,2277.9 L1058.8,2283.7 L1060.3,2289.2 L1061.8,2294.4 L1063.3,2299.1 L1064.8,2303.6 L1066.3,2307.8 L1067.8,2311.9 L1069.3,2316.0 L1070.8,2319.9 L1072.3,2322.8 L1073.8,2324.7 L1075.3,2325.9 L1076.8,2326.6 L1078.3,2326.9 L1079.8,2326.8 L1081.3,2326.7 L1082.8,2326.3 L1084.3,2325.5 L1085.8,2324.4 L1087.3,2323.1 L1088.8,2321.2 L1090.3,2319.1 L1091.8,2316.9 L1093.3,2314.7 L1094.8,2312.3 L1096.3,2309.9 L1097.8,2307.8 L1099.3,2306.0 L1100.8,2304.4 L1102.3,2302.9 L1103.8,2301.5 L1105.3,2300.1 L1106.8,2298.6 L1108.3,2297.3 L1109.8,2296.0 L1111.3,2294.7 L1112.8,2293.1 L1114.3,2291.0 L1115.8,2287.9 L1117.3,2283.9 L1118.8,2279.5 L1120.3,2274.7 L1121.8,2269.2 L1123.3,2262.6 L1124.8,2254.4 L1126.3,2246.2 L1127.8,2238.4 L1129.3,2231.7 L1130.8,2225.8 L1132.3,2220.1 L1133.8,2217.4 L1135.3,2218.4 L1136.8,2225.9 L1138.3,2238.4 L1139.8,2264.3 L1141.3,2297.0 L1142.8,2324.5 L1144.3,2348.3 L1145.8,2370.8 L1147.3,2393.3 L1148.8,2415.8 L1150.3,2438.3 L1151.8,2460.8 L1153.3,2482.8 L1154.8,2503.4 L1156.3,2522.1 L1157.8,2537.9 L1159.3,2550.7 L1160.8,2561.4 L1162.3,2570.8 L1163.8,2578.9 L1165.3,2586.1 L1166.8,2592.4 L1168.3,2598.1 L1169.8,2603.3 L1171.3,2608.2 L1172.8,2612.9 L1174.3,2617.5 L1175.8,2621.7 L1177.3,2625.1 L1178.8,2628.0 L1180.3,2630.4 L1181.8,2632.6 L1183.3,2634.6 L1184.8,2636.4 L1186.3,2638.2 L1187.8,2639.8 L1189.3,2641.3 L1190.8,2642.8 L1192.3,2644.2 L1193.8,2645.6 L1195.3,2647.0 L1196.8,2648.3 L1198.3,2649.4 L1199.8,2650.3 L1201.3,2651.1 L1202.8,2651.9 L1204.3,2652.9 L1205.8,2653.8 L1207.3,2654.8 L1208.8,2655.6 L1210.3,2656.4 L1211.8,2657.3 L1213.3,2658.1 L1214.8,2658.8 L1216.3,2659.3 L1217.8,2659.6 L1219.3,2659.8 L1220.8,2660.2 L1222.3,2660.6 L1223.8,2660.9 L1225.3,2661.2 L1226.8,2661.4 L1228.3,2661.8 L1229.8,2662.2 L1231.3,2662.6 L1232.8,2662.9 L1234.3,2663.2 L1235.8,2663.5 L1237.3,2663.8 L1238.8,2664.0 L1240.3,2664.1 L1241.8,2664.0 L1243.3,2664.0 L1244.8,2664.0 L1246.3,2664.2 L1247.8,2664.6 L1249.3,2665.1 L1250.8,2665.4 L1252.3,2665.6 L1253.8,2665.8 L1255.3,2666.0 L1256.8,2666.3 L1258.3,2666.6 L1259.8,2666.8 L1261.3,2666.9 L1264.8,2667.8 L1268.3,2668.8 L1271.8,2669.3 L1275.3,2669.6 L1278.8,2669.7 L1282.3,2669.9 L1285.8,2670.3 L1289.3,2670.0 L1292.8,2669.3 L1296.3,2670.1 L1299.8,2670.6 L1303.3,2671.0 L1306.8,2670.8 L1310.3,2670.2 L1313.8,2670.7 L1317.3,2671.1 L1320.8,2670.2 L1324.3,2670.0 L1327.8,2670.2 L1331.3,2670.2 L1334.8,2670.0 L1338.3,2669.7 L1341.8,2669.6 L1345.3,2670.6 L1348.8,2670.6 L1352.3,2670.0 L1355.8,2670.2 L1359.3,2670.5 L1362.8,2670.9 L1366.3,2671.2 L1369.8,2672.0 L1373.3,2672.1 L1376.8,2672.2 L1380.3,2671.2 L1383.8,2670.8 L1387.3,2671.6 L1390.8,2671.6 L1394.3,2671.3 L1397.8,2671.4 L1401.3,2671.4 L1404.8,2670.4 L1408.3,2669.9 L1411.8,2669.6 L1415.3,2670.0 L1418.8,2670.9 L1422.3,2671.0 L1425.8,2671.1 L1429.3,2671.1 L1432.8,2671.1 L1436.3,2670.7 L1439.8,2670.8 L1443.3,2670.9 L1446.8,2670.6 L1450.3,2670.4 L1453.8,2670.3 L1457.3,2670.3 L1460.8,2670.5 L1464.3,2671.0 L1467.8,2671.2 L1471.3,2669.9 L1474.8,2670.0 L1478.3,2671.2 L1481.8,2671.3 L1485.3,2671.2 L1488.8,2671.0 L1492.3,2671.0 L1495.8,2671.4 L1499.3,2670.8 L1502.8,2669.8 L1506.3,2671.0 L1509.8,2671.6 L1513.3,2670.5 L1516.8,2670.4 L1520.3,2670.6 L1523.8,2670.5 L1527.3,2670.3 L1530.8,2670.7 L1534.3,2671.1 L1537.8,2672.0 L1541.3,2671.7 L1544.8,2670.8 L1548.3,2671.0 L1551.8,2671.2 L1555.3,2672.3 L1558.8,2672.0 L1562.3,2670.8 L1565.8,2670.6 L1569.3,2670.3 L1572.8,2671.0 L1576.3,2671.1 L1579.8,2670.7 L1583.3,2670.5 L1586.8,2670.6 L1590.3,2669.6 L1593.8,2669.0 L1597.3,2668.4 L1600.8,2668.5 L1604.3,2669.3 L1607.8,2668.6 L1611.3,2667.9 L1614.8,2668.1 L1618.3,2667.9 L1621.8,2666.7 L1625.3,2666.9 L1628.8,2667.7 L1632.3,2667.0 L1635.8,2666.5 L1639.3,2666.7 L1642.8,2666.0 L1646.3,2664.4 L1649.8,2664.6 L1653.3,2664.9 L1656.8,2664.3 L1660.3,2664.1 L1663.8,2664.6 L1667.3,2664.4 L1670.8,2664.2 L1674.3,2664.5 L1677.8,2664.4 L1681.3,2662.8 L1684.8,2662.4 L1688.3,2662.5 L1691.8,2662.6 L1695.3,2662.8 L1698.8,2663.7 L1702.3,2663.8 L1705.8,2662.7 L1709.3,2663.0 L1712.8,2663.7 L1716.3,2663.0 L1719.8,2662.8 L1723.3,2664.4 L1726.8,2664.5 L1730.3,2663.6 L1733.8,2663.9 L1737.3,2664.3 L1740.8,2664.4 L1744.3,2664.4 L1747.8,2664.3 L1751.3,2663.9 L1754.8,2663.2 L1758.3,2663.6 L1761.8,2663.7 L1765.3,2663.1 L1768.8,2662.6 L1772.3,2661.7 L1775.8,2662.0 L1779.3,2662.1 L1782.8,2661.8 L1786.3,2661.1 L1789.8,2659.4 L1793.3,2659.1 L1796.8,2659.1 L1800.3,2659.3 L1803.8,2659.5 L1807.3,2658.9 L1810.8,2659.3 L1814.3,2660.0 L1817.8,2661.4 L1821.3,2662.7 L1824.8,2662.5 L1828.3,2662.6 L1831.8,2662.9 L1835.3,2663.4 L1838.8,2663.9 L1842.3,2663.8 L1845.8,2663.5 L1849.3,2662.3 L1852.8,2662.4 L1856.3,2663.5 L1859.8,2662.9 L1863.3,2662.3 L1866.8,2663.4 L1870.3,2663.6 L1873.8,2663.3 L1877.3,2662.6 L1880.8,2661.6 L1884.3,2661.6 L1887.8,2661.4 L1891.3,2660.6 L1894.8,2660.8 L1898.3,2661.8 L1901.8,2661.5 L1905.3,2661.3 L1908.8,2662.1 L1912.3,2663.2 L1915.8,2664.9 L1919.3,2666.3 L1922.8,2667.8 L1926.3,2670.0 L1929.8,2671.5 L1933.3,2671.5 L1936.8,2672.2 L1940.3,2673.3 L1943.8,2674.1 L1947.3,2674.6 L1950.8,2673.9 L1954.3,2673.5 L1957.8,2673.4 L1961.3,2673.1 L1964.8,2672.9 L1968.3,2672.9 L1969.6,2673.0"/>
<path class="cb" stroke="#F28E2F" d="M80.8,2558.4 L84.3,2558.0 L87.8,2557.7 L91.3,2557.9 L94.8,2558.0 L98.3,2558.5 L101.8,2558.0 L105.3,2557.5 L108.8,2557.2 L112.3,2557.0 L115.8,2556.9 L119.3,2556.5 L122.8,2555.9 L126.3,2556.2 L129.8,2556.3 L133.3,2555.6 L136.8,2555.2 L140.3,2554.8 L143.8,2555.0 L147.3,2555.2 L150.8,2553.8 L154.3,2553.4 L157.8,2554.3 L161.3,2553.8 L164.8,2553.0 L168.3,2553.1 L171.8,2553.3 L175.3,2554.0 L178.8,2553.8 L182.3,2552.7 L185.8,2553.2 L189.3,2553.7 L192.8,2553.5 L196.3,2553.4 L199.8,2553.2 L203.3,2554.0 L206.8,2555.2 L210.3,2554.3 L213.8,2553.8 L217.3,2554.7 L220.8,2555.1 L224.3,2555.8 L227.8,2554.9 L231.3,2554.0 L234.8,2554.7 L238.3,2554.8 L241.8,2554.3 L245.3,2554.3 L248.8,2554.5 L252.3,2554.7 L255.8,2554.7 L259.3,2553.7 L262.8,2553.4 L266.3,2553.3 L269.8,2553.2 L273.3,2553.2 L276.8,2553.6 L280.3,2553.7 L283.8,2553.3 L287.3,2552.8 L290.8,2552.2 L294.3,2552.2 L297.8,2552.2 L301.3,2552.2 L304.8,2552.1 L308.3,2552.3 L311.8,2552.7 L315.3,2553.0 L318.8,2552.3 L322.3,2551.9 L325.8,2551.7 L329.3,2551.1 L332.8,2550.2 L336.3,2550.6 L339.8,2550.8 L343.3,2550.8 L346.8,2550.6 L350.3,2550.1 L353.8,2549.4 L357.3,2548.6 L360.8,2548.9 L364.3,2549.1 L367.8,2548.9 L371.3,2549.9 L374.8,2551.1 L378.3,2552.2 L381.8,2553.4 L385.3,2554.7 L388.8,2555.5 L392.3,2555.5 L395.8,2555.9 L399.3,2556.2 L402.8,2557.2 L406.3,2557.7 L409.8,2557.5 L413.3,2557.9 L416.8,2558.5 L420.3,2558.1 L423.8,2558.0 L427.3,2559.5 L430.8,2559.7 L434.3,2559.4 L437.8,2559.7 L441.3,2559.9 L444.8,2559.5 L448.3,2559.5 L451.8,2560.0 L455.3,2560.4 L458.8,2560.9 L462.3,2560.1 L465.8,2559.7 L469.3,2560.0 L472.8,2560.0 L476.3,2559.6 L479.8,2559.8 L483.3,2560.0 L486.8,2560.2 L490.3,2560.1 L493.8,2559.9 L497.3,2559.8 L500.8,2559.6 L504.3,2560.3 L507.8,2560.7 L511.3,2560.4 L514.8,2560.4 L518.3,2560.5 L521.8,2560.2 L525.3,2559.8 L528.8,2560.4 L532.3,2560.7 L535.8,2561.1 L539.3,2560.6 L542.8,2559.8 L546.3,2559.9 L549.8,2560.0 L553.3,2560.8 L556.8,2560.7 L560.3,2559.8 L563.8,2560.5 L567.3,2561.2 L570.8,2560.7 L574.3,2560.4 L577.8,2559.7 L581.3,2559.7 L584.8,2559.9 L588.3,2560.5 L591.8,2560.9 L595.3,2560.6 L598.8,2560.3 L602.3,2559.7 L605.8,2559.8 L609.3,2560.1 L612.8,2560.4 L616.3,2560.4 L619.8,2559.8 L623.3,2559.9 L626.8,2560.0 L630.3,2560.9 L633.8,2561.4 L637.3,2561.2 L640.8,2560.9 L644.3,2560.2 L647.8,2560.8 L651.3,2561.4 L654.8,2560.8 L658.3,2560.6 L661.8,2560.8 L665.3,2560.5 L668.8,2560.1 L672.3,2561.0 L675.8,2561.5 L679.3,2560.4 L682.8,2560.2 L686.3,2560.2 L689.8,2560.5 L693.3,2560.6 L696.8,2559.8 L700.3,2559.6 L703.8,2560.5 L707.3,2560.6 L710.8,2560.6 L714.3,2560.5 L717.8,2560.5 L721.3,2560.7 L724.8,2560.6 L728.3,2559.9 L731.8,2560.2 L735.3,2560.5 L738.8,2561.3 L742.3,2561.3 L745.8,2560.3 L749.3,2560.3 L752.8,2560.6 L756.3,2560.0 L759.8,2559.4 L763.3,2558.8 L766.8,2558.6 L770.3,2558.7 L773.8,2558.5 L777.3,2558.2 L780.8,2557.9 L784.3,2557.5 L787.8,2557.1 L791.3,2556.1 L794.8,2554.8 L798.3,2554.1 L801.8,2553.3 L805.3,2552.5 L808.8,2551.8 L812.3,2551.5 L815.8,2549.9 L819.3,2548.2 L822.8,2547.3 L826.3,2545.9 L829.8,2544.3 L833.3,2542.5 L836.8,2540.7 L840.3,2539.3 L843.8,2537.8 L847.3,2536.4 L850.8,2534.7 L854.3,2532.7 L857.8,2531.0 L861.3,2529.5 L864.8,2528.5 L868.3,2527.1 L871.8,2525.3 L875.3,2524.0 L878.8,2522.9 L882.3,2522.2 L885.8,2521.7 L889.3,2520.6 L892.8,2520.3 L896.3,2520.2 L899.8,2519.9 L903.3,2519.8 L906.8,2519.6 L910.3,2519.3 L913.8,2518.4 L917.3,2518.3 L920.8,2518.3 L924.3,2517.6 L927.8,2516.8 L931.3,2515.7 L934.8,2514.3 L938.3,2512.8 L941.8,2511.4 L943.3,2510.8 L944.8,2510.0 L946.3,2508.9 L947.8,2507.8 L949.3,2506.6 L950.8,2505.2 L952.3,2503.5 L953.8,2501.6 L955.3,2499.4 L956.8,2497.0 L958.3,2494.3 L959.8,2491.3 L961.3,2487.8 L962.8,2483.9 L964.3,2479.6 L965.8,2474.9 L967.3,2470.2 L968.8,2465.4 L970.3,2460.5 L971.8,2455.4 L973.3,2450.2 L974.8,2444.7 L976.3,2438.8 L977.8,2432.6 L979.3,2425.9 L980.8,2418.6 L982.3,2410.7 L983.8,2402.2 L985.3,2393.1 L986.8,2383.5 L988.3,2373.4 L989.8,2362.7 L991.3,2351.2 L992.8,2338.9 L994.3,2325.7 L995.8,2311.1 L997.3,2295.5 L998.8,2279.3 L1000.3,2262.3 L1001.8,2245.3 L1003.3,2229.2 L1004.8,2213.6 L1006.3,2198.4 L1007.8,2183.6 L1009.3,2169.4 L1010.8,2155.5 L1012.3,2141.2 L1013.8,2126.7 L1015.3,2111.8 L1016.8,2096.1 L1018.3,2079.7 L1019.8,2063.5 L1021.3,2047.2 L1022.8,2031.7 L1024.3,2018.0 L1025.8,2005.9 L1027.3,1996.0 L1028.8,1988.9 L1030.3,1987.4 L1031.8,1992.6 L1033.3,1998.6 L1034.8,2006.4 L1036.3,2015.4 L1037.8,2024.9 L1039.3,2035.0 L1040.8,2045.4 L1042.3,2055.9 L1043.8,2066.1 L1045.3,2076.2 L1046.8,2086.2 L1048.3,2095.7 L1049.8,2104.9 L1051.3,2113.7 L1052.8,2122.1 L1054.3,2129.9 L1055.8,2137.3 L1057.3,2144.2 L1058.8,2150.8 L1060.3,2157.0 L1061.8,2162.7 L1063.3,2168.1 L1064.8,2173.3 L1066.3,2178.4 L1067.8,2183.4 L1069.3,2187.9 L1070.8,2191.6 L1072.3,2194.3 L1073.8,2196.4 L1075.3,2198.2 L1076.8,2199.8 L1078.3,2201.0 L1079.8,2201.5 L1081.3,2201.4 L1082.8,2201.3 L1084.3,2201.0 L1085.8,2200.2 L1087.3,2198.9 L1088.8,2197.1 L1090.3,2195.0 L1091.8,2192.8 L1093.3,2190.3 L1094.8,2187.5 L1096.3,2184.6 L1097.8,2181.9 L1099.3,2179.6 L1100.8,2177.6 L1102.3,2175.8 L1103.8,2174.0 L1105.3,2172.2 L1106.8,2170.5 L1108.3,2168.9 L1109.8,2167.2 L1111.3,2165.4 L1112.8,2163.5 L1114.3,2161.5 L1115.8,2159.3 L1117.3,2156.8 L1118.8,2153.8 L1120.3,2149.9 L1121.8,2145.7 L1123.3,2141.6 L1124.8,2137.5 L1126.3,2133.3 L1127.8,2129.0 L1129.3,2124.7 L1130.8,2120.8 L1132.3,2118.3 L1133.8,2117.3 L1135.3,2120.6 L1136.8,2127.5 L1138.3,2136.4 L1139.8,2149.9 L1141.3,2168.9 L1142.8,2191.3 L1144.3,2217.4 L1145.8,2247.4 L1147.3,2275.4 L1148.8,2298.3 L1150.3,2318.1 L1151.8,2336.4 L1153.3,2353.6 L1154.8,2369.8 L1156.3,2385.2 L1157.8,2399.5 L1159.3,2412.9 L1160.8,2425.1 L1162.3,2436.4 L1163.8,2446.8 L1165.3,2456.3 L1166.8,2464.8 L1168.3,2472.5 L1169.8,2479.5 L1171.3,2485.8 L1172.8,2491.7 L1174.3,2497.0 L1175.8,2501.7 L1177.3,2506.1 L1178.8,2510.3 L1180.3,2514.3 L1181.8,2518.0 L1183.3,2520.9 L1184.8,2523.3 L1186.3,2525.4 L1187.8,2527.2 L1189.3,2528.9 L1190.8,2530.5 L1192.3,2531.9 L1193.8,2533.2 L1195.3,2534.4 L1196.8,2535.6 L1198.3,2536.6 L1199.8,2537.6 L1201.3,2538.4 L1202.8,2539.3 L1204.3,2540.1 L1205.8,2541.0 L1207.3,2541.8 L1208.8,2542.5 L1210.3,2543.1 L1211.8,2543.6 L1213.3,2544.0 L1214.8,2544.4 L1216.3,2545.0 L1217.8,2545.8 L1219.3,2546.6 L1220.8,2547.2 L1222.3,2547.3 L1223.8,2547.2 L1225.3,2547.1 L1226.8,2547.2 L1228.3,2547.4 L1229.8,2547.7 L1231.3,2547.9 L1232.8,2548.0 L1234.3,2548.3 L1235.8,2548.7 L1237.3,2549.0 L1238.8,2549.3 L1240.3,2549.2 L1241.8,2549.0 L1243.3,2548.8 L1244.8,2548.8 L1246.3,2549.1 L1247.8,2549.6 L1249.3,2550.1 L1250.8,2550.5 L1252.3,2550.8 L1253.8,2551.1 L1255.3,2551.5 L1256.8,2551.8 L1258.3,2552.0 L1259.8,2551.9 L1261.3,2551.9 L1264.8,2552.1 L1268.3,2552.6 L1271.8,2553.4 L1275.3,2554.2 L1278.8,2554.2 L1282.3,2554.3 L1285.8,2554.7 L1289.3,2554.6 L1292.8,2554.4 L1296.3,2555.3 L1299.8,2555.8 L1303.3,2555.0 L1306.8,2554.7 L1310.3,2554.4 L1313.8,2554.4 L1317.3,2554.6 L1320.8,2555.4 L1324.3,2555.8 L1327.8,2555.8 L1331.3,2555.6 L1334.8,2555.3 L1338.3,2555.5 L1341.8,2555.7 L1345.3,2555.4 L1348.8,2555.4 L1352.3,2555.5 L1355.8,2555.6 L1359.3,2555.7 L1362.8,2555.8 L1366.3,2556.2 L1369.8,2557.5 L1373.3,2557.4 L1376.8,2556.9 L1380.3,2556.6 L1383.8,2556.5 L1387.3,2556.7 L1390.8,2556.9 L1394.3,2557.5 L1397.8,2557.5 L1401.3,2557.4 L1404.8,2557.0 L1408.3,2556.6 L1411.8,2555.7 L1415.3,2556.0 L1418.8,2556.7 L1422.3,2556.6 L1425.8,2556.6 L1429.3,2556.2 L1432.8,2556.5 L1436.3,2557.7 L1439.8,2557.6 L1443.3,2557.5 L1446.8,2556.7 L1450.3,2556.7 L1453.8,2558.0 L1457.3,2558.1 L1460.8,2558.1 L1464.3,2557.1 L1467.8,2556.6 L1471.3,2557.8 L1474.8,2557.6 L1478.3,2556.7 L1481.8,2557.2 L1485.3,2557.7 L1488.8,2556.7 L1492.3,2556.5 L1495.8,2557.2 L1499.3,2557.3 L1502.8,2557.3 L1506.3,2556.9 L1509.8,2556.6 L1513.3,2557.4 L1516.8,2557.3 L1520.3,2556.4 L1523.8,2557.0 L1527.3,2557.7 L1530.8,2558.0 L1534.3,2558.1 L1537.8,2558.2 L1541.3,2558.1 L1544.8,2557.9 L1548.3,2558.6 L1551.8,2559.1 L1555.3,2559.3 L1558.8,2559.2 L1562.3,2558.8 L1565.8,2558.6 L1569.3,2558.3 L1572.8,2557.1 L1576.3,2556.4 L1579.8,2555.5 L1583.3,2555.3 L1586.8,2555.3 L1590.3,2556.0 L1593.8,2556.4 L1597.3,2555.3 L1600.8,2555.1 L1604.3,2555.1 L1607.8,2555.1 L1611.3,2554.8 L1614.8,2554.8 L1618.3,2554.4 L1621.8,2554.3 L1625.3,2553.4 L1628.8,2552.3 L1632.3,2552.3 L1635.8,2552.3 L1639.3,2552.9 L1642.8,2552.6 L1646.3,2551.3 L1649.8,2551.0 L1653.3,2550.6 L1656.8,2550.6 L1660.3,2550.5 L1663.8,2550.3 L1667.3,2549.9 L1670.8,2549.6 L1674.3,2550.4 L1677.8,2551.0 L1681.3,2551.3 L1684.8,2551.4 L1688.3,2551.3 L1691.8,2551.0 L1695.3,2550.6 L1698.8,2551.2 L1702.3,2551.5 L1705.8,2551.7 L1709.3,2551.6 L1712.8,2551.4 L1716.3,2551.1 L1719.8,2551.0 L1723.3,2552.0 L1726.8,2552.3 L1730.3,2552.6 L1733.8,2552.5 L1737.3,2552.2 L1740.8,2551.6 L1744.3,2551.3 L1747.8,2550.8 L1751.3,2550.6 L1754.8,2550.3 L1758.3,2550.7 L1761.8,2550.8 L1765.3,2550.4 L1768.8,2550.5 L1772.3,2551.3 L1775.8,2550.8 L1779.3,2550.2 L1782.8,2549.5 L1786.3,2549.0 L1789.8,2548.3 L1793.3,2547.8 L1796.8,2547.4 L1800.3,2547.7 L1803.8,2548.0 L1807.3,2548.0 L1810.8,2548.0 L1814.3,2547.7 L1817.8,2548.3 L1821.3,2548.9 L1824.8,2549.5 L1828.3,2549.9 L1831.8,2550.0 L1835.3,2549.9 L1838.8,2549.5 L1842.3,2549.1 L1845.8,2549.0 L1849.3,2549.8 L1852.8,2549.7 L1856.3,2549.1 L1859.8,2548.9 L1863.3,2548.9 L1866.8,2550.0 L1870.3,2550.2 L1873.8,2548.9 L1877.3,2548.8 L1880.8,2548.7 L1884.3,2548.6 L1887.8,2548.6 L1891.3,2549.0 L1894.8,2548.9 L1898.3,2548.3 L1901.8,2548.1 L1905.3,2548.0 L1908.8,2548.6 L1912.3,2549.2 L1915.8,2550.6 L1919.3,2552.6 L1922.8,2554.4 L1926.3,2555.8 L1929.8,2557.0 L1933.3,2558.5 L1936.8,2559.2 L1940.3,2559.0 L1943.8,2560.1 L1947.3,2561.0 L1950.8,2560.4 L1954.3,2560.3 L1957.8,2560.3 L1961.3,2560.2 L1964.8,2560.0 L1968.3,2559.6 L1969.6,2559.5"/>
<path class="lgb" stroke="#F28E2F" d="M1960.6,2560.8H2026.3"/>
<path class="lgb" stroke="#F2C091" d="M1960.6,2676.3H2034.3"/>
<path class="lgb" stroke="#2DB455" d="M1960.6,2774.2H2036.3"/>
<path class="lgb" stroke="#ACD797" d="M1960.6,2892.3H2026.3"/>
<path class="lgb" stroke="#DC4558" d="M1960.6,3010.5H2028.8"/>
<path class="lgb" stroke="#EDA3C4" d="M1960.6,3112.0H2024.3"/>
<path class="lgb" stroke="#12ABE2" d="M1960.6,3243.5H2033.5"/>
<path class="lgb" stroke="#A3CCE3" d="M1960.6,3343.0H2027.5"/>
<rect class="frb" x="80.80" y="1873.50" width="1888.80" height="1522.00"/>
<path class="frb" d="M80.8,3395.5v30.0M238.2,3395.5v15.5M395.6,3395.5v30.0M553.0,3395.5v15.5M710.4,3395.5v30.0M867.8,3395.5v15.5M1025.2,3395.5v30.0M1182.6,3395.5v15.5M1340.0,3395.5v30.0M1497.4,3395.5v15.5M1654.8,3395.5v30.0M1812.2,3395.5v15.5M1969.6,3395.5v30.0"/>
<text class="tkb" transform="translate(80.8,3495.6) scale(1,1.030)">−60</text>
<text class="tkb" transform="translate(395.6,3495.6) scale(1,1.030)">−40</text>
<text class="tkb" transform="translate(710.4,3495.6) scale(1,1.030)">−20</text>
<text class="tkb" transform="translate(1025.2,3495.6) scale(1,1.030)">0</text>
<text class="tkb" transform="translate(1340.0,3495.6) scale(1,1.030)">20</text>
<text class="tkb" transform="translate(1654.8,3495.6) scale(1,1.030)">40</text>
<text class="tkb" transform="translate(1969.6,3495.6) scale(1,1.030)">60</text>
<text class="slb" transform="translate(2027.2,2580.4) scale(1,1.030)">3S_10PM</text>
<text class="slb" transform="translate(2035.2,2687.6) scale(1,1.030)">0S_10PM</text>
<text class="slb" transform="translate(2034.7,2791.3) scale(1,1.030)">3S_6PMC</text>
<text class="slb" transform="translate(2032.2,2913.3) scale(1,1.030)">0S_6PMC</text>
<text class="slb" transform="translate(2025.2,3024.4) scale(1,1.030)">3S_6PC</text>
<text class="slb" transform="translate(2026.0,3130.9) scale(1,1.030)">0S_6PC</text>
<text class="slb" transform="translate(2036.0,3261.9) scale(1,1.030)">3S_6PM</text>
<text class="slb" transform="translate(2027.0,3354.1) scale(1,1.030)">0S_6PM</text>
<text class="axb" transform="translate(733.0,3621.5) scale(1,1.030)">ppm from H<tspan dy="23" dx="-0.8" font-size="55.5px">3</tspan><tspan dy="-23">PO</tspan><tspan dy="23" dx="-0.5" font-size="55.5px">4</tspan></text>
<text class="plb" transform="translate(82.3,1943.0) scale(1,0.970)">(b)</text>
<text class="stb" transform="translate(366.2,2554.6) scale(1,1.255)">*</text>
<text class="stb" transform="translate(1880.8,2548.1) scale(1,1.255)">*</text>
</g>
</svg></body></html>
